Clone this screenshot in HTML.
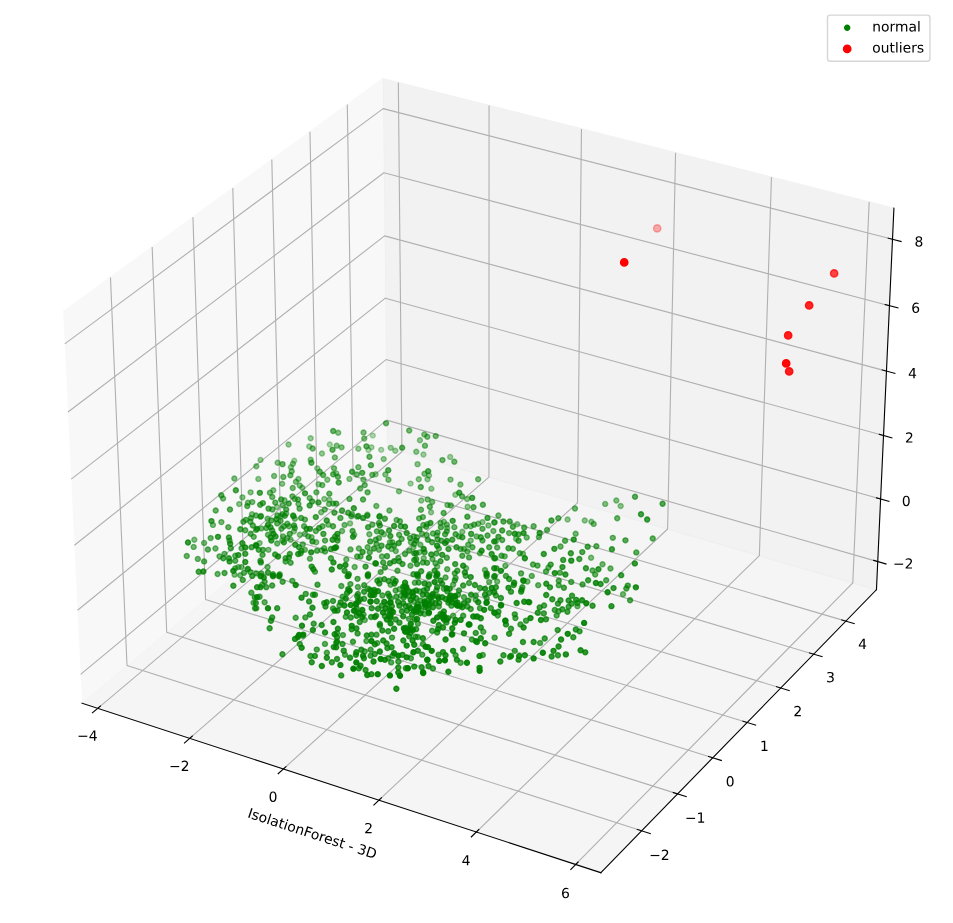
<!DOCTYPE html><html><head><meta charset="utf-8"><style>html,body{margin:0;padding:0;background:#fff;width:953px;height:923px;overflow:hidden}</style></head><body> <svg width="953" height="923" viewBox="0 0 686.448 664.56" preserveAspectRatio="none" style="display:block"> <defs> <style type="text/css">*{stroke-linejoin: round; stroke-linecap: butt}</style> </defs> <g id="figure_1" transform="translate(0.360 0.288)"> <g id="patch_1"> <path d="M 0 664.56 L 686.44 664.56 L 686.44 0 L 0 0 z " style="fill: #ffffff"/> </g> <g id="patch_2"> <path d="M 8.48 670.05 L 673.76 670.05 L 673.76 4.77 L 8.48 4.77 z " style="fill: #ffffff"/> </g> <g id="pane3d_1"> <g id="patch_3"> <path d="M 58.72 506.01 L 278.41 321.86 L 275.36 56.27 L 45.15 224.27 " style="fill: #f2f2f2; opacity: 0.5; stroke: #f2f2f2; stroke-linejoin: miter"/> </g> </g> <g id="pane3d_2"> <g id="patch_4"> <path d="M 278.41 321.86 L 630.95 424.32 L 643.53 149.59 L 275.36 56.27 " style="fill: #e6e6e6; opacity: 0.5; stroke: #e6e6e6; stroke-linejoin: miter"/> </g> </g> <g id="pane3d_3"> <g id="patch_5"> <path d="M 58.72 506.01 L 432.42 628.06 L 630.95 424.32 L 278.41 321.86 " style="fill: #ececec; opacity: 0.5; stroke: #ececec; stroke-linejoin: miter"/> </g> </g> <g id="grid3d_1"> <g id="Line3DCollection_1"> <path d="M 70.06 509.72 L 289.16 324.98 L 286.56 59.11 " style="fill: none; stroke: #b0b0b0; stroke-width: 0.8"/> <path d="M 136.27 531.34 L 351.83 343.20 L 351.91 75.67 " style="fill: none; stroke: #b0b0b0; stroke-width: 0.8"/> <path d="M 203.76 553.38 L 415.61 361.73 L 418.46 92.54 " style="fill: none; stroke: #b0b0b0; stroke-width: 0.8"/> <path d="M 272.56 575.85 L 480.53 380.60 L 486.25 109.73 " style="fill: none; stroke: #b0b0b0; stroke-width: 0.8"/> <path d="M 342.73 598.77 L 546.62 399.81 L 555.32 127.23 " style="fill: none; stroke: #b0b0b0; stroke-width: 0.8"/> <path d="M 414.29 622.14 L 613.91 419.37 L 625.70 145.07 " style="fill: none; stroke: #b0b0b0; stroke-width: 0.8"/> </g> </g> <g id="grid3d_2"> <g id="Line3DCollection_2"> <path d="M 79.21 199.41 L 91.12 478.85 L 461.81 597.90 " style="fill: none; stroke: #b0b0b0; stroke-width: 0.8"/> <path d="M 109.25 177.49 L 119.72 454.88 L 487.72 571.31 " style="fill: none; stroke: #b0b0b0; stroke-width: 0.8"/> <path d="M 138.61 156.06 L 147.71 431.41 L 513.05 545.32 " style="fill: none; stroke: #b0b0b0; stroke-width: 0.8"/> <path d="M 167.33 135.11 L 175.11 408.45 L 537.82 519.90 " style="fill: none; stroke: #b0b0b0; stroke-width: 0.8"/> <path d="M 195.42 114.61 L 201.94 385.96 L 562.04 495.04 " style="fill: none; stroke: #b0b0b0; stroke-width: 0.8"/> <path d="M 222.91 94.55 L 228.21 363.94 L 585.74 470.72 " style="fill: none; stroke: #b0b0b0; stroke-width: 0.8"/> <path d="M 249.81 74.92 L 253.95 342.36 L 608.93 446.92 " style="fill: none; stroke: #b0b0b0; stroke-width: 0.8"/> </g> </g> <g id="grid3d_3"> <g id="Line3DCollection_3"> <path d="M 631.88 404.06 L 278.19 302.22 L 57.72 485.26 " style="fill: none; stroke: #b0b0b0; stroke-width: 0.8"/> <path d="M 633.94 359.01 L 277.69 258.61 L 55.49 439.11 " style="fill: none; stroke: #b0b0b0; stroke-width: 0.8"/> <path d="M 636.03 313.29 L 277.18 214.39 L 53.24 392.26 " style="fill: none; stroke: #b0b0b0; stroke-width: 0.8"/> <path d="M 638.16 266.90 L 276.66 169.54 L 50.95 344.69 " style="fill: none; stroke: #b0b0b0; stroke-width: 0.8"/> <path d="M 640.31 219.81 L 276.14 124.05 L 48.62 296.37 " style="fill: none; stroke: #b0b0b0; stroke-width: 0.8"/> <path d="M 642.50 172.02 L 275.61 77.91 L 46.26 247.30 " style="fill: none; stroke: #b0b0b0; stroke-width: 0.8"/> </g> </g> <g id="axis3d_1"> <g id="line2d_1"> <path d="M 58.72 506.01 L 432.42 628.06 " style="fill: none; stroke: #000000; stroke-width: 0.8; stroke-linecap: square"/> </g> <g id="xtick_1"> <g id="line2d_2"> <path d="M 71.97 508.11 L 66.24 512.94 " style="fill: none; stroke: #000000; stroke-width: 0.8; stroke-linecap: square"/> </g> <g id="text_1"> <!-- −4 --> <g transform="translate(55.181908 532.965498) scale(0.1 -0.1)"> <defs> <path id="DejaVuSans-2212" d="M 678 2272 L 4684 2272 L 4684 1741 L 678 1741 L 678 2272 z " transform="scale(0.015625)"/> <path id="DejaVuSans-34" d="M 2419 4116 L 825 1625 L 2419 1625 L 2419 4116 z M 2253 4666 L 3047 4666 L 3047 1625 L 3713 1625 L 3713 1100 L 3047 1100 L 3047 0 L 2419 0 L 2419 1100 L 313 1100 L 313 1709 L 2253 4666 z " transform="scale(0.015625)"/> </defs> <use href="#DejaVuSans-2212"/> <use href="#DejaVuSans-34" transform="translate(83.789062 0)"/> </g> </g> </g> <g id="xtick_2"> <g id="line2d_3"> <path d="M 138.15 529.70 L 132.51 534.63 " style="fill: none; stroke: #000000; stroke-width: 0.8; stroke-linecap: square"/> </g> <g id="text_2"> <!-- −2 --> <g transform="translate(121.415545 554.771027) scale(0.1 -0.1)"> <defs> <path id="DejaVuSans-32" d="M 1228 531 L 3431 531 L 3431 0 L 469 0 L 469 531 Q 828 903 1448 1529 Q 2069 2156 2228 2338 Q 2531 2678 2651 2914 Q 2772 3150 2772 3378 Q 2772 3750 2511 3984 Q 2250 4219 1831 4219 Q 1534 4219 1204 4116 Q 875 4013 500 3803 L 500 4441 Q 881 4594 1212 4672 Q 1544 4750 1819 4750 Q 2544 4750 2975 4387 Q 3406 4025 3406 3419 Q 3406 3131 3298 2873 Q 3191 2616 2906 2266 Q 2828 2175 2409 1742 Q 1991 1309 1228 531 z " transform="scale(0.015625)"/> </defs> <use href="#DejaVuSans-2212"/> <use href="#DejaVuSans-32" transform="translate(83.789062 0)"/> </g> </g> </g> <g id="xtick_3"> <g id="line2d_4"> <path d="M 205.61 551.71 L 200.06 556.73 " style="fill: none; stroke: #000000; stroke-width: 0.8; stroke-linecap: square"/> </g> <g id="text_3"> <!-- 0 --> <g transform="translate(193.12204 576.998951) scale(0.1 -0.1)"> <defs> <path id="DejaVuSans-30" d="M 2034 4250 Q 1547 4250 1301 3770 Q 1056 3291 1056 2328 Q 1056 1369 1301 889 Q 1547 409 2034 409 Q 2525 409 2770 889 Q 3016 1369 3016 2328 Q 3016 3291 2770 3770 Q 2525 4250 2034 4250 z M 2034 4750 Q 2819 4750 3233 4129 Q 3647 3509 3647 2328 Q 3647 1150 3233 529 Q 2819 -91 2034 -91 Q 1250 -91 836 529 Q 422 1150 422 2328 Q 422 3509 836 4129 Q 1250 4750 2034 4750 z " transform="scale(0.015625)"/> </defs> <use href="#DejaVuSans-30"/> </g> </g> </g> <g id="xtick_4"> <g id="line2d_5"> <path d="M 274.38 574.15 L 268.93 579.27 " style="fill: none; stroke: #000000; stroke-width: 0.8; stroke-linecap: square"/> </g> <g id="text_4"> <!-- 2 --> <g transform="translate(261.95935 599.661665) scale(0.1 -0.1)"> <use href="#DejaVuSans-32"/> </g> </g> </g> <g id="xtick_5"> <g id="line2d_6"> <path d="M 344.51 597.03 L 339.16 602.25 " style="fill: none; stroke: #000000; stroke-width: 0.8; stroke-linecap: square"/> </g> <g id="text_5"> <!-- 4 --> <g transform="translate(332.156452 622.772051) scale(0.1 -0.1)"> <use href="#DejaVuSans-34"/> </g> </g> </g> <g id="xtick_6"> <g id="line2d_7"> <path d="M 416.03 620.37 L 410.79 625.69 " style="fill: none; stroke: #000000; stroke-width: 0.8; stroke-linecap: square"/> </g> <g id="text_6"> <!-- 6 --> <g transform="translate(403.754038 646.343507) scale(0.1 -0.1)"> <defs> <path id="DejaVuSans-36" d="M 2113 2584 Q 1688 2584 1439 2293 Q 1191 2003 1191 1497 Q 1191 994 1439 701 Q 1688 409 2113 409 Q 2538 409 2786 701 Q 3034 994 3034 1497 Q 3034 2003 2786 2293 Q 2538 2584 2113 2584 z M 3366 4563 L 3366 3988 Q 3128 4100 2886 4159 Q 2644 4219 2406 4219 Q 1781 4219 1451 3797 Q 1122 3375 1075 2522 Q 1259 2794 1537 2939 Q 1816 3084 2150 3084 Q 2853 3084 3261 2657 Q 3669 2231 3669 1497 Q 3669 778 3244 343 Q 2819 -91 2113 -91 Q 1303 -91 875 529 Q 447 1150 447 2328 Q 447 3434 972 4092 Q 1497 4750 2381 4750 Q 2619 4750 2861 4703 Q 3103 4656 3366 4563 z " transform="scale(0.015625)"/> </defs> <use href="#DejaVuSans-36"/> </g> </g> </g> <g id="text_7"> <!-- IsolationForest - 3D --> <g transform="translate(177.456627 588.089284) rotate(-341.912962) scale(0.1 -0.1)"> <defs> <path id="DejaVuSans-49" d="M 628 4666 L 1259 4666 L 1259 0 L 628 0 L 628 4666 z " transform="scale(0.015625)"/> <path id="DejaVuSans-73" d="M 2834 3397 L 2834 2853 Q 2591 2978 2328 3040 Q 2066 3103 1784 3103 Q 1356 3103 1142 2972 Q 928 2841 928 2578 Q 928 2378 1081 2264 Q 1234 2150 1697 2047 L 1894 2003 Q 2506 1872 2764 1633 Q 3022 1394 3022 966 Q 3022 478 2636 193 Q 2250 -91 1575 -91 Q 1294 -91 989 -36 Q 684 19 347 128 L 347 722 Q 666 556 975 473 Q 1284 391 1588 391 Q 1994 391 2212 530 Q 2431 669 2431 922 Q 2431 1156 2273 1281 Q 2116 1406 1581 1522 L 1381 1569 Q 847 1681 609 1914 Q 372 2147 372 2553 Q 372 3047 722 3315 Q 1072 3584 1716 3584 Q 2034 3584 2315 3537 Q 2597 3491 2834 3397 z " transform="scale(0.015625)"/> <path id="DejaVuSans-6f" d="M 1959 3097 Q 1497 3097 1228 2736 Q 959 2375 959 1747 Q 959 1119 1226 758 Q 1494 397 1959 397 Q 2419 397 2687 759 Q 2956 1122 2956 1747 Q 2956 2369 2687 2733 Q 2419 3097 1959 3097 z M 1959 3584 Q 2709 3584 3137 3096 Q 3566 2609 3566 1747 Q 3566 888 3137 398 Q 2709 -91 1959 -91 Q 1206 -91 779 398 Q 353 888 353 1747 Q 353 2609 779 3096 Q 1206 3584 1959 3584 z " transform="scale(0.015625)"/> <path id="DejaVuSans-6c" d="M 603 4863 L 1178 4863 L 1178 0 L 603 0 L 603 4863 z " transform="scale(0.015625)"/> <path id="DejaVuSans-61" d="M 2194 1759 Q 1497 1759 1228 1600 Q 959 1441 959 1056 Q 959 750 1161 570 Q 1363 391 1709 391 Q 2188 391 2477 730 Q 2766 1069 2766 1631 L 2766 1759 L 2194 1759 z M 3341 1997 L 3341 0 L 2766 0 L 2766 531 Q 2569 213 2275 61 Q 1981 -91 1556 -91 Q 1019 -91 701 211 Q 384 513 384 1019 Q 384 1609 779 1909 Q 1175 2209 1959 2209 L 2766 2209 L 2766 2266 Q 2766 2663 2505 2880 Q 2244 3097 1772 3097 Q 1472 3097 1187 3025 Q 903 2953 641 2809 L 641 3341 Q 956 3463 1253 3523 Q 1550 3584 1831 3584 Q 2591 3584 2966 3190 Q 3341 2797 3341 1997 z " transform="scale(0.015625)"/> <path id="DejaVuSans-74" d="M 1172 4494 L 1172 3500 L 2356 3500 L 2356 3053 L 1172 3053 L 1172 1153 Q 1172 725 1289 603 Q 1406 481 1766 481 L 2356 481 L 2356 0 L 1766 0 Q 1100 0 847 248 Q 594 497 594 1153 L 594 3053 L 172 3053 L 172 3500 L 594 3500 L 594 4494 L 1172 4494 z " transform="scale(0.015625)"/> <path id="DejaVuSans-69" d="M 603 3500 L 1178 3500 L 1178 0 L 603 0 L 603 3500 z M 603 4863 L 1178 4863 L 1178 4134 L 603 4134 L 603 4863 z " transform="scale(0.015625)"/> <path id="DejaVuSans-6e" d="M 3513 2113 L 3513 0 L 2938 0 L 2938 2094 Q 2938 2591 2744 2837 Q 2550 3084 2163 3084 Q 1697 3084 1428 2787 Q 1159 2491 1159 1978 L 1159 0 L 581 0 L 581 3500 L 1159 3500 L 1159 2956 Q 1366 3272 1645 3428 Q 1925 3584 2291 3584 Q 2894 3584 3203 3211 Q 3513 2838 3513 2113 z " transform="scale(0.015625)"/> <path id="DejaVuSans-46" d="M 628 4666 L 3309 4666 L 3309 4134 L 1259 4134 L 1259 2759 L 3109 2759 L 3109 2228 L 1259 2228 L 1259 0 L 628 0 L 628 4666 z " transform="scale(0.015625)"/> <path id="DejaVuSans-72" d="M 2631 2963 Q 2534 3019 2420 3045 Q 2306 3072 2169 3072 Q 1681 3072 1420 2755 Q 1159 2438 1159 1844 L 1159 0 L 581 0 L 581 3500 L 1159 3500 L 1159 2956 Q 1341 3275 1631 3429 Q 1922 3584 2338 3584 Q 2397 3584 2469 3576 Q 2541 3569 2628 3553 L 2631 2963 z " transform="scale(0.015625)"/> <path id="DejaVuSans-65" d="M 3597 1894 L 3597 1613 L 953 1613 Q 991 1019 1311 708 Q 1631 397 2203 397 Q 2534 397 2845 478 Q 3156 559 3463 722 L 3463 178 Q 3153 47 2828 -22 Q 2503 -91 2169 -91 Q 1331 -91 842 396 Q 353 884 353 1716 Q 353 2575 817 3079 Q 1281 3584 2069 3584 Q 2775 3584 3186 3129 Q 3597 2675 3597 1894 z M 3022 2063 Q 3016 2534 2758 2815 Q 2500 3097 2075 3097 Q 1594 3097 1305 2825 Q 1016 2553 972 2059 L 3022 2063 z " transform="scale(0.015625)"/> <path id="DejaVuSans-20" transform="scale(0.015625)"/> <path id="DejaVuSans-2d" d="M 313 2009 L 1997 2009 L 1997 1497 L 313 1497 L 313 2009 z " transform="scale(0.015625)"/> <path id="DejaVuSans-33" d="M 2597 2516 Q 3050 2419 3304 2112 Q 3559 1806 3559 1356 Q 3559 666 3084 287 Q 2609 -91 1734 -91 Q 1441 -91 1130 -33 Q 819 25 488 141 L 488 750 Q 750 597 1062 519 Q 1375 441 1716 441 Q 2309 441 2620 675 Q 2931 909 2931 1356 Q 2931 1769 2642 2001 Q 2353 2234 1838 2234 L 1294 2234 L 1294 2753 L 1863 2753 Q 2328 2753 2575 2939 Q 2822 3125 2822 3475 Q 2822 3834 2567 4026 Q 2313 4219 1838 4219 Q 1578 4219 1281 4162 Q 984 4106 628 3988 L 628 4550 Q 988 4650 1302 4700 Q 1616 4750 1894 4750 Q 2613 4750 3031 4423 Q 3450 4097 3450 3541 Q 3450 3153 3228 2886 Q 3006 2619 2597 2516 z " transform="scale(0.015625)"/> <path id="DejaVuSans-44" d="M 1259 4147 L 1259 519 L 2022 519 Q 2988 519 3436 956 Q 3884 1394 3884 2338 Q 3884 3275 3436 3711 Q 2988 4147 2022 4147 L 1259 4147 z M 628 4666 L 1925 4666 Q 3281 4666 3915 4102 Q 4550 3538 4550 2338 Q 4550 1131 3912 565 Q 3275 0 1925 0 L 628 0 L 628 4666 z " transform="scale(0.015625)"/> </defs> <use href="#DejaVuSans-49"/> <use href="#DejaVuSans-73" transform="translate(29.492188 0)"/> <use href="#DejaVuSans-6f" transform="translate(81.591797 0)"/> <use href="#DejaVuSans-6c" transform="translate(142.773438 0)"/> <use href="#DejaVuSans-61" transform="translate(170.556641 0)"/> <use href="#DejaVuSans-74" transform="translate(231.835938 0)"/> <use href="#DejaVuSans-69" transform="translate(271.044922 0)"/> <use href="#DejaVuSans-6f" transform="translate(298.828125 0)"/> <use href="#DejaVuSans-6e" transform="translate(360.009766 0)"/> <use href="#DejaVuSans-46" transform="translate(423.388672 0)"/> <use href="#DejaVuSans-6f" transform="translate(477.283203 0)"/> <use href="#DejaVuSans-72" transform="translate(538.464844 0)"/> <use href="#DejaVuSans-65" transform="translate(577.328125 0)"/> <use href="#DejaVuSans-73" transform="translate(638.851562 0)"/> <use href="#DejaVuSans-74" transform="translate(690.951172 0)"/> <use href="#DejaVuSans-20" transform="translate(730.160156 0)"/> <use href="#DejaVuSans-2d" transform="translate(761.947266 0)"/> <use href="#DejaVuSans-20" transform="translate(798.03125 0)"/> <use href="#DejaVuSans-33" transform="translate(829.818359 0)"/> <use href="#DejaVuSans-44" transform="translate(893.441406 0)"/> </g> </g> </g> <g id="axis3d_2"> <g id="line2d_8"> <path d="M 630.95 424.32 L 432.42 628.06 " style="fill: none; stroke: #000000; stroke-width: 0.8; stroke-linecap: square"/> </g> <g id="xtick_7"> <g id="line2d_9"> <path d="M 458.69 596.89 L 468.07 599.91 " style="fill: none; stroke: #000000; stroke-width: 0.8; stroke-linecap: square"/> </g> <g id="text_8"> <!-- −2 --> <g transform="translate(467.240496 618.824644) scale(0.1 -0.1)"> <use href="#DejaVuSans-2212"/> <use href="#DejaVuSans-32" transform="translate(83.789062 0)"/> </g> </g> </g> <g id="xtick_8"> <g id="line2d_10"> <path d="M 484.62 570.33 L 493.93 573.27 " style="fill: none; stroke: #000000; stroke-width: 0.8; stroke-linecap: square"/> </g> <g id="text_9"> <!-- −1 --> <g transform="translate(493.010054 592.078843) scale(0.1 -0.1)"> <defs> <path id="DejaVuSans-31" d="M 794 531 L 1825 531 L 1825 4091 L 703 3866 L 703 4441 L 1819 4666 L 2450 4666 L 2450 531 L 3481 531 L 3481 0 L 794 0 L 794 531 z " transform="scale(0.015625)"/> </defs> <use href="#DejaVuSans-2212"/> <use href="#DejaVuSans-31" transform="translate(83.789062 0)"/> </g> </g> </g> <g id="xtick_9"> <g id="line2d_11"> <path d="M 509.98 544.36 L 519.21 547.24 " style="fill: none; stroke: #000000; stroke-width: 0.8; stroke-linecap: square"/> </g> <g id="text_10"> <!-- 0 --> <g transform="translate(522.391672 565.932714) scale(0.1 -0.1)"> <use href="#DejaVuSans-30"/> </g> </g> </g> <g id="xtick_10"> <g id="line2d_12"> <path d="M 534.77 518.96 L 543.93 521.78 " style="fill: none; stroke: #000000; stroke-width: 0.8; stroke-linecap: square"/> </g> <g id="text_11"> <!-- 1 --> <g transform="translate(547.024879 540.366313) scale(0.1 -0.1)"> <use href="#DejaVuSans-31"/> </g> </g> </g> <g id="xtick_11"> <g id="line2d_13"> <path d="M 559.01 494.12 L 568.10 496.88 " style="fill: none; stroke: #000000; stroke-width: 0.8; stroke-linecap: square"/> </g> <g id="text_12"> <!-- 2 --> <g transform="translate(571.117893 515.360569) scale(0.1 -0.1)"> <use href="#DejaVuSans-32"/> </g> </g> </g> <g id="xtick_12"> <g id="line2d_14"> <path d="M 582.73 469.82 L 591.75 472.52 " style="fill: none; stroke: #000000; stroke-width: 0.8; stroke-linecap: square"/> </g> <g id="text_13"> <!-- 3 --> <g transform="translate(594.68829 490.897241) scale(0.1 -0.1)"> <use href="#DejaVuSans-33"/> </g> </g> </g> <g id="xtick_13"> <g id="line2d_15"> <path d="M 605.95 446.05 L 614.90 448.68 " style="fill: none; stroke: #000000; stroke-width: 0.8; stroke-linecap: square"/> </g> <g id="text_14"> <!-- 4 --> <g transform="translate(617.752892 466.958869) scale(0.1 -0.1)"> <use href="#DejaVuSans-34"/> </g> </g> </g> </g> <g id="axis3d_3"> <g id="line2d_16"> <path d="M 630.95 424.32 L 643.53 149.59 " style="fill: none; stroke: #000000; stroke-width: 0.8; stroke-linecap: square"/> </g> <g id="xtick_14"> <g id="line2d_17"> <path d="M 628.91 403.20 L 637.82 405.77 " style="fill: none; stroke: #000000; stroke-width: 0.8; stroke-linecap: square"/> </g> <g id="text_15"> <!-- −2 --> <g transform="translate(642.851561 409.065719) scale(0.1 -0.1)"> <use href="#DejaVuSans-2212"/> <use href="#DejaVuSans-32" transform="translate(83.789062 0)"/> </g> </g> </g> <g id="xtick_15"> <g id="line2d_18"> <path d="M 630.95 358.16 L 639.93 360.70 " style="fill: none; stroke: #000000; stroke-width: 0.8; stroke-linecap: square"/> </g> <g id="text_16"> <!-- 0 --> <g transform="translate(649.235946 364.052377) scale(0.1 -0.1)"> <use href="#DejaVuSans-30"/> </g> </g> </g> <g id="xtick_16"> <g id="line2d_19"> <path d="M 633.02 312.46 L 642.07 314.96 " style="fill: none; stroke: #000000; stroke-width: 0.8; stroke-linecap: square"/> </g> <g id="text_17"> <!-- 2 --> <g transform="translate(651.462819 318.375858) scale(0.1 -0.1)"> <use href="#DejaVuSans-32"/> </g> </g> </g> <g id="xtick_17"> <g id="line2d_20"> <path d="M 635.12 266.08 L 644.24 268.54 " style="fill: none; stroke: #000000; stroke-width: 0.8; stroke-linecap: square"/> </g> <g id="text_18"> <!-- 4 --> <g transform="translate(653.722745 272.021397) scale(0.1 -0.1)"> <use href="#DejaVuSans-34"/> </g> </g> </g> <g id="xtick_18"> <g id="line2d_21"> <path d="M 637.25 219.01 L 646.44 221.43 " style="fill: none; stroke: #000000; stroke-width: 0.8; stroke-linecap: square"/> </g> <g id="text_19"> <!-- 6 --> <g transform="translate(656.016463 224.973788) scale(0.1 -0.1)"> <use href="#DejaVuSans-36"/> </g> </g> </g> <g id="xtick_19"> <g id="line2d_22"> <path d="M 639.42 171.22 L 648.68 173.60 " style="fill: none; stroke: #000000; stroke-width: 0.8; stroke-linecap: square"/> </g> <g id="text_20"> <!-- 8 --> <g transform="translate(658.344738 177.217366) scale(0.1 -0.1)"> <defs> <path id="DejaVuSans-38" d="M 2034 2216 Q 1584 2216 1326 1975 Q 1069 1734 1069 1313 Q 1069 891 1326 650 Q 1584 409 2034 409 Q 2484 409 2743 651 Q 3003 894 3003 1313 Q 3003 1734 2745 1975 Q 2488 2216 2034 2216 z M 1403 2484 Q 997 2584 770 2862 Q 544 3141 544 3541 Q 544 4100 942 4425 Q 1341 4750 2034 4750 Q 2731 4750 3128 4425 Q 3525 4100 3525 3541 Q 3525 3141 3298 2862 Q 3072 2584 2669 2484 Q 3125 2378 3379 2068 Q 3634 1759 3634 1313 Q 3634 634 3220 271 Q 2806 -91 2034 -91 Q 1263 -91 848 271 Q 434 634 434 1313 Q 434 1759 690 2068 Q 947 2378 1403 2484 z M 1172 3481 Q 1172 3119 1398 2916 Q 1625 2713 2034 2713 Q 2441 2713 2670 2916 Q 2900 3119 2900 3481 Q 2900 3844 2670 4047 Q 2441 4250 2034 4250 Q 1625 4250 1398 4047 Q 1172 3844 1172 3481 z " transform="scale(0.015625)"/> </defs> <use href="#DejaVuSans-38"/> </g> </g> </g> </g> <g id="axes_1"> <g id="Path3DCollection_1"> <defs> <path id="C0_0_fbcb3f7219" d="M 0 2.64 C 0.70 2.64 1.37 2.36 1.87 1.87 C 2.36 1.37 2.64 0.70 2.64 -0 C 2.64 -0.70 2.36 -1.37 1.87 -1.87 C 1.37 -2.36 0.70 -2.64 0 -2.64 C -0.70 -2.64 -1.37 -2.36 -1.87 -1.87 C -2.36 -1.37 -2.64 -0.70 -2.64 0 C -2.64 0.70 -2.36 1.37 -1.87 1.87 C -1.37 2.36 -0.70 2.64 0 2.64 z "/> </defs> <g clip-path="url(#p45accf0388)"> <use href="#C0_0_fbcb3f7219" x="473.04" y="164.16" style="fill: #ff0000; fill-opacity: 0.3; stroke: #ff0000; stroke-opacity: 0.3"/> </g> <g clip-path="url(#p45accf0388)"> <use href="#C0_0_fbcb3f7219" x="565.92" y="261.36" style="fill: #ff0000; fill-opacity: 0.97; stroke: #ff0000; stroke-opacity: 0.97"/> </g> <g clip-path="url(#p45accf0388)"> <use href="#C0_0_fbcb3f7219" x="568.08" y="267.12" style="fill: #ff0000; fill-opacity: 0.88; stroke: #ff0000; stroke-opacity: 0.88"/> </g> <g clip-path="url(#p45accf0388)"> <use href="#C0_0_fbcb3f7219" x="567.36" y="241.2" style="fill: #ff0000; fill-opacity: 0.88; stroke: #ff0000; stroke-opacity: 0.88"/> </g> <g clip-path="url(#p45accf0388)"> <use href="#C0_0_fbcb3f7219" x="582.48" y="219.6" style="fill: #ff0000; fill-opacity: 0.85; stroke: #ff0000; stroke-opacity: 0.85"/> </g> <g clip-path="url(#p45accf0388)"> <use href="#C0_0_fbcb3f7219" x="600.48" y="196.56" style="fill: #ff0000; fill-opacity: 0.72; stroke: #ff0000; stroke-opacity: 0.72"/> </g> <g clip-path="url(#p45accf0388)"> <use href="#C0_0_fbcb3f7219" x="449.28" y="188.64" style="fill: #ff0000; stroke: #ff0000"/> </g> </g> <g id="Path3DCollection_2"> <defs> <path id="C1_0_d106ea09ab" d="M 0 1.80 C 0.47 1.80 0.93 1.61 1.27 1.27 C 1.61 0.93 1.80 0.47 1.80 -0 C 1.80 -0.47 1.61 -0.93 1.27 -1.27 C 0.93 -1.61 0.47 -1.80 0 -1.80 C -0.47 -1.80 -0.93 -1.61 -1.27 -1.27 C -1.61 -0.93 -1.80 -0.47 -1.80 0 C -1.80 0.47 -1.61 0.93 -1.27 1.27 C -0.93 1.61 -0.47 1.80 0 1.80 z "/> </defs> <g clip-path="url(#p45accf0388)"> <use href="#C1_0_d106ea09ab" x="268.15769" y="313.332975" style="fill: #008000; fill-opacity: 0.3; stroke: #008000; stroke-opacity: 0.3"/> </g> <g clip-path="url(#p45accf0388)"> <use href="#C1_0_d106ea09ab" x="237.215581" y="319.73996" style="fill: #008000; fill-opacity: 0.308772; stroke: #008000; stroke-opacity: 0.308772"/> </g> <g clip-path="url(#p45accf0388)"> <use href="#C1_0_d106ea09ab" x="265.014641" y="323.729214" style="fill: #008000; fill-opacity: 0.317581; stroke: #008000; stroke-opacity: 0.317581"/> </g> <g clip-path="url(#p45accf0388)"> <use href="#C1_0_d106ea09ab" x="274.202015" y="323.608328" style="fill: #008000; fill-opacity: 0.320775; stroke: #008000; stroke-opacity: 0.320775"/> </g> <g clip-path="url(#p45accf0388)"> <use href="#C1_0_d106ea09ab" x="211.587643" y="331.46595" style="fill: #008000; fill-opacity: 0.334663; stroke: #008000; stroke-opacity: 0.334663"/> </g> <g clip-path="url(#p45accf0388)"> <use href="#C1_0_d106ea09ab" x="267.190598" y="321.79503" style="fill: #008000; fill-opacity: 0.343448; stroke: #008000; stroke-opacity: 0.343448"/> </g> <g clip-path="url(#p45accf0388)"> <use href="#C1_0_d106ea09ab" x="304.665413" y="326.99315" style="fill: #008000; fill-opacity: 0.354096; stroke: #008000; stroke-opacity: 0.354096"/> </g> <g clip-path="url(#p45accf0388)"> <use href="#C1_0_d106ea09ab" x="222.346541" y="321.190598" style="fill: #008000; fill-opacity: 0.364004; stroke: #008000; stroke-opacity: 0.364004"/> </g> <g clip-path="url(#p45accf0388)"> <use href="#C1_0_d106ea09ab" x="323.886367" y="328.685561" style="fill: #008000; fill-opacity: 0.366809; stroke: #008000; stroke-opacity: 0.366809"/> </g> <g clip-path="url(#p45accf0388)"> <use href="#C1_0_d106ea09ab" x="284.356481" y="324.21276" style="fill: #008000; fill-opacity: 0.36683; stroke: #008000; stroke-opacity: 0.36683"/> </g> <g clip-path="url(#p45accf0388)"> <use href="#C1_0_d106ea09ab" x="295.357152" y="347.906514" style="fill: #008000; fill-opacity: 0.372488; stroke: #008000; stroke-opacity: 0.372488"/> </g> <g clip-path="url(#p45accf0388)"> <use href="#C1_0_d106ea09ab" x="281.092545" y="322.15769" style="fill: #008000; fill-opacity: 0.381722; stroke: #008000; stroke-opacity: 0.381722"/> </g> <g clip-path="url(#p45accf0388)"> <use href="#C1_0_d106ea09ab" x="187.289456" y="330.861518" style="fill: #008000; fill-opacity: 0.383303; stroke: #008000; stroke-opacity: 0.383303"/> </g> <g clip-path="url(#p45accf0388)"> <use href="#C1_0_d106ea09ab" x="327.633848" y="355.885024" style="fill: #008000; fill-opacity: 0.38858; stroke: #008000; stroke-opacity: 0.38858"/> </g> <g clip-path="url(#p45accf0388)"> <use href="#C1_0_d106ea09ab" x="223.43452" y="315.267159" style="fill: #008000; fill-opacity: 0.390185; stroke: #008000; stroke-opacity: 0.390185"/> </g> <g clip-path="url(#p45accf0388)"> <use href="#C1_0_d106ea09ab" x="270.21276" y="341.13687" style="fill: #008000; fill-opacity: 0.39599; stroke: #008000; stroke-opacity: 0.39599"/> </g> <g clip-path="url(#p45accf0388)"> <use href="#C1_0_d106ea09ab" x="228.149093" y="336.905843" style="fill: #008000; fill-opacity: 0.396732; stroke: #008000; stroke-opacity: 0.396732"/> </g> <g clip-path="url(#p45accf0388)"> <use href="#C1_0_d106ea09ab" x="308.654668" y="342.103962" style="fill: #008000; fill-opacity: 0.397002; stroke: #008000; stroke-opacity: 0.397002"/> </g> <g clip-path="url(#p45accf0388)"> <use href="#C1_0_d106ea09ab" x="231.533915" y="326.267831" style="fill: #008000; fill-opacity: 0.402049; stroke: #008000; stroke-opacity: 0.402049"/> </g> <g clip-path="url(#p45accf0388)"> <use href="#C1_0_d106ea09ab" x="310.347079" y="351.533109" style="fill: #008000; fill-opacity: 0.404026; stroke: #008000; stroke-opacity: 0.404026"/> </g> <g clip-path="url(#p45accf0388)"> <use href="#C1_0_d106ea09ab" x="307.566689" y="344.763465" style="fill: #008000; fill-opacity: 0.407267; stroke: #008000; stroke-opacity: 0.407267"/> </g> <g clip-path="url(#p45accf0388)"> <use href="#C1_0_d106ea09ab" x="207.477502" y="319.73996" style="fill: #008000; fill-opacity: 0.407488; stroke: #008000; stroke-opacity: 0.407488"/> </g> <g clip-path="url(#p45accf0388)"> <use href="#C1_0_d106ea09ab" x="199.136333" y="364.709738" style="fill: #008000; fill-opacity: 0.408064; stroke: #008000; stroke-opacity: 0.408064"/> </g> <g clip-path="url(#p45accf0388)"> <use href="#C1_0_d106ea09ab" x="257.761451" y="322.762122" style="fill: #008000; fill-opacity: 0.411346; stroke: #008000; stroke-opacity: 0.411346"/> </g> <g clip-path="url(#p45accf0388)"> <use href="#C1_0_d106ea09ab" x="302.126797" y="316.717797" style="fill: #008000; fill-opacity: 0.411709; stroke: #008000; stroke-opacity: 0.411709"/> </g> <g clip-path="url(#p45accf0388)"> <use href="#C1_0_d106ea09ab" x="209.169913" y="336.059637" style="fill: #008000; fill-opacity: 0.413965; stroke: #008000; stroke-opacity: 0.413965"/> </g> <g clip-path="url(#p45accf0388)"> <use href="#C1_0_d106ea09ab" x="310.135013" y="368.560202" style="fill: #008000; fill-opacity: 0.416566; stroke: #008000; stroke-opacity: 0.416566"/> </g> <g clip-path="url(#p45accf0388)"> <use href="#C1_0_d106ea09ab" x="236.852921" y="359.511619" style="fill: #008000; fill-opacity: 0.417679; stroke: #008000; stroke-opacity: 0.417679"/> </g> <g clip-path="url(#p45accf0388)"> <use href="#C1_0_d106ea09ab" x="233.226326" y="359.028073" style="fill: #008000; fill-opacity: 0.420674; stroke: #008000; stroke-opacity: 0.420674"/> </g> <g clip-path="url(#p45accf0388)"> <use href="#C1_0_d106ea09ab" x="229.116185" y="348.39006" style="fill: #008000; fill-opacity: 0.42093; stroke: #008000; stroke-opacity: 0.42093"/> </g> <g clip-path="url(#p45accf0388)"> <use href="#C1_0_d106ea09ab" x="336.458563" y="364.588852" style="fill: #008000; fill-opacity: 0.421971; stroke: #008000; stroke-opacity: 0.421971"/> </g> <g clip-path="url(#p45accf0388)"> <use href="#C1_0_d106ea09ab" x="276.015312" y="330.257085" style="fill: #008000; fill-opacity: 0.426137; stroke: #008000; stroke-opacity: 0.426137"/> </g> <g clip-path="url(#p45accf0388)"> <use href="#C1_0_d106ea09ab" x="185.717931" y="344.521692" style="fill: #008000; fill-opacity: 0.427923; stroke: #008000; stroke-opacity: 0.427923"/> </g> <g clip-path="url(#p45accf0388)"> <use href="#C1_0_d106ea09ab" x="446.706007" y="364.017529" style="fill: #008000; fill-opacity: 0.42795; stroke: #008000; stroke-opacity: 0.42795"/> </g> <g clip-path="url(#p45accf0388)"> <use href="#C1_0_d106ea09ab" x="408.470163" y="373.743147" style="fill: #008000; fill-opacity: 0.42801; stroke: #008000; stroke-opacity: 0.42801"/> </g> <g clip-path="url(#p45accf0388)"> <use href="#C1_0_d106ea09ab" x="420.845659" y="374.483561" style="fill: #008000; fill-opacity: 0.429645; stroke: #008000; stroke-opacity: 0.429645"/> </g> <g clip-path="url(#p45accf0388)"> <use href="#C1_0_d106ea09ab" x="303.093889" y="360.116051" style="fill: #008000; fill-opacity: 0.430867; stroke: #008000; stroke-opacity: 0.430867"/> </g> <g clip-path="url(#p45accf0388)"> <use href="#C1_0_d106ea09ab" x="425.605465" y="375.329749" style="fill: #008000; fill-opacity: 0.431513; stroke: #008000; stroke-opacity: 0.431513"/> </g> <g clip-path="url(#p45accf0388)"> <use href="#C1_0_d106ea09ab" x="347.16272" y="375.636272" style="fill: #008000; fill-opacity: 0.43219; stroke: #008000; stroke-opacity: 0.43219"/> </g> <g clip-path="url(#p45accf0388)"> <use href="#C1_0_d106ea09ab" x="251.779345" y="376.543073" style="fill: #008000; fill-opacity: 0.434192; stroke: #008000; stroke-opacity: 0.434192"/> </g> <g clip-path="url(#p45accf0388)"> <use href="#C1_0_d106ea09ab" x="372.250882" y="377.174811" style="fill: #008000; fill-opacity: 0.435587; stroke: #008000; stroke-opacity: 0.435587"/> </g> <g clip-path="url(#p45accf0388)"> <use href="#C1_0_d106ea09ab" x="241.804433" y="340.532438" style="fill: #008000; fill-opacity: 0.436512; stroke: #008000; stroke-opacity: 0.436512"/> </g> <g clip-path="url(#p45accf0388)"> <use href="#C1_0_d106ea09ab" x="299.467293" y="324.938079" style="fill: #008000; fill-opacity: 0.436795; stroke: #008000; stroke-opacity: 0.436795"/> </g> <g clip-path="url(#p45accf0388)"> <use href="#C1_0_d106ea09ab" x="321.772292" y="379.86801" style="fill: #008000; fill-opacity: 0.441533; stroke: #008000; stroke-opacity: 0.441533"/> </g> <g clip-path="url(#p45accf0388)"> <use href="#C1_0_d106ea09ab" x="211.408564" y="382.286146" style="fill: #008000; fill-opacity: 0.446872; stroke: #008000; stroke-opacity: 0.446872"/> </g> <g clip-path="url(#p45accf0388)"> <use href="#C1_0_d106ea09ab" x="300.434385" y="333.88368" style="fill: #008000; fill-opacity: 0.447537; stroke: #008000; stroke-opacity: 0.447537"/> </g> <g clip-path="url(#p45accf0388)"> <use href="#C1_0_d106ea09ab" x="332.653904" y="382.588413" style="fill: #008000; fill-opacity: 0.44754; stroke: #008000; stroke-opacity: 0.44754"/> </g> <g clip-path="url(#p45accf0388)"> <use href="#C1_0_d106ea09ab" x="251.354466" y="344.521692" style="fill: #008000; fill-opacity: 0.448338; stroke: #008000; stroke-opacity: 0.448338"/> </g> <g clip-path="url(#p45accf0388)"> <use href="#C1_0_d106ea09ab" x="214.609805" y="344.521692" style="fill: #008000; fill-opacity: 0.449099; stroke: #008000; stroke-opacity: 0.449099"/> </g> <g clip-path="url(#p45accf0388)"> <use href="#C1_0_d106ea09ab" x="319.354156" y="375.334005" style="fill: #008000; fill-opacity: 0.449245; stroke: #008000; stroke-opacity: 0.449245"/> </g> <g clip-path="url(#p45accf0388)"> <use href="#C1_0_d106ea09ab" x="199.619879" y="332.916588" style="fill: #008000; fill-opacity: 0.449809; stroke: #008000; stroke-opacity: 0.449809"/> </g> <g clip-path="url(#p45accf0388)"> <use href="#C1_0_d106ea09ab" x="217.390195" y="350.928677" style="fill: #008000; fill-opacity: 0.450125; stroke: #008000; stroke-opacity: 0.450125"/> </g> <g clip-path="url(#p45accf0388)"> <use href="#C1_0_d106ea09ab" x="171.93687" y="362.654668" style="fill: #008000; fill-opacity: 0.450578; stroke: #008000; stroke-opacity: 0.450578"/> </g> <g clip-path="url(#p45accf0388)"> <use href="#C1_0_d106ea09ab" x="336.095903" y="359.028073" style="fill: #008000; fill-opacity: 0.450956; stroke: #008000; stroke-opacity: 0.450956"/> </g> <g clip-path="url(#p45accf0388)"> <use href="#C1_0_d106ea09ab" x="235.402283" y="345.126125" style="fill: #008000; fill-opacity: 0.45115; stroke: #008000; stroke-opacity: 0.45115"/> </g> <g clip-path="url(#p45accf0388)"> <use href="#C1_0_d106ea09ab" x="301.280591" y="344.763465" style="fill: #008000; fill-opacity: 0.451902; stroke: #008000; stroke-opacity: 0.451902"/> </g> <g clip-path="url(#p45accf0388)"> <use href="#C1_0_d106ea09ab" x="254.802015" y="384.704282" style="fill: #008000; fill-opacity: 0.452212; stroke: #008000; stroke-opacity: 0.452212"/> </g> <g clip-path="url(#p45accf0388)"> <use href="#C1_0_d106ea09ab" x="215.640302" y="384.704282" style="fill: #008000; fill-opacity: 0.452212; stroke: #008000; stroke-opacity: 0.452212"/> </g> <g clip-path="url(#p45accf0388)"> <use href="#C1_0_d106ea09ab" x="256.917884" y="371.706801" style="fill: #008000; fill-opacity: 0.453015; stroke: #008000; stroke-opacity: 0.453015"/> </g> <g clip-path="url(#p45accf0388)"> <use href="#C1_0_d106ea09ab" x="287.015984" y="353.467293" style="fill: #008000; fill-opacity: 0.454416; stroke: #008000; stroke-opacity: 0.454416"/> </g> <g clip-path="url(#p45accf0388)"> <use href="#C1_0_d106ea09ab" x="277.224177" y="341.378643" style="fill: #008000; fill-opacity: 0.454759; stroke: #008000; stroke-opacity: 0.454759"/> </g> <g clip-path="url(#p45accf0388)"> <use href="#C1_0_d106ea09ab" x="223.43452" y="330.740631" style="fill: #008000; fill-opacity: 0.45671; stroke: #008000; stroke-opacity: 0.45671"/> </g> <g clip-path="url(#p45accf0388)"> <use href="#C1_0_d106ea09ab" x="210.620551" y="333.641907" style="fill: #008000; fill-opacity: 0.456861; stroke: #008000; stroke-opacity: 0.456861"/> </g> <g clip-path="url(#p45accf0388)"> <use href="#C1_0_d106ea09ab" x="371.344081" y="387.603023" style="fill: #008000; fill-opacity: 0.458612; stroke: #008000; stroke-opacity: 0.458612"/> </g> <g clip-path="url(#p45accf0388)"> <use href="#C1_0_d106ea09ab" x="202.883815" y="348.027401" style="fill: #008000; fill-opacity: 0.458766; stroke: #008000; stroke-opacity: 0.458766"/> </g> <g clip-path="url(#p45accf0388)"> <use href="#C1_0_d106ea09ab" x="243.255071" y="311.277905" style="fill: #008000; fill-opacity: 0.459612; stroke: #008000; stroke-opacity: 0.459612"/> </g> <g clip-path="url(#p45accf0388)"> <use href="#C1_0_d106ea09ab" x="215.576897" y="349.236266" style="fill: #008000; fill-opacity: 0.460094; stroke: #008000; stroke-opacity: 0.460094"/> </g> <g clip-path="url(#p45accf0388)"> <use href="#C1_0_d106ea09ab" x="230.989421" y="368.560202" style="fill: #008000; fill-opacity: 0.46085; stroke: #008000; stroke-opacity: 0.46085"/> </g> <g clip-path="url(#p45accf0388)"> <use href="#C1_0_d106ea09ab" x="202.945088" y="388.93602" style="fill: #008000; fill-opacity: 0.461555; stroke: #008000; stroke-opacity: 0.461555"/> </g> <g clip-path="url(#p45accf0388)"> <use href="#C1_0_d106ea09ab" x="174.233714" y="357.819208" style="fill: #008000; fill-opacity: 0.461881; stroke: #008000; stroke-opacity: 0.461881"/> </g> <g clip-path="url(#p45accf0388)"> <use href="#C1_0_d106ea09ab" x="180.157152" y="354.192612" style="fill: #008000; fill-opacity: 0.465995; stroke: #008000; stroke-opacity: 0.465995"/> </g> <g clip-path="url(#p45accf0388)"> <use href="#C1_0_d106ea09ab" x="324.12814" y="345.005238" style="fill: #008000; fill-opacity: 0.467108; stroke: #008000; stroke-opacity: 0.467108"/> </g> <g clip-path="url(#p45accf0388)"> <use href="#C1_0_d106ea09ab" x="276.262972" y="384.402015" style="fill: #008000; fill-opacity: 0.467238; stroke: #008000; stroke-opacity: 0.467238"/> </g> <g clip-path="url(#p45accf0388)"> <use href="#C1_0_d106ea09ab" x="443.577937" y="360.073442" style="fill: #008000; fill-opacity: 0.467834; stroke: #008000; stroke-opacity: 0.467834"/> </g> <g clip-path="url(#p45accf0388)"> <use href="#C1_0_d106ea09ab" x="201.73602" y="371.404534" style="fill: #008000; fill-opacity: 0.468228; stroke: #008000; stroke-opacity: 0.468228"/> </g> <g clip-path="url(#p45accf0388)"> <use href="#C1_0_d106ea09ab" x="181.133501" y="369.920403" style="fill: #008000; fill-opacity: 0.469043; stroke: #008000; stroke-opacity: 0.469043"/> </g> <g clip-path="url(#p45accf0388)"> <use href="#C1_0_d106ea09ab" x="186.62267" y="390.749622" style="fill: #008000; fill-opacity: 0.470274; stroke: #008000; stroke-opacity: 0.470274"/> </g> <g clip-path="url(#p45accf0388)"> <use href="#C1_0_d106ea09ab" x="208.990428" y="388.331486" style="fill: #008000; fill-opacity: 0.471099; stroke: #008000; stroke-opacity: 0.471099"/> </g> <g clip-path="url(#p45accf0388)"> <use href="#C1_0_d106ea09ab" x="224.103778" y="386.517884" style="fill: #008000; fill-opacity: 0.471849; stroke: #008000; stroke-opacity: 0.471849"/> </g> <g clip-path="url(#p45accf0388)"> <use href="#C1_0_d106ea09ab" x="297.421662" y="393.772292" style="fill: #008000; fill-opacity: 0.472233; stroke: #008000; stroke-opacity: 0.472233"/> </g> <g clip-path="url(#p45accf0388)"> <use href="#C1_0_d106ea09ab" x="196.47683" y="352.741974" style="fill: #008000; fill-opacity: 0.472373; stroke: #008000; stroke-opacity: 0.472373"/> </g> <g clip-path="url(#p45accf0388)"> <use href="#C1_0_d106ea09ab" x="338.699244" y="388.93602" style="fill: #008000; fill-opacity: 0.473196; stroke: #008000; stroke-opacity: 0.473196"/> </g> <g clip-path="url(#p45accf0388)"> <use href="#C1_0_d106ea09ab" x="435.553759" y="362.521496" style="fill: #008000; fill-opacity: 0.474149; stroke: #008000; stroke-opacity: 0.474149"/> </g> <g clip-path="url(#p45accf0388)"> <use href="#C1_0_d106ea09ab" x="184.267293" y="335.455205" style="fill: #008000; fill-opacity: 0.474197; stroke: #008000; stroke-opacity: 0.474197"/> </g> <g clip-path="url(#p45accf0388)"> <use href="#C1_0_d106ea09ab" x="305.269846" y="312.48677" style="fill: #008000; fill-opacity: 0.474473; stroke: #008000; stroke-opacity: 0.474473"/> </g> <g clip-path="url(#p45accf0388)"> <use href="#C1_0_d106ea09ab" x="281.703778" y="394.98136" style="fill: #008000; fill-opacity: 0.474903; stroke: #008000; stroke-opacity: 0.474903"/> </g> <g clip-path="url(#p45accf0388)"> <use href="#C1_0_d106ea09ab" x="356.835264" y="389.416625" style="fill: #008000; fill-opacity: 0.475825; stroke: #008000; stroke-opacity: 0.475825"/> </g> <g clip-path="url(#p45accf0388)"> <use href="#C1_0_d106ea09ab" x="355.626196" y="375.938539" style="fill: #008000; fill-opacity: 0.476851; stroke: #008000; stroke-opacity: 0.476851"/> </g> <g clip-path="url(#p45accf0388)"> <use href="#C1_0_d106ea09ab" x="231.358186" y="395.888161" style="fill: #008000; fill-opacity: 0.476905; stroke: #008000; stroke-opacity: 0.476905"/> </g> <g clip-path="url(#p45accf0388)"> <use href="#C1_0_d106ea09ab" x="204.576226" y="359.874278" style="fill: #008000; fill-opacity: 0.478125; stroke: #008000; stroke-opacity: 0.478125"/> </g> <g clip-path="url(#p45accf0388)"> <use href="#C1_0_d106ea09ab" x="351.394458" y="378.054408" style="fill: #008000; fill-opacity: 0.478765; stroke: #008000; stroke-opacity: 0.478765"/> </g> <g clip-path="url(#p45accf0388)"> <use href="#C1_0_d106ea09ab" x="139.602015" y="388.328463" style="fill: #008000; fill-opacity: 0.479255; stroke: #008000; stroke-opacity: 0.479255"/> </g> <g clip-path="url(#p45accf0388)"> <use href="#C1_0_d106ea09ab" x="212.796508" y="346.576763" style="fill: #008000; fill-opacity: 0.479585; stroke: #008000; stroke-opacity: 0.479585"/> </g> <g clip-path="url(#p45accf0388)"> <use href="#C1_0_d106ea09ab" x="242.167092" y="320.586165" style="fill: #008000; fill-opacity: 0.480193; stroke: #008000; stroke-opacity: 0.480193"/> </g> <g clip-path="url(#p45accf0388)"> <use href="#C1_0_d106ea09ab" x="301.82267" y="397.399496" style="fill: #008000; fill-opacity: 0.480242; stroke: #008000; stroke-opacity: 0.480242"/> </g> <g clip-path="url(#p45accf0388)"> <use href="#C1_0_d106ea09ab" x="197.081263" y="342.466622" style="fill: #008000; fill-opacity: 0.48166; stroke: #008000; stroke-opacity: 0.48166"/> </g> <g clip-path="url(#p45accf0388)"> <use href="#C1_0_d106ea09ab" x="245.672801" y="321.79503" style="fill: #008000; fill-opacity: 0.481708; stroke: #008000; stroke-opacity: 0.481708"/> </g> <g clip-path="url(#p45accf0388)"> <use href="#C1_0_d106ea09ab" x="205.798489" y="369.467003" style="fill: #008000; fill-opacity: 0.482053; stroke: #008000; stroke-opacity: 0.482053"/> </g> <g clip-path="url(#p45accf0388)"> <use href="#C1_0_d106ea09ab" x="227.428715" y="390.145088" style="fill: #008000; fill-opacity: 0.482815; stroke: #008000; stroke-opacity: 0.482815"/> </g> <g clip-path="url(#p45accf0388)"> <use href="#C1_0_d106ea09ab" x="300.009068" y="386.517884" style="fill: #008000; fill-opacity: 0.485843; stroke: #008000; stroke-opacity: 0.485843"/> </g> <g clip-path="url(#p45accf0388)"> <use href="#C1_0_d106ea09ab" x="425.393918" y="401.244249" style="fill: #008000; fill-opacity: 0.489443; stroke: #008000; stroke-opacity: 0.489443"/> </g> <g clip-path="url(#p45accf0388)"> <use href="#C1_0_d106ea09ab" x="304.84534" y="401.631234" style="fill: #008000; fill-opacity: 0.489586; stroke: #008000; stroke-opacity: 0.489586"/> </g> <g clip-path="url(#p45accf0388)"> <use href="#C1_0_d106ea09ab" x="314.215617" y="385.308816" style="fill: #008000; fill-opacity: 0.48995; stroke: #008000; stroke-opacity: 0.48995"/> </g> <g clip-path="url(#p45accf0388)"> <use href="#C1_0_d106ea09ab" x="305.390732" y="340.774211" style="fill: #008000; fill-opacity: 0.490887; stroke: #008000; stroke-opacity: 0.490887"/> </g> <g clip-path="url(#p45accf0388)"> <use href="#C1_0_d106ea09ab" x="331.260443" y="348.510947" style="fill: #008000; fill-opacity: 0.491542; stroke: #008000; stroke-opacity: 0.491542"/> </g> <g clip-path="url(#p45accf0388)"> <use href="#C1_0_d106ea09ab" x="261.508932" y="311.157018" style="fill: #008000; fill-opacity: 0.492861; stroke: #008000; stroke-opacity: 0.492861"/> </g> <g clip-path="url(#p45accf0388)"> <use href="#C1_0_d106ea09ab" x="261.388046" y="345.005238" style="fill: #008000; fill-opacity: 0.493132; stroke: #008000; stroke-opacity: 0.493132"/> </g> <g clip-path="url(#p45accf0388)"> <use href="#C1_0_d106ea09ab" x="279.400134" y="345.126125" style="fill: #008000; fill-opacity: 0.493811; stroke: #008000; stroke-opacity: 0.493811"/> </g> <g clip-path="url(#p45accf0388)"> <use href="#C1_0_d106ea09ab" x="295.60806" y="390.145088" style="fill: #008000; fill-opacity: 0.495075; stroke: #008000; stroke-opacity: 0.495075"/> </g> <g clip-path="url(#p45accf0388)"> <use href="#C1_0_d106ea09ab" x="219.267506" y="384.099748" style="fill: #008000; fill-opacity: 0.497318; stroke: #008000; stroke-opacity: 0.497318"/> </g> <g clip-path="url(#p45accf0388)"> <use href="#C1_0_d106ea09ab" x="338.699244" y="378.658942" style="fill: #008000; fill-opacity: 0.497422; stroke: #008000; stroke-opacity: 0.497422"/> </g> <g clip-path="url(#p45accf0388)"> <use href="#C1_0_d106ea09ab" x="269.915365" y="405.258438" style="fill: #008000; fill-opacity: 0.497594; stroke: #008000; stroke-opacity: 0.497594"/> </g> <g clip-path="url(#p45accf0388)"> <use href="#C1_0_d106ea09ab" x="261.992478" y="315.508932" style="fill: #008000; fill-opacity: 0.497776; stroke: #008000; stroke-opacity: 0.497776"/> </g> <g clip-path="url(#p45accf0388)"> <use href="#C1_0_d106ea09ab" x="168.431162" y="344.279919" style="fill: #008000; fill-opacity: 0.49864; stroke: #008000; stroke-opacity: 0.49864"/> </g> <g clip-path="url(#p45accf0388)"> <use href="#C1_0_d106ea09ab" x="321.952183" y="363.2591" style="fill: #008000; fill-opacity: 0.498693; stroke: #008000; stroke-opacity: 0.498693"/> </g> <g clip-path="url(#p45accf0388)"> <use href="#C1_0_d106ea09ab" x="209.774345" y="338.960913" style="fill: #008000; fill-opacity: 0.501252; stroke: #008000; stroke-opacity: 0.501252"/> </g> <g clip-path="url(#p45accf0388)"> <use href="#C1_0_d106ea09ab" x="192.970277" y="395.585894" style="fill: #008000; fill-opacity: 0.501628; stroke: #008000; stroke-opacity: 0.501628"/> </g> <g clip-path="url(#p45accf0388)"> <use href="#C1_0_d106ea09ab" x="257.761451" y="336.059637" style="fill: #008000; fill-opacity: 0.5024; stroke: #008000; stroke-opacity: 0.5024"/> </g> <g clip-path="url(#p45accf0388)"> <use href="#C1_0_d106ea09ab" x="314.517884" y="407.676574" style="fill: #008000; fill-opacity: 0.502934; stroke: #008000; stroke-opacity: 0.502934"/> </g> <g clip-path="url(#p45accf0388)"> <use href="#C1_0_d106ea09ab" x="212.013098" y="373.218136" style="fill: #008000; fill-opacity: 0.503305; stroke: #008000; stroke-opacity: 0.503305"/> </g> <g clip-path="url(#p45accf0388)"> <use href="#C1_0_d106ea09ab" x="240.842176" y="329.04822" style="fill: #008000; fill-opacity: 0.503389; stroke: #008000; stroke-opacity: 0.503389"/> </g> <g clip-path="url(#p45accf0388)"> <use href="#C1_0_d106ea09ab" x="171.34005" y="408.006045" style="fill: #008000; fill-opacity: 0.503661; stroke: #008000; stroke-opacity: 0.503661"/> </g> <g clip-path="url(#p45accf0388)"> <use href="#C1_0_d106ea09ab" x="173.607053" y="408.006045" style="fill: #008000; fill-opacity: 0.503661; stroke: #008000; stroke-opacity: 0.503661"/> </g> <g clip-path="url(#p45accf0388)"> <use href="#C1_0_d106ea09ab" x="211.106297" y="371.404534" style="fill: #008000; fill-opacity: 0.503702; stroke: #008000; stroke-opacity: 0.503702"/> </g> <g clip-path="url(#p45accf0388)"> <use href="#C1_0_d106ea09ab" x="265.683627" y="384.402015" style="fill: #008000; fill-opacity: 0.504485; stroke: #008000; stroke-opacity: 0.504485"/> </g> <g clip-path="url(#p45accf0388)"> <use href="#C1_0_d106ea09ab" x="335.374307" y="408.885642" style="fill: #008000; fill-opacity: 0.505603; stroke: #008000; stroke-opacity: 0.505603"/> </g> <g clip-path="url(#p45accf0388)"> <use href="#C1_0_d106ea09ab" x="376.331486" y="398.484635" style="fill: #008000; fill-opacity: 0.505648; stroke: #008000; stroke-opacity: 0.505648"/> </g> <g clip-path="url(#p45accf0388)"> <use href="#C1_0_d106ea09ab" x="236.611148" y="362.533781" style="fill: #008000; fill-opacity: 0.506116; stroke: #008000; stroke-opacity: 0.506116"/> </g> <g clip-path="url(#p45accf0388)"> <use href="#C1_0_d106ea09ab" x="264.269018" y="370.373804" style="fill: #008000; fill-opacity: 0.506383; stroke: #008000; stroke-opacity: 0.506383"/> </g> <g clip-path="url(#p45accf0388)"> <use href="#C1_0_d106ea09ab" x="236.194458" y="377.449874" style="fill: #008000; fill-opacity: 0.507417; stroke: #008000; stroke-opacity: 0.507417"/> </g> <g clip-path="url(#p45accf0388)"> <use href="#C1_0_d106ea09ab" x="348.976322" y="410.09471" style="fill: #008000; fill-opacity: 0.508273; stroke: #008000; stroke-opacity: 0.508273"/> </g> <g clip-path="url(#p45accf0388)"> <use href="#C1_0_d106ea09ab" x="344.074412" y="344.763465" style="fill: #008000; fill-opacity: 0.510534; stroke: #008000; stroke-opacity: 0.510534"/> </g> <g clip-path="url(#p45accf0388)"> <use href="#C1_0_d106ea09ab" x="211.950302" y="358.907186" style="fill: #008000; fill-opacity: 0.511418; stroke: #008000; stroke-opacity: 0.511418"/> </g> <g clip-path="url(#p45accf0388)"> <use href="#C1_0_d106ea09ab" x="242.711335" y="386.820151" style="fill: #008000; fill-opacity: 0.512266; stroke: #008000; stroke-opacity: 0.512266"/> </g> <g clip-path="url(#p45accf0388)"> <use href="#C1_0_d106ea09ab" x="307.687576" y="359.269846" style="fill: #008000; fill-opacity: 0.512884; stroke: #008000; stroke-opacity: 0.512884"/> </g> <g clip-path="url(#p45accf0388)"> <use href="#C1_0_d106ea09ab" x="267.79503" y="341.620416" style="fill: #008000; fill-opacity: 0.513332; stroke: #008000; stroke-opacity: 0.513332"/> </g> <g clip-path="url(#p45accf0388)"> <use href="#C1_0_d106ea09ab" x="246.036272" y="381.983879" style="fill: #008000; fill-opacity: 0.513581; stroke: #008000; stroke-opacity: 0.513581"/> </g> <g clip-path="url(#p45accf0388)"> <use href="#C1_0_d106ea09ab" x="307.445803" y="314.179181" style="fill: #008000; fill-opacity: 0.513594; stroke: #008000; stroke-opacity: 0.513594"/> </g> <g clip-path="url(#p45accf0388)"> <use href="#C1_0_d106ea09ab" x="307.263476" y="377.147607" style="fill: #008000; fill-opacity: 0.513713; stroke: #008000; stroke-opacity: 0.513713"/> </g> <g clip-path="url(#p45accf0388)"> <use href="#C1_0_d106ea09ab" x="427.29784" y="376.916351" style="fill: #008000; fill-opacity: 0.514336; stroke: #008000; stroke-opacity: 0.514336"/> </g> <g clip-path="url(#p45accf0388)"> <use href="#C1_0_d106ea09ab" x="270.696306" y="363.984419" style="fill: #008000; fill-opacity: 0.514824; stroke: #008000; stroke-opacity: 0.514824"/> </g> <g clip-path="url(#p45accf0388)"> <use href="#C1_0_d106ea09ab" x="153.02267" y="377.628212" style="fill: #008000; fill-opacity: 0.515576; stroke: #008000; stroke-opacity: 0.515576"/> </g> <g clip-path="url(#p45accf0388)"> <use href="#C1_0_d106ea09ab" x="168.619647" y="413.446851" style="fill: #008000; fill-opacity: 0.515674; stroke: #008000; stroke-opacity: 0.515674"/> </g> <g clip-path="url(#p45accf0388)"> <use href="#C1_0_d106ea09ab" x="280.49471" y="390.145088" style="fill: #008000; fill-opacity: 0.515865; stroke: #008000; stroke-opacity: 0.515865"/> </g> <g clip-path="url(#p45accf0388)"> <use href="#C1_0_d106ea09ab" x="172.700252" y="413.900252" style="fill: #008000; fill-opacity: 0.516675; stroke: #008000; stroke-opacity: 0.516675"/> </g> <g clip-path="url(#p45accf0388)"> <use href="#C1_0_d106ea09ab" x="178.222968" y="361.687576" style="fill: #008000; fill-opacity: 0.517969; stroke: #008000; stroke-opacity: 0.517969"/> </g> <g clip-path="url(#p45accf0388)"> <use href="#C1_0_d106ea09ab" x="302.427204" y="391.95869" style="fill: #008000; fill-opacity: 0.520512; stroke: #008000; stroke-opacity: 0.520512"/> </g> <g clip-path="url(#p45accf0388)"> <use href="#C1_0_d106ea09ab" x="282.308312" y="390.145088" style="fill: #008000; fill-opacity: 0.520956; stroke: #008000; stroke-opacity: 0.520956"/> </g> <g clip-path="url(#p45accf0388)"> <use href="#C1_0_d106ea09ab" x="192.365743" y="373.218136" style="fill: #008000; fill-opacity: 0.521642; stroke: #008000; stroke-opacity: 0.521642"/> </g> <g clip-path="url(#p45accf0388)"> <use href="#C1_0_d106ea09ab" x="344.14005" y="376.84534" style="fill: #008000; fill-opacity: 0.522161; stroke: #008000; stroke-opacity: 0.522161"/> </g> <g clip-path="url(#p45accf0388)"> <use href="#C1_0_d106ea09ab" x="273.155668" y="371.280605" style="fill: #008000; fill-opacity: 0.522946; stroke: #008000; stroke-opacity: 0.522946"/> </g> <g clip-path="url(#p45accf0388)"> <use href="#C1_0_d106ea09ab" x="210.499664" y="351.049563" style="fill: #008000; fill-opacity: 0.523887; stroke: #008000; stroke-opacity: 0.523887"/> </g> <g clip-path="url(#p45accf0388)"> <use href="#C1_0_d106ea09ab" x="273.28262" y="417.173804" style="fill: #008000; fill-opacity: 0.523903; stroke: #008000; stroke-opacity: 0.523903"/> </g> <g clip-path="url(#p45accf0388)"> <use href="#C1_0_d106ea09ab" x="214.609805" y="362.654668" style="fill: #008000; fill-opacity: 0.524725; stroke: #008000; stroke-opacity: 0.524725"/> </g> <g clip-path="url(#p45accf0388)"> <use href="#C1_0_d106ea09ab" x="160.331766" y="358.665413" style="fill: #008000; fill-opacity: 0.525165; stroke: #008000; stroke-opacity: 0.525165"/> </g> <g clip-path="url(#p45accf0388)"> <use href="#C1_0_d106ea09ab" x="203.367361" y="363.500873" style="fill: #008000; fill-opacity: 0.525918; stroke: #008000; stroke-opacity: 0.525918"/> </g> <g clip-path="url(#p45accf0388)"> <use href="#C1_0_d106ea09ab" x="247.849874" y="377.752141" style="fill: #008000; fill-opacity: 0.526204; stroke: #008000; stroke-opacity: 0.526204"/> </g> <g clip-path="url(#p45accf0388)"> <use href="#C1_0_d106ea09ab" x="219.267506" y="395.585894" style="fill: #008000; fill-opacity: 0.526578; stroke: #008000; stroke-opacity: 0.526578"/> </g> <g clip-path="url(#p45accf0388)"> <use href="#C1_0_d106ea09ab" x="379.50529" y="418.434257" style="fill: #008000; fill-opacity: 0.526686; stroke: #008000; stroke-opacity: 0.526686"/> </g> <g clip-path="url(#p45accf0388)"> <use href="#C1_0_d106ea09ab" x="357.742065" y="418.434257" style="fill: #008000; fill-opacity: 0.526686; stroke: #008000; stroke-opacity: 0.526686"/> </g> <g clip-path="url(#p45accf0388)"> <use href="#C1_0_d106ea09ab" x="310.951511" y="361.083143" style="fill: #008000; fill-opacity: 0.527166; stroke: #008000; stroke-opacity: 0.527166"/> </g> <g clip-path="url(#p45accf0388)"> <use href="#C1_0_d106ea09ab" x="351.998992" y="418.836272" style="fill: #008000; fill-opacity: 0.527574; stroke: #008000; stroke-opacity: 0.527574"/> </g> <g clip-path="url(#p45accf0388)"> <use href="#C1_0_d106ea09ab" x="284.726448" y="396.492695" style="fill: #008000; fill-opacity: 0.528279; stroke: #008000; stroke-opacity: 0.528279"/> </g> <g clip-path="url(#p45accf0388)"> <use href="#C1_0_d106ea09ab" x="280.125453" y="367.248355" style="fill: #008000; fill-opacity: 0.528317; stroke: #008000; stroke-opacity: 0.528317"/> </g> <g clip-path="url(#p45accf0388)"> <use href="#C1_0_d106ea09ab" x="345.349118" y="398.00403" style="fill: #008000; fill-opacity: 0.528873; stroke: #008000; stroke-opacity: 0.528873"/> </g> <g clip-path="url(#p45accf0388)"> <use href="#C1_0_d106ea09ab" x="181.366017" y="361.20403" style="fill: #008000; fill-opacity: 0.529402; stroke: #008000; stroke-opacity: 0.529402"/> </g> <g clip-path="url(#p45accf0388)"> <use href="#C1_0_d106ea09ab" x="305.753392" y="320.586165" style="fill: #008000; fill-opacity: 0.529605; stroke: #008000; stroke-opacity: 0.529605"/> </g> <g clip-path="url(#p45accf0388)"> <use href="#C1_0_d106ea09ab" x="255.104282" y="407.978841" style="fill: #008000; fill-opacity: 0.529761; stroke: #008000; stroke-opacity: 0.529761"/> </g> <g clip-path="url(#p45accf0388)"> <use href="#C1_0_d106ea09ab" x="355.021662" y="381.983879" style="fill: #008000; fill-opacity: 0.530373; stroke: #008000; stroke-opacity: 0.530373"/> </g> <g clip-path="url(#p45accf0388)"> <use href="#C1_0_d106ea09ab" x="294.39006" y="309.70638" style="fill: #008000; fill-opacity: 0.530613; stroke: #008000; stroke-opacity: 0.530613"/> </g> <g clip-path="url(#p45accf0388)"> <use href="#C1_0_d106ea09ab" x="285.330982" y="374.124937" style="fill: #008000; fill-opacity: 0.531873; stroke: #008000; stroke-opacity: 0.531873"/> </g> <g clip-path="url(#p45accf0388)"> <use href="#C1_0_d106ea09ab" x="321.470025" y="377.449874" style="fill: #008000; fill-opacity: 0.531947; stroke: #008000; stroke-opacity: 0.531947"/> </g> <g clip-path="url(#p45accf0388)"> <use href="#C1_0_d106ea09ab" x="184.035264" y="381.255416" style="fill: #008000; fill-opacity: 0.532683; stroke: #008000; stroke-opacity: 0.532683"/> </g> <g clip-path="url(#p45accf0388)"> <use href="#C1_0_d106ea09ab" x="414.287704" y="384.003173" style="fill: #008000; fill-opacity: 0.532717; stroke: #008000; stroke-opacity: 0.532717"/> </g> <g clip-path="url(#p45accf0388)"> <use href="#C1_0_d106ea09ab" x="313.490128" y="313.695635" style="fill: #008000; fill-opacity: 0.533781; stroke: #008000; stroke-opacity: 0.533781"/> </g> <g clip-path="url(#p45accf0388)"> <use href="#C1_0_d106ea09ab" x="222.709201" y="358.302754" style="fill: #008000; fill-opacity: 0.534754; stroke: #008000; stroke-opacity: 0.534754"/> </g> <g clip-path="url(#p45accf0388)"> <use href="#C1_0_d106ea09ab" x="249.058942" y="402.538035" style="fill: #008000; fill-opacity: 0.534835; stroke: #008000; stroke-opacity: 0.534835"/> </g> <g clip-path="url(#p45accf0388)"> <use href="#C1_0_d106ea09ab" x="201.131486" y="413.11738" style="fill: #008000; fill-opacity: 0.535062; stroke: #008000; stroke-opacity: 0.535062"/> </g> <g clip-path="url(#p45accf0388)"> <use href="#C1_0_d106ea09ab" x="282.80403" y="416.493703" style="fill: #008000; fill-opacity: 0.535099; stroke: #008000; stroke-opacity: 0.535099"/> </g> <g clip-path="url(#p45accf0388)"> <use href="#C1_0_d106ea09ab" x="363.636272" y="407.099244" style="fill: #008000; fill-opacity: 0.535268; stroke: #008000; stroke-opacity: 0.535268"/> </g> <g clip-path="url(#p45accf0388)"> <use href="#C1_0_d106ea09ab" x="379.051889" y="386.696222" style="fill: #008000; fill-opacity: 0.535614; stroke: #008000; stroke-opacity: 0.535614"/> </g> <g clip-path="url(#p45accf0388)"> <use href="#C1_0_d106ea09ab" x="413.793275" y="365.785569" style="fill: #008000; fill-opacity: 0.535743; stroke: #008000; stroke-opacity: 0.535743"/> </g> <g clip-path="url(#p45accf0388)"> <use href="#C1_0_d106ea09ab" x="146.675063" y="390.595466" style="fill: #008000; fill-opacity: 0.535948; stroke: #008000; stroke-opacity: 0.535948"/> </g> <g clip-path="url(#p45accf0388)"> <use href="#C1_0_d106ea09ab" x="258.126952" y="394.679093" style="fill: #008000; fill-opacity: 0.536316; stroke: #008000; stroke-opacity: 0.536316"/> </g> <g clip-path="url(#p45accf0388)"> <use href="#C1_0_d106ea09ab" x="194.0591" y="354.434385" style="fill: #008000; fill-opacity: 0.537303; stroke: #008000; stroke-opacity: 0.537303"/> </g> <g clip-path="url(#p45accf0388)"> <use href="#C1_0_d106ea09ab" x="264.66801" y="423.521411" style="fill: #008000; fill-opacity: 0.537919; stroke: #008000; stroke-opacity: 0.537919"/> </g> <g clip-path="url(#p45accf0388)"> <use href="#C1_0_d106ea09ab" x="240.237743" y="336.905843" style="fill: #008000; fill-opacity: 0.537996; stroke: #008000; stroke-opacity: 0.537996"/> </g> <g clip-path="url(#p45accf0388)"> <use href="#C1_0_d106ea09ab" x="326.908529" y="332.191269" style="fill: #008000; fill-opacity: 0.538128; stroke: #008000; stroke-opacity: 0.538128"/> </g> <g clip-path="url(#p45accf0388)"> <use href="#C1_0_d106ea09ab" x="224.885158" y="322.641236" style="fill: #008000; fill-opacity: 0.538142; stroke: #008000; stroke-opacity: 0.538142"/> </g> <g clip-path="url(#p45accf0388)"> <use href="#C1_0_d106ea09ab" x="300.613602" y="414.906801" style="fill: #008000; fill-opacity: 0.538257; stroke: #008000; stroke-opacity: 0.538257"/> </g> <g clip-path="url(#p45accf0388)"> <use href="#C1_0_d106ea09ab" x="342.930982" y="385.91335" style="fill: #008000; fill-opacity: 0.538909; stroke: #008000; stroke-opacity: 0.538909"/> </g> <g clip-path="url(#p45accf0388)"> <use href="#C1_0_d106ea09ab" x="287.338035" y="423.974811" style="fill: #008000; fill-opacity: 0.53892; stroke: #008000; stroke-opacity: 0.53892"/> </g> <g clip-path="url(#p45accf0388)"> <use href="#C1_0_d106ea09ab" x="355.928463" y="375.81461" style="fill: #008000; fill-opacity: 0.539277; stroke: #008000; stroke-opacity: 0.539277"/> </g> <g clip-path="url(#p45accf0388)"> <use href="#C1_0_d106ea09ab" x="333.862972" y="394.98136" style="fill: #008000; fill-opacity: 0.539552; stroke: #008000; stroke-opacity: 0.539552"/> </g> <g clip-path="url(#p45accf0388)"> <use href="#C1_0_d106ea09ab" x="233.588986" y="366.523036" style="fill: #008000; fill-opacity: 0.540267; stroke: #008000; stroke-opacity: 0.540267"/> </g> <g clip-path="url(#p45accf0388)"> <use href="#C1_0_d106ea09ab" x="206.572292" y="387.122418" style="fill: #008000; fill-opacity: 0.541361; stroke: #008000; stroke-opacity: 0.541361"/> </g> <g clip-path="url(#p45accf0388)"> <use href="#C1_0_d106ea09ab" x="231.775688" y="348.994493" style="fill: #008000; fill-opacity: 0.541439; stroke: #008000; stroke-opacity: 0.541439"/> </g> <g clip-path="url(#p45accf0388)"> <use href="#C1_0_d106ea09ab" x="159.098237" y="375.633249" style="fill: #008000; fill-opacity: 0.541648; stroke: #008000; stroke-opacity: 0.541648"/> </g> <g clip-path="url(#p45accf0388)"> <use href="#C1_0_d106ea09ab" x="262.355138" y="348.994493" style="fill: #008000; fill-opacity: 0.542186; stroke: #008000; stroke-opacity: 0.542186"/> </g> <g clip-path="url(#p45accf0388)"> <use href="#C1_0_d106ea09ab" x="187.831738" y="380.170277" style="fill: #008000; fill-opacity: 0.542776; stroke: #008000; stroke-opacity: 0.542776"/> </g> <g clip-path="url(#p45accf0388)"> <use href="#C1_0_d106ea09ab" x="227.544661" y="354.192612" style="fill: #008000; fill-opacity: 0.543001; stroke: #008000; stroke-opacity: 0.543001"/> </g> <g clip-path="url(#p45accf0388)"> <use href="#C1_0_d106ea09ab" x="274.751637" y="400.422166" style="fill: #008000; fill-opacity: 0.543047; stroke: #008000; stroke-opacity: 0.543047"/> </g> <g clip-path="url(#p45accf0388)"> <use href="#C1_0_d106ea09ab" x="199.317884" y="391.051889" style="fill: #008000; fill-opacity: 0.54356; stroke: #008000; stroke-opacity: 0.54356"/> </g> <g clip-path="url(#p45accf0388)"> <use href="#C1_0_d106ea09ab" x="272.635768" y="395.585894" style="fill: #008000; fill-opacity: 0.544012; stroke: #008000; stroke-opacity: 0.544012"/> </g> <g clip-path="url(#p45accf0388)"> <use href="#C1_0_d106ea09ab" x="259.091202" y="351.412223" style="fill: #008000; fill-opacity: 0.544024; stroke: #008000; stroke-opacity: 0.544024"/> </g> <g clip-path="url(#p45accf0388)"> <use href="#C1_0_d106ea09ab" x="304.543073" y="377.752141" style="fill: #008000; fill-opacity: 0.544433; stroke: #008000; stroke-opacity: 0.544433"/> </g> <g clip-path="url(#p45accf0388)"> <use href="#C1_0_d106ea09ab" x="280.990428" y="420.801008" style="fill: #008000; fill-opacity: 0.544824; stroke: #008000; stroke-opacity: 0.544824"/> </g> <g clip-path="url(#p45accf0388)"> <use href="#C1_0_d106ea09ab" x="433.644249" y="406.004055" style="fill: #008000; fill-opacity: 0.545702; stroke: #008000; stroke-opacity: 0.545702"/> </g> <g clip-path="url(#p45accf0388)"> <use href="#C1_0_d106ea09ab" x="448.40403" y="427.520403" style="fill: #008000; fill-opacity: 0.546748; stroke: #008000; stroke-opacity: 0.546748"/> </g> <g clip-path="url(#p45accf0388)"> <use href="#C1_0_d106ea09ab" x="139.148615" y="393.497229" style="fill: #008000; fill-opacity: 0.546919; stroke: #008000; stroke-opacity: 0.546919"/> </g> <g clip-path="url(#p45accf0388)"> <use href="#C1_0_d106ea09ab" x="192.66801" y="384.704282" style="fill: #008000; fill-opacity: 0.547209; stroke: #008000; stroke-opacity: 0.547209"/> </g> <g clip-path="url(#p45accf0388)"> <use href="#C1_0_d106ea09ab" x="256.673472" y="341.378643" style="fill: #008000; fill-opacity: 0.548305; stroke: #008000; stroke-opacity: 0.548305"/> </g> <g clip-path="url(#p45accf0388)"> <use href="#C1_0_d106ea09ab" x="358.648866" y="370.827204" style="fill: #008000; fill-opacity: 0.548765; stroke: #008000; stroke-opacity: 0.548765"/> </g> <g clip-path="url(#p45accf0388)"> <use href="#C1_0_d106ea09ab" x="288.432" y="428.688" style="fill: #008000; fill-opacity: 0.549326; stroke: #008000; stroke-opacity: 0.549326"/> </g> <g clip-path="url(#p45accf0388)"> <use href="#C1_0_d106ea09ab" x="316.93602" y="376.240806" style="fill: #008000; fill-opacity: 0.549718; stroke: #008000; stroke-opacity: 0.549718"/> </g> <g clip-path="url(#p45accf0388)"> <use href="#C1_0_d106ea09ab" x="253.206045" y="369.920403" style="fill: #008000; fill-opacity: 0.550424; stroke: #008000; stroke-opacity: 0.550424"/> </g> <g clip-path="url(#p45accf0388)"> <use href="#C1_0_d106ea09ab" x="301.520403" y="372.915869" style="fill: #008000; fill-opacity: 0.550636; stroke: #008000; stroke-opacity: 0.550636"/> </g> <g clip-path="url(#p45accf0388)"> <use href="#C1_0_d106ea09ab" x="188.436272" y="420.649874" style="fill: #008000; fill-opacity: 0.551531; stroke: #008000; stroke-opacity: 0.551531"/> </g> <g clip-path="url(#p45accf0388)"> <use href="#C1_0_d106ea09ab" x="207.78136" y="378.658942" style="fill: #008000; fill-opacity: 0.552573; stroke: #008000; stroke-opacity: 0.552573"/> </g> <g clip-path="url(#p45accf0388)"> <use href="#C1_0_d106ea09ab" x="363.182872" y="400.298237" style="fill: #008000; fill-opacity: 0.552958; stroke: #008000; stroke-opacity: 0.552958"/> </g> <g clip-path="url(#p45accf0388)"> <use href="#C1_0_d106ea09ab" x="335.374307" y="378.658942" style="fill: #008000; fill-opacity: 0.553674; stroke: #008000; stroke-opacity: 0.553674"/> </g> <g clip-path="url(#p45accf0388)"> <use href="#C1_0_d106ea09ab" x="311.495214" y="383.797481" style="fill: #008000; fill-opacity: 0.554146; stroke: #008000; stroke-opacity: 0.554146"/> </g> <g clip-path="url(#p45accf0388)"> <use href="#C1_0_d106ea09ab" x="187.662469" y="371.280605" style="fill: #008000; fill-opacity: 0.554273; stroke: #008000; stroke-opacity: 0.554273"/> </g> <g clip-path="url(#p45accf0388)"> <use href="#C1_0_d106ea09ab" x="203.73002" y="343.071054" style="fill: #008000; fill-opacity: 0.554713; stroke: #008000; stroke-opacity: 0.554713"/> </g> <g clip-path="url(#p45accf0388)"> <use href="#C1_0_d106ea09ab" x="208.807253" y="341.862189" style="fill: #008000; fill-opacity: 0.556715; stroke: #008000; stroke-opacity: 0.556715"/> </g> <g clip-path="url(#p45accf0388)"> <use href="#C1_0_d106ea09ab" x="195.751511" y="357.577435" style="fill: #008000; fill-opacity: 0.557133; stroke: #008000; stroke-opacity: 0.557133"/> </g> <g clip-path="url(#p45accf0388)"> <use href="#C1_0_d106ea09ab" x="303.636272" y="384.099748" style="fill: #008000; fill-opacity: 0.557189; stroke: #008000; stroke-opacity: 0.557189"/> </g> <g clip-path="url(#p45accf0388)"> <use href="#C1_0_d106ea09ab" x="164.992443" y="388.963224" style="fill: #008000; fill-opacity: 0.557231; stroke: #008000; stroke-opacity: 0.557231"/> </g> <g clip-path="url(#p45accf0388)"> <use href="#C1_0_d106ea09ab" x="326.00403" y="420.649874" style="fill: #008000; fill-opacity: 0.557576; stroke: #008000; stroke-opacity: 0.557576"/> </g> <g clip-path="url(#p45accf0388)"> <use href="#C1_0_d106ea09ab" x="206.572292" y="376.84534" style="fill: #008000; fill-opacity: 0.557689; stroke: #008000; stroke-opacity: 0.557689"/> </g> <g clip-path="url(#p45accf0388)"> <use href="#C1_0_d106ea09ab" x="192.365743" y="407.978841" style="fill: #008000; fill-opacity: 0.557813; stroke: #008000; stroke-opacity: 0.557813"/> </g> <g clip-path="url(#p45accf0388)"> <use href="#C1_0_d106ea09ab" x="286.54005" y="401.328967" style="fill: #008000; fill-opacity: 0.558393; stroke: #008000; stroke-opacity: 0.558393"/> </g> <g clip-path="url(#p45accf0388)"> <use href="#C1_0_d106ea09ab" x="318.325588" y="330.982404" style="fill: #008000; fill-opacity: 0.558415; stroke: #008000; stroke-opacity: 0.558415"/> </g> <g clip-path="url(#p45accf0388)"> <use href="#C1_0_d106ea09ab" x="161.365239" y="398.484635" style="fill: #008000; fill-opacity: 0.558468; stroke: #008000; stroke-opacity: 0.558468"/> </g> <g clip-path="url(#p45accf0388)"> <use href="#C1_0_d106ea09ab" x="187.227204" y="414.604534" style="fill: #008000; fill-opacity: 0.558742; stroke: #008000; stroke-opacity: 0.558742"/> </g> <g clip-path="url(#p45accf0388)"> <use href="#C1_0_d106ea09ab" x="212.013098" y="379.86801" style="fill: #008000; fill-opacity: 0.558751; stroke: #008000; stroke-opacity: 0.558751"/> </g> <g clip-path="url(#p45accf0388)"> <use href="#C1_0_d106ea09ab" x="297.766247" y="433.042821" style="fill: #008000; fill-opacity: 0.558942; stroke: #008000; stroke-opacity: 0.558942"/> </g> <g clip-path="url(#p45accf0388)"> <use href="#C1_0_d106ea09ab" x="182.221662" y="433.68665" style="fill: #008000; fill-opacity: 0.560363; stroke: #008000; stroke-opacity: 0.560363"/> </g> <g clip-path="url(#p45accf0388)"> <use href="#C1_0_d106ea09ab" x="217.756171" y="391.656423" style="fill: #008000; fill-opacity: 0.56065; stroke: #008000; stroke-opacity: 0.56065"/> </g> <g clip-path="url(#p45accf0388)"> <use href="#C1_0_d106ea09ab" x="305.496" y="433.872" style="fill: #008000; fill-opacity: 0.560772; stroke: #008000; stroke-opacity: 0.560772"/> </g> <g clip-path="url(#p45accf0388)"> <use href="#C1_0_d106ea09ab" x="304.240806" y="372.009068" style="fill: #008000; fill-opacity: 0.560871; stroke: #008000; stroke-opacity: 0.560871"/> </g> <g clip-path="url(#p45accf0388)"> <use href="#C1_0_d106ea09ab" x="154.836272" y="394.58539" style="fill: #008000; fill-opacity: 0.561416; stroke: #008000; stroke-opacity: 0.561416"/> </g> <g clip-path="url(#p45accf0388)"> <use href="#C1_0_d106ea09ab" x="366.356675" y="383.522418" style="fill: #008000; fill-opacity: 0.561668; stroke: #008000; stroke-opacity: 0.561668"/> </g> <g clip-path="url(#p45accf0388)"> <use href="#C1_0_d106ea09ab" x="326.910831" y="379.263476" style="fill: #008000; fill-opacity: 0.562091; stroke: #008000; stroke-opacity: 0.562091"/> </g> <g clip-path="url(#p45accf0388)"> <use href="#C1_0_d106ea09ab" x="295.305793" y="407.07204" style="fill: #008000; fill-opacity: 0.562607; stroke: #008000; stroke-opacity: 0.562607"/> </g> <g clip-path="url(#p45accf0388)"> <use href="#C1_0_d106ea09ab" x="336.885642" y="391.95869" style="fill: #008000; fill-opacity: 0.562849; stroke: #008000; stroke-opacity: 0.562849"/> </g> <g clip-path="url(#p45accf0388)"> <use href="#C1_0_d106ea09ab" x="142.141058" y="402.111839" style="fill: #008000; fill-opacity: 0.562896; stroke: #008000; stroke-opacity: 0.562896"/> </g> <g clip-path="url(#p45accf0388)"> <use href="#C1_0_d106ea09ab" x="218.662972" y="378.658942" style="fill: #008000; fill-opacity: 0.562981; stroke: #008000; stroke-opacity: 0.562981"/> </g> <g clip-path="url(#p45accf0388)"> <use href="#C1_0_d106ea09ab" x="324.369913" y="363.62176" style="fill: #008000; fill-opacity: 0.563267; stroke: #008000; stroke-opacity: 0.563267"/> </g> <g clip-path="url(#p45accf0388)"> <use href="#C1_0_d106ea09ab" x="441.048391" y="386.96483" style="fill: #008000; fill-opacity: 0.563517; stroke: #008000; stroke-opacity: 0.563517"/> </g> <g clip-path="url(#p45accf0388)"> <use href="#C1_0_d106ea09ab" x="331.444836" y="394.98136" style="fill: #008000; fill-opacity: 0.563673; stroke: #008000; stroke-opacity: 0.563673"/> </g> <g clip-path="url(#p45accf0388)"> <use href="#C1_0_d106ea09ab" x="173.607053" y="394.40403" style="fill: #008000; fill-opacity: 0.563985; stroke: #008000; stroke-opacity: 0.563985"/> </g> <g clip-path="url(#p45accf0388)"> <use href="#C1_0_d106ea09ab" x="313.308816" y="405.258438" style="fill: #008000; fill-opacity: 0.56404; stroke: #008000; stroke-opacity: 0.56404"/> </g> <g clip-path="url(#p45accf0388)"> <use href="#C1_0_d106ea09ab" x="311.192947" y="402.235768" style="fill: #008000; fill-opacity: 0.564087; stroke: #008000; stroke-opacity: 0.564087"/> </g> <g clip-path="url(#p45accf0388)"> <use href="#C1_0_d106ea09ab" x="287.749118" y="375.031738" style="fill: #008000; fill-opacity: 0.564599; stroke: #008000; stroke-opacity: 0.564599"/> </g> <g clip-path="url(#p45accf0388)"> <use href="#C1_0_d106ea09ab" x="314.517884" y="412.512846" style="fill: #008000; fill-opacity: 0.564958; stroke: #008000; stroke-opacity: 0.564958"/> </g> <g clip-path="url(#p45accf0388)"> <use href="#C1_0_d106ea09ab" x="157.738035" y="400.298237" style="fill: #008000; fill-opacity: 0.565105; stroke: #008000; stroke-opacity: 0.565105"/> </g> <g clip-path="url(#p45accf0388)"> <use href="#C1_0_d106ea09ab" x="239.633311" y="362.292008" style="fill: #008000; fill-opacity: 0.565109; stroke: #008000; stroke-opacity: 0.565109"/> </g> <g clip-path="url(#p45accf0388)"> <use href="#C1_0_d106ea09ab" x="252.686146" y="371.404534" style="fill: #008000; fill-opacity: 0.565173; stroke: #008000; stroke-opacity: 0.565173"/> </g> <g clip-path="url(#p45accf0388)"> <use href="#C1_0_d106ea09ab" x="336.281108" y="396.794962" style="fill: #008000; fill-opacity: 0.565523; stroke: #008000; stroke-opacity: 0.565523"/> </g> <g clip-path="url(#p45accf0388)"> <use href="#C1_0_d106ea09ab" x="415.577834" y="436.135013" style="fill: #008000; fill-opacity: 0.565769; stroke: #008000; stroke-opacity: 0.565769"/> </g> <g clip-path="url(#p45accf0388)"> <use href="#C1_0_d106ea09ab" x="210.257891" y="357.093889" style="fill: #008000; fill-opacity: 0.565946; stroke: #008000; stroke-opacity: 0.565946"/> </g> <g clip-path="url(#p45accf0388)"> <use href="#C1_0_d106ea09ab" x="203.549622" y="385.91335" style="fill: #008000; fill-opacity: 0.566044; stroke: #008000; stroke-opacity: 0.566044"/> </g> <g clip-path="url(#p45accf0388)"> <use href="#C1_0_d106ea09ab" x="241.804534" y="393.772292" style="fill: #008000; fill-opacity: 0.566937; stroke: #008000; stroke-opacity: 0.566937"/> </g> <g clip-path="url(#p45accf0388)"> <use href="#C1_0_d106ea09ab" x="231.96272" y="378.658942" style="fill: #008000; fill-opacity: 0.567791; stroke: #008000; stroke-opacity: 0.567791"/> </g> <g clip-path="url(#p45accf0388)"> <use href="#C1_0_d106ea09ab" x="264.474559" y="393.772292" style="fill: #008000; fill-opacity: 0.568643; stroke: #008000; stroke-opacity: 0.568643"/> </g> <g clip-path="url(#p45accf0388)"> <use href="#C1_0_d106ea09ab" x="202.340554" y="380.472544" style="fill: #008000; fill-opacity: 0.569268; stroke: #008000; stroke-opacity: 0.569268"/> </g> <g clip-path="url(#p45accf0388)"> <use href="#C1_0_d106ea09ab" x="444.221595" y="372.896959" style="fill: #008000; fill-opacity: 0.569302; stroke: #008000; stroke-opacity: 0.569302"/> </g> <g clip-path="url(#p45accf0388)"> <use href="#C1_0_d106ea09ab" x="233.171788" y="394.376826" style="fill: #008000; fill-opacity: 0.569797; stroke: #008000; stroke-opacity: 0.569797"/> </g> <g clip-path="url(#p45accf0388)"> <use href="#C1_0_d106ea09ab" x="315.726952" y="394.679093" style="fill: #008000; fill-opacity: 0.57007; stroke: #008000; stroke-opacity: 0.57007"/> </g> <g clip-path="url(#p45accf0388)"> <use href="#C1_0_d106ea09ab" x="222.89471" y="401.933501" style="fill: #008000; fill-opacity: 0.570755; stroke: #008000; stroke-opacity: 0.570755"/> </g> <g clip-path="url(#p45accf0388)"> <use href="#C1_0_d106ea09ab" x="134.161209" y="400.026196" style="fill: #008000; fill-opacity: 0.570889; stroke: #008000; stroke-opacity: 0.570889"/> </g> <g clip-path="url(#p45accf0388)"> <use href="#C1_0_d106ea09ab" x="387.844337" y="386.435963" style="fill: #008000; fill-opacity: 0.571689; stroke: #008000; stroke-opacity: 0.571689"/> </g> <g clip-path="url(#p45accf0388)"> <use href="#C1_0_d106ea09ab" x="332.469308" y="357.093889" style="fill: #008000; fill-opacity: 0.571973; stroke: #008000; stroke-opacity: 0.571973"/> </g> <g clip-path="url(#p45accf0388)"> <use href="#C1_0_d106ea09ab" x="169.073048" y="399.844836" style="fill: #008000; fill-opacity: 0.572247; stroke: #008000; stroke-opacity: 0.572247"/> </g> <g clip-path="url(#p45accf0388)"> <use href="#C1_0_d106ea09ab" x="277.707723" y="304.508261" style="fill: #008000; fill-opacity: 0.57229; stroke: #008000; stroke-opacity: 0.57229"/> </g> <g clip-path="url(#p45accf0388)"> <use href="#C1_0_d106ea09ab" x="281.217128" y="430.775819" style="fill: #008000; fill-opacity: 0.572613; stroke: #008000; stroke-opacity: 0.572613"/> </g> <g clip-path="url(#p45accf0388)"> <use href="#C1_0_d106ea09ab" x="303.031738" y="439.390428" style="fill: #008000; fill-opacity: 0.572957; stroke: #008000; stroke-opacity: 0.572957"/> </g> <g clip-path="url(#p45accf0388)"> <use href="#C1_0_d106ea09ab" x="280.083627" y="439.390428" style="fill: #008000; fill-opacity: 0.572957; stroke: #008000; stroke-opacity: 0.572957"/> </g> <g clip-path="url(#p45accf0388)"> <use href="#C1_0_d106ea09ab" x="302.852116" y="366.764809" style="fill: #008000; fill-opacity: 0.572967; stroke: #008000; stroke-opacity: 0.572967"/> </g> <g clip-path="url(#p45accf0388)"> <use href="#C1_0_d106ea09ab" x="393.661877" y="381.358836" style="fill: #008000; fill-opacity: 0.573343; stroke: #008000; stroke-opacity: 0.573343"/> </g> <g clip-path="url(#p45accf0388)"> <use href="#C1_0_d106ea09ab" x="265.73996" y="328.564674" style="fill: #008000; fill-opacity: 0.574796; stroke: #008000; stroke-opacity: 0.574796"/> </g> <g clip-path="url(#p45accf0388)"> <use href="#C1_0_d106ea09ab" x="197.927468" y="361.566689" style="fill: #008000; fill-opacity: 0.574864; stroke: #008000; stroke-opacity: 0.574864"/> </g> <g clip-path="url(#p45accf0388)"> <use href="#C1_0_d106ea09ab" x="179.95466" y="375.361209" style="fill: #008000; fill-opacity: 0.575256; stroke: #008000; stroke-opacity: 0.575256"/> </g> <g clip-path="url(#p45accf0388)"> <use href="#C1_0_d106ea09ab" x="439.356016" y="409.071485" style="fill: #008000; fill-opacity: 0.575476; stroke: #008000; stroke-opacity: 0.575476"/> </g> <g clip-path="url(#p45accf0388)"> <use href="#C1_0_d106ea09ab" x="156.377834" y="412.993451" style="fill: #008000; fill-opacity: 0.575759; stroke: #008000; stroke-opacity: 0.575759"/> </g> <g clip-path="url(#p45accf0388)"> <use href="#C1_0_d106ea09ab" x="287.144584" y="384.704282" style="fill: #008000; fill-opacity: 0.576049; stroke: #008000; stroke-opacity: 0.576049"/> </g> <g clip-path="url(#p45accf0388)"> <use href="#C1_0_d106ea09ab" x="308.774811" y="414.353652" style="fill: #008000; fill-opacity: 0.576588; stroke: #008000; stroke-opacity: 0.576588"/> </g> <g clip-path="url(#p45accf0388)"> <use href="#C1_0_d106ea09ab" x="308.472544" y="435.763224" style="fill: #008000; fill-opacity: 0.577217; stroke: #008000; stroke-opacity: 0.577217"/> </g> <g clip-path="url(#p45accf0388)"> <use href="#C1_0_d106ea09ab" x="184.035264" y="370.827204" style="fill: #008000; fill-opacity: 0.577416; stroke: #008000; stroke-opacity: 0.577416"/> </g> <g clip-path="url(#p45accf0388)"> <use href="#C1_0_d106ea09ab" x="257.50766" y="431.909339" style="fill: #008000; fill-opacity: 0.577825; stroke: #008000; stroke-opacity: 0.577825"/> </g> <g clip-path="url(#p45accf0388)"> <use href="#C1_0_d106ea09ab" x="182.403023" y="386.242821" style="fill: #008000; fill-opacity: 0.578227; stroke: #008000; stroke-opacity: 0.578227"/> </g> <g clip-path="url(#p45accf0388)"> <use href="#C1_0_d106ea09ab" x="394.719612" y="408.331071" style="fill: #008000; fill-opacity: 0.578292; stroke: #008000; stroke-opacity: 0.578292"/> </g> <g clip-path="url(#p45accf0388)"> <use href="#C1_0_d106ea09ab" x="187.831738" y="412.512846" style="fill: #008000; fill-opacity: 0.578687; stroke: #008000; stroke-opacity: 0.578687"/> </g> <g clip-path="url(#p45accf0388)"> <use href="#C1_0_d106ea09ab" x="176.780856" y="374.001008" style="fill: #008000; fill-opacity: 0.578807; stroke: #008000; stroke-opacity: 0.578807"/> </g> <g clip-path="url(#p45accf0388)"> <use href="#C1_0_d106ea09ab" x="273.844836" y="411.606045" style="fill: #008000; fill-opacity: 0.578902; stroke: #008000; stroke-opacity: 0.578902"/> </g> <g clip-path="url(#p45accf0388)"> <use href="#C1_0_d106ea09ab" x="239.633311" y="310.06904" style="fill: #008000; fill-opacity: 0.579007; stroke: #008000; stroke-opacity: 0.579007"/> </g> <g clip-path="url(#p45accf0388)"> <use href="#C1_0_d106ea09ab" x="327.817632" y="415.813602" style="fill: #008000; fill-opacity: 0.580062; stroke: #008000; stroke-opacity: 0.580062"/> </g> <g clip-path="url(#p45accf0388)"> <use href="#C1_0_d106ea09ab" x="187.227204" y="371.706801" style="fill: #008000; fill-opacity: 0.580219; stroke: #008000; stroke-opacity: 0.580219"/> </g> <g clip-path="url(#p45accf0388)"> <use href="#C1_0_d106ea09ab" x="267.799496" y="377.449874" style="fill: #008000; fill-opacity: 0.581564; stroke: #008000; stroke-opacity: 0.581564"/> </g> <g clip-path="url(#p45accf0388)"> <use href="#C1_0_d106ea09ab" x="151.390428" y="387.149622" style="fill: #008000; fill-opacity: 0.58193; stroke: #008000; stroke-opacity: 0.58193"/> </g> <g clip-path="url(#p45accf0388)"> <use href="#C1_0_d106ea09ab" x="357.742065" y="393.95063" style="fill: #008000; fill-opacity: 0.582101; stroke: #008000; stroke-opacity: 0.582101"/> </g> <g clip-path="url(#p45accf0388)"> <use href="#C1_0_d106ea09ab" x="403.393037" y="393.205465" style="fill: #008000; fill-opacity: 0.582106; stroke: #008000; stroke-opacity: 0.582106"/> </g> <g clip-path="url(#p45accf0388)"> <use href="#C1_0_d106ea09ab" x="243.013298" y="342.950168" style="fill: #008000; fill-opacity: 0.582458; stroke: #008000; stroke-opacity: 0.582458"/> </g> <g clip-path="url(#p45accf0388)"> <use href="#C1_0_d106ea09ab" x="227.126448" y="381.983879" style="fill: #008000; fill-opacity: 0.582495; stroke: #008000; stroke-opacity: 0.582495"/> </g> <g clip-path="url(#p45accf0388)"> <use href="#C1_0_d106ea09ab" x="155.01276" y="367.248355" style="fill: #008000; fill-opacity: 0.582813; stroke: #008000; stroke-opacity: 0.582813"/> </g> <g clip-path="url(#p45accf0388)"> <use href="#C1_0_d106ea09ab" x="306.658942" y="378.961209" style="fill: #008000; fill-opacity: 0.583218; stroke: #008000; stroke-opacity: 0.583218"/> </g> <g clip-path="url(#p45accf0388)"> <use href="#C1_0_d106ea09ab" x="374.064484" y="398.031234" style="fill: #008000; fill-opacity: 0.583655; stroke: #008000; stroke-opacity: 0.583655"/> </g> <g clip-path="url(#p45accf0388)"> <use href="#C1_0_d106ea09ab" x="239.633311" y="341.13687" style="fill: #008000; fill-opacity: 0.584244; stroke: #008000; stroke-opacity: 0.584244"/> </g> <g clip-path="url(#p45accf0388)"> <use href="#C1_0_d106ea09ab" x="252.081612" y="395.283627" style="fill: #008000; fill-opacity: 0.584372; stroke: #008000; stroke-opacity: 0.584372"/> </g> <g clip-path="url(#p45accf0388)"> <use href="#C1_0_d106ea09ab" x="288.958186" y="387.726952" style="fill: #008000; fill-opacity: 0.584392; stroke: #008000; stroke-opacity: 0.584392"/> </g> <g clip-path="url(#p45accf0388)"> <use href="#C1_0_d106ea09ab" x="321.772292" y="409.490176" style="fill: #008000; fill-opacity: 0.584939; stroke: #008000; stroke-opacity: 0.584939"/> </g> <g clip-path="url(#p45accf0388)"> <use href="#C1_0_d106ea09ab" x="232.380121" y="341.741303" style="fill: #008000; fill-opacity: 0.585712; stroke: #008000; stroke-opacity: 0.585712"/> </g> <g clip-path="url(#p45accf0388)"> <use href="#C1_0_d106ea09ab" x="294.139043" y="445.284635" style="fill: #008000; fill-opacity: 0.585971; stroke: #008000; stroke-opacity: 0.585971"/> </g> <g clip-path="url(#p45accf0388)"> <use href="#C1_0_d106ea09ab" x="272.635768" y="387.122418" style="fill: #008000; fill-opacity: 0.586418; stroke: #008000; stroke-opacity: 0.586418"/> </g> <g clip-path="url(#p45accf0388)"> <use href="#C1_0_d106ea09ab" x="330.235768" y="385.91335" style="fill: #008000; fill-opacity: 0.586881; stroke: #008000; stroke-opacity: 0.586881"/> </g> <g clip-path="url(#p45accf0388)"> <use href="#C1_0_d106ea09ab" x="271.124433" y="382.286146" style="fill: #008000; fill-opacity: 0.586921; stroke: #008000; stroke-opacity: 0.586921"/> </g> <g clip-path="url(#p45accf0388)"> <use href="#C1_0_d106ea09ab" x="262.401008" y="446.191436" style="fill: #008000; fill-opacity: 0.587973; stroke: #008000; stroke-opacity: 0.587973"/> </g> <g clip-path="url(#p45accf0388)"> <use href="#C1_0_d106ea09ab" x="221.685642" y="385.91335" style="fill: #008000; fill-opacity: 0.588301; stroke: #008000; stroke-opacity: 0.588301"/> </g> <g clip-path="url(#p45accf0388)"> <use href="#C1_0_d106ea09ab" x="195.872398" y="366.523036" style="fill: #008000; fill-opacity: 0.588962; stroke: #008000; stroke-opacity: 0.588962"/> </g> <g clip-path="url(#p45accf0388)"> <use href="#C1_0_d106ea09ab" x="203.125588" y="333.88368" style="fill: #008000; fill-opacity: 0.588971; stroke: #008000; stroke-opacity: 0.588971"/> </g> <g clip-path="url(#p45accf0388)"> <use href="#C1_0_d106ea09ab" x="384.039295" y="378.535013" style="fill: #008000; fill-opacity: 0.589624; stroke: #008000; stroke-opacity: 0.589624"/> </g> <g clip-path="url(#p45accf0388)"> <use href="#C1_0_d106ea09ab" x="297.723929" y="385.91335" style="fill: #008000; fill-opacity: 0.590172; stroke: #008000; stroke-opacity: 0.590172"/> </g> <g clip-path="url(#p45accf0388)"> <use href="#C1_0_d106ea09ab" x="180.40806" y="372.640806" style="fill: #008000; fill-opacity: 0.590319; stroke: #008000; stroke-opacity: 0.590319"/> </g> <g clip-path="url(#p45accf0388)"> <use href="#C1_0_d106ea09ab" x="214.247146" y="359.269846" style="fill: #008000; fill-opacity: 0.590385; stroke: #008000; stroke-opacity: 0.590385"/> </g> <g clip-path="url(#p45accf0388)"> <use href="#C1_0_d106ea09ab" x="236.852921" y="355.159704" style="fill: #008000; fill-opacity: 0.590504; stroke: #008000; stroke-opacity: 0.590504"/> </g> <g clip-path="url(#p45accf0388)"> <use href="#C1_0_d106ea09ab" x="428.355575" y="413.302424" style="fill: #008000; fill-opacity: 0.592034; stroke: #008000; stroke-opacity: 0.592034"/> </g> <g clip-path="url(#p45accf0388)"> <use href="#C1_0_d106ea09ab" x="326.00403" y="443.017632" style="fill: #008000; fill-opacity: 0.592232; stroke: #008000; stroke-opacity: 0.592232"/> </g> <g clip-path="url(#p45accf0388)"> <use href="#C1_0_d106ea09ab" x="264.410208" y="354.192612" style="fill: #008000; fill-opacity: 0.592307; stroke: #008000; stroke-opacity: 0.592307"/> </g> <g clip-path="url(#p45accf0388)"> <use href="#C1_0_d106ea09ab" x="180.2267" y="383.975819" style="fill: #008000; fill-opacity: 0.592345; stroke: #008000; stroke-opacity: 0.592345"/> </g> <g clip-path="url(#p45accf0388)"> <use href="#C1_0_d106ea09ab" x="265.818258" y="424.35425" style="fill: #008000; fill-opacity: 0.593191; stroke: #008000; stroke-opacity: 0.593191"/> </g> <g clip-path="url(#p45accf0388)"> <use href="#C1_0_d106ea09ab" x="321.470025" y="382.286146" style="fill: #008000; fill-opacity: 0.593287; stroke: #008000; stroke-opacity: 0.593287"/> </g> <g clip-path="url(#p45accf0388)"> <use href="#C1_0_d106ea09ab" x="219.267506" y="373.82267" style="fill: #008000; fill-opacity: 0.593372; stroke: #008000; stroke-opacity: 0.593372"/> </g> <g clip-path="url(#p45accf0388)"> <use href="#C1_0_d106ea09ab" x="387.315469" y="421.023887" style="fill: #008000; fill-opacity: 0.593436; stroke: #008000; stroke-opacity: 0.593436"/> </g> <g clip-path="url(#p45accf0388)"> <use href="#C1_0_d106ea09ab" x="265.985894" y="397.399496" style="fill: #008000; fill-opacity: 0.593559; stroke: #008000; stroke-opacity: 0.593559"/> </g> <g clip-path="url(#p45accf0388)"> <use href="#C1_0_d106ea09ab" x="382.679093" y="414.353652" style="fill: #008000; fill-opacity: 0.593703; stroke: #008000; stroke-opacity: 0.593703"/> </g> <g clip-path="url(#p45accf0388)"> <use href="#C1_0_d106ea09ab" x="257.413602" y="422.387909" style="fill: #008000; fill-opacity: 0.59375; stroke: #008000; stroke-opacity: 0.59375"/> </g> <g clip-path="url(#p45accf0388)"> <use href="#C1_0_d106ea09ab" x="256.917884" y="400.422166" style="fill: #008000; fill-opacity: 0.593944; stroke: #008000; stroke-opacity: 0.593944"/> </g> <g clip-path="url(#p45accf0388)"> <use href="#C1_0_d106ea09ab" x="201.73602" y="374.729471" style="fill: #008000; fill-opacity: 0.594425; stroke: #008000; stroke-opacity: 0.594425"/> </g> <g clip-path="url(#p45accf0388)"> <use href="#C1_0_d106ea09ab" x="308.472544" y="441.20403" style="fill: #008000; fill-opacity: 0.594434; stroke: #008000; stroke-opacity: 0.594434"/> </g> <g clip-path="url(#p45accf0388)"> <use href="#C1_0_d106ea09ab" x="426.451653" y="410.44654" style="fill: #008000; fill-opacity: 0.594596; stroke: #008000; stroke-opacity: 0.594596"/> </g> <g clip-path="url(#p45accf0388)"> <use href="#C1_0_d106ea09ab" x="183.309824" y="437.676574" style="fill: #008000; fill-opacity: 0.594749; stroke: #008000; stroke-opacity: 0.594749"/> </g> <g clip-path="url(#p45accf0388)"> <use href="#C1_0_d106ea09ab" x="309.2591" y="364.588852" style="fill: #008000; fill-opacity: 0.594956; stroke: #008000; stroke-opacity: 0.594956"/> </g> <g clip-path="url(#p45accf0388)"> <use href="#C1_0_d106ea09ab" x="320.563224" y="415.511335" style="fill: #008000; fill-opacity: 0.596314; stroke: #008000; stroke-opacity: 0.596314"/> </g> <g clip-path="url(#p45accf0388)"> <use href="#C1_0_d106ea09ab" x="164.085642" y="379.260453" style="fill: #008000; fill-opacity: 0.597979; stroke: #008000; stroke-opacity: 0.597979"/> </g> <g clip-path="url(#p45accf0388)"> <use href="#C1_0_d106ea09ab" x="319.203023" y="369.013602" style="fill: #008000; fill-opacity: 0.598046; stroke: #008000; stroke-opacity: 0.598046"/> </g> <g clip-path="url(#p45accf0388)"> <use href="#C1_0_d106ea09ab" x="302.731229" y="350.324244" style="fill: #008000; fill-opacity: 0.598509; stroke: #008000; stroke-opacity: 0.598509"/> </g> <g clip-path="url(#p45accf0388)"> <use href="#C1_0_d106ea09ab" x="233.776322" y="388.93602" style="fill: #008000; fill-opacity: 0.598607; stroke: #008000; stroke-opacity: 0.598607"/> </g> <g clip-path="url(#p45accf0388)"> <use href="#C1_0_d106ea09ab" x="347.16272" y="380.472544" style="fill: #008000; fill-opacity: 0.598631; stroke: #008000; stroke-opacity: 0.598631"/> </g> <g clip-path="url(#p45accf0388)"> <use href="#C1_0_d106ea09ab" x="298.446348" y="419.214106" style="fill: #008000; fill-opacity: 0.598752; stroke: #008000; stroke-opacity: 0.598752"/> </g> <g clip-path="url(#p45accf0388)"> <use href="#C1_0_d106ea09ab" x="305.449874" y="441.808564" style="fill: #008000; fill-opacity: 0.598952; stroke: #008000; stroke-opacity: 0.598952"/> </g> <g clip-path="url(#p45accf0388)"> <use href="#C1_0_d106ea09ab" x="317.540554" y="388.93602" style="fill: #008000; fill-opacity: 0.599053; stroke: #008000; stroke-opacity: 0.599053"/> </g> <g clip-path="url(#p45accf0388)"> <use href="#C1_0_d106ea09ab" x="174.967254" y="375.361209" style="fill: #008000; fill-opacity: 0.599639; stroke: #008000; stroke-opacity: 0.599639"/> </g> <g clip-path="url(#p45accf0388)"> <use href="#C1_0_d106ea09ab" x="272.635768" y="376.240806" style="fill: #008000; fill-opacity: 0.599706; stroke: #008000; stroke-opacity: 0.599706"/> </g> <g clip-path="url(#p45accf0388)"> <use href="#C1_0_d106ea09ab" x="314.820151" y="383.192947" style="fill: #008000; fill-opacity: 0.599883; stroke: #008000; stroke-opacity: 0.599883"/> </g> <g clip-path="url(#p45accf0388)"> <use href="#C1_0_d106ea09ab" x="176.327456" y="381.527456" style="fill: #008000; fill-opacity: 0.599988; stroke: #008000; stroke-opacity: 0.599988"/> </g> <g clip-path="url(#p45accf0388)"> <use href="#C1_0_d106ea09ab" x="355.626196" y="401.631234" style="fill: #008000; fill-opacity: 0.600256; stroke: #008000; stroke-opacity: 0.600256"/> </g> <g clip-path="url(#p45accf0388)"> <use href="#C1_0_d106ea09ab" x="261.146273" y="359.390732" style="fill: #008000; fill-opacity: 0.600379; stroke: #008000; stroke-opacity: 0.600379"/> </g> <g clip-path="url(#p45accf0388)"> <use href="#C1_0_d106ea09ab" x="270.822166" y="391.354156" style="fill: #008000; fill-opacity: 0.600475; stroke: #008000; stroke-opacity: 0.600475"/> </g> <g clip-path="url(#p45accf0388)"> <use href="#C1_0_d106ea09ab" x="169.073048" y="408.912846" style="fill: #008000; fill-opacity: 0.600529; stroke: #008000; stroke-opacity: 0.600529"/> </g> <g clip-path="url(#p45accf0388)"> <use href="#C1_0_d106ea09ab" x="199.317884" y="376.543073" style="fill: #008000; fill-opacity: 0.601038; stroke: #008000; stroke-opacity: 0.601038"/> </g> <g clip-path="url(#p45accf0388)"> <use href="#C1_0_d106ea09ab" x="233.776322" y="396.794962" style="fill: #008000; fill-opacity: 0.601067; stroke: #008000; stroke-opacity: 0.601067"/> </g> <g clip-path="url(#p45accf0388)"> <use href="#C1_0_d106ea09ab" x="319.354156" y="423.672544" style="fill: #008000; fill-opacity: 0.601362; stroke: #008000; stroke-opacity: 0.601362"/> </g> <g clip-path="url(#p45accf0388)"> <use href="#C1_0_d106ea09ab" x="264.172292" y="371.102267" style="fill: #008000; fill-opacity: 0.601435; stroke: #008000; stroke-opacity: 0.601435"/> </g> <g clip-path="url(#p45accf0388)"> <use href="#C1_0_d106ea09ab" x="342.326448" y="431.531486" style="fill: #008000; fill-opacity: 0.601578; stroke: #008000; stroke-opacity: 0.601578"/> </g> <g clip-path="url(#p45accf0388)"> <use href="#C1_0_d106ea09ab" x="191.458942" y="379.86801" style="fill: #008000; fill-opacity: 0.602374; stroke: #008000; stroke-opacity: 0.602374"/> </g> <g clip-path="url(#p45accf0388)"> <use href="#C1_0_d106ea09ab" x="187.227204" y="403.444836" style="fill: #008000; fill-opacity: 0.60246; stroke: #008000; stroke-opacity: 0.60246"/> </g> <g clip-path="url(#p45accf0388)"> <use href="#C1_0_d106ea09ab" x="229.962391" y="339.323573" style="fill: #008000; fill-opacity: 0.602653; stroke: #008000; stroke-opacity: 0.602653"/> </g> <g clip-path="url(#p45accf0388)"> <use href="#C1_0_d106ea09ab" x="401.806435" y="372.896959" style="fill: #008000; fill-opacity: 0.603077; stroke: #008000; stroke-opacity: 0.603077"/> </g> <g clip-path="url(#p45accf0388)"> <use href="#C1_0_d106ea09ab" x="215.456011" y="365.918603" style="fill: #008000; fill-opacity: 0.603432; stroke: #008000; stroke-opacity: 0.603432"/> </g> <g clip-path="url(#p45accf0388)"> <use href="#C1_0_d106ea09ab" x="251.354466" y="358.907186" style="fill: #008000; fill-opacity: 0.604446; stroke: #008000; stroke-opacity: 0.604446"/> </g> <g clip-path="url(#p45accf0388)"> <use href="#C1_0_d106ea09ab" x="159.002015" y="356.247683" style="fill: #008000; fill-opacity: 0.604529; stroke: #008000; stroke-opacity: 0.604529"/> </g> <g clip-path="url(#p45accf0388)"> <use href="#C1_0_d106ea09ab" x="306.961209" y="385.006549" style="fill: #008000; fill-opacity: 0.60475; stroke: #008000; stroke-opacity: 0.60475"/> </g> <g clip-path="url(#p45accf0388)"> <use href="#C1_0_d106ea09ab" x="196.295214" y="414.604534" style="fill: #008000; fill-opacity: 0.605694; stroke: #008000; stroke-opacity: 0.605694"/> </g> <g clip-path="url(#p45accf0388)"> <use href="#C1_0_d106ea09ab" x="347.459234" y="363.138214" style="fill: #008000; fill-opacity: 0.605982; stroke: #008000; stroke-opacity: 0.605982"/> </g> <g clip-path="url(#p45accf0388)"> <use href="#C1_0_d106ea09ab" x="244.827204" y="372.613602" style="fill: #008000; fill-opacity: 0.606175; stroke: #008000; stroke-opacity: 0.606175"/> </g> <g clip-path="url(#p45accf0388)"> <use href="#C1_0_d106ea09ab" x="270.217632" y="388.331486" style="fill: #008000; fill-opacity: 0.60638; stroke: #008000; stroke-opacity: 0.60638"/> </g> <g clip-path="url(#p45accf0388)"> <use href="#C1_0_d106ea09ab" x="298.026196" y="391.354156" style="fill: #008000; fill-opacity: 0.607127; stroke: #008000; stroke-opacity: 0.607127"/> </g> <g clip-path="url(#p45accf0388)"> <use href="#C1_0_d106ea09ab" x="383.585894" y="406.192443" style="fill: #008000; fill-opacity: 0.60727; stroke: #008000; stroke-opacity: 0.60727"/> </g> <g clip-path="url(#p45accf0388)"> <use href="#C1_0_d106ea09ab" x="259.33602" y="400.422166" style="fill: #008000; fill-opacity: 0.607474; stroke: #008000; stroke-opacity: 0.607474"/> </g> <g clip-path="url(#p45accf0388)"> <use href="#C1_0_d106ea09ab" x="369.077078" y="394.857431" style="fill: #008000; fill-opacity: 0.608014; stroke: #008000; stroke-opacity: 0.608014"/> </g> <g clip-path="url(#p45accf0388)"> <use href="#C1_0_d106ea09ab" x="199.450882" y="370.827204" style="fill: #008000; fill-opacity: 0.608158; stroke: #008000; stroke-opacity: 0.608158"/> </g> <g clip-path="url(#p45accf0388)"> <use href="#C1_0_d106ea09ab" x="177.739422" y="364.105306" style="fill: #008000; fill-opacity: 0.608298; stroke: #008000; stroke-opacity: 0.608298"/> </g> <g clip-path="url(#p45accf0388)"> <use href="#C1_0_d106ea09ab" x="210.199496" y="417.929471" style="fill: #008000; fill-opacity: 0.608419; stroke: #008000; stroke-opacity: 0.608419"/> </g> <g clip-path="url(#p45accf0388)"> <use href="#C1_0_d106ea09ab" x="333.862972" y="429.717884" style="fill: #008000; fill-opacity: 0.608812; stroke: #008000; stroke-opacity: 0.608812"/> </g> <g clip-path="url(#p45accf0388)"> <use href="#C1_0_d106ea09ab" x="469.818775" y="387.387924" style="fill: #008000; fill-opacity: 0.609371; stroke: #008000; stroke-opacity: 0.609371"/> </g> <g clip-path="url(#p45accf0388)"> <use href="#C1_0_d106ea09ab" x="339.908312" y="393.772292" style="fill: #008000; fill-opacity: 0.609628; stroke: #008000; stroke-opacity: 0.609628"/> </g> <g clip-path="url(#p45accf0388)"> <use href="#C1_0_d106ea09ab" x="261.494207" y="442.110831" style="fill: #008000; fill-opacity: 0.610118; stroke: #008000; stroke-opacity: 0.610118"/> </g> <g clip-path="url(#p45accf0388)"> <use href="#C1_0_d106ea09ab" x="327.213098" y="412.512846" style="fill: #008000; fill-opacity: 0.610618; stroke: #008000; stroke-opacity: 0.610618"/> </g> <g clip-path="url(#p45accf0388)"> <use href="#C1_0_d106ea09ab" x="295.003526" y="387.122418" style="fill: #008000; fill-opacity: 0.610885; stroke: #008000; stroke-opacity: 0.610885"/> </g> <g clip-path="url(#p45accf0388)"> <use href="#C1_0_d106ea09ab" x="429.201763" y="392.993918" style="fill: #008000; fill-opacity: 0.61118; stroke: #008000; stroke-opacity: 0.61118"/> </g> <g clip-path="url(#p45accf0388)"> <use href="#C1_0_d106ea09ab" x="263.564003" y="321.069711" style="fill: #008000; fill-opacity: 0.611255; stroke: #008000; stroke-opacity: 0.611255"/> </g> <g clip-path="url(#p45accf0388)"> <use href="#C1_0_d106ea09ab" x="320.260957" y="384.402015" style="fill: #008000; fill-opacity: 0.611274; stroke: #008000; stroke-opacity: 0.611274"/> </g> <g clip-path="url(#p45accf0388)"> <use href="#C1_0_d106ea09ab" x="347.16272" y="388.93602" style="fill: #008000; fill-opacity: 0.611696; stroke: #008000; stroke-opacity: 0.611696"/> </g> <g clip-path="url(#p45accf0388)"> <use href="#C1_0_d106ea09ab" x="314.820151" y="388.029219" style="fill: #008000; fill-opacity: 0.611952; stroke: #008000; stroke-opacity: 0.611952"/> </g> <g clip-path="url(#p45accf0388)"> <use href="#C1_0_d106ea09ab" x="304.240806" y="404.653904" style="fill: #008000; fill-opacity: 0.613377; stroke: #008000; stroke-opacity: 0.613377"/> </g> <g clip-path="url(#p45accf0388)"> <use href="#C1_0_d106ea09ab" x="258.320403" y="441.20403" style="fill: #008000; fill-opacity: 0.613519; stroke: #008000; stroke-opacity: 0.613519"/> </g> <g clip-path="url(#p45accf0388)"> <use href="#C1_0_d106ea09ab" x="289.312827" y="322.036803" style="fill: #008000; fill-opacity: 0.613531; stroke: #008000; stroke-opacity: 0.613531"/> </g> <g clip-path="url(#p45accf0388)"> <use href="#C1_0_d106ea09ab" x="361.36927" y="388.509824" style="fill: #008000; fill-opacity: 0.61359; stroke: #008000; stroke-opacity: 0.61359"/> </g> <g clip-path="url(#p45accf0388)"> <use href="#C1_0_d106ea09ab" x="184.035264" y="392.137028" style="fill: #008000; fill-opacity: 0.613946; stroke: #008000; stroke-opacity: 0.613946"/> </g> <g clip-path="url(#p45accf0388)"> <use href="#C1_0_d106ea09ab" x="318.816" y="444.888" style="fill: #008000; fill-opacity: 0.614632; stroke: #008000; stroke-opacity: 0.614632"/> </g> <g clip-path="url(#p45accf0388)"> <use href="#C1_0_d106ea09ab" x="284.617632" y="424.881612" style="fill: #008000; fill-opacity: 0.615023; stroke: #008000; stroke-opacity: 0.615023"/> </g> <g clip-path="url(#p45accf0388)"> <use href="#C1_0_d106ea09ab" x="402.969943" y="412.033142" style="fill: #008000; fill-opacity: 0.615308; stroke: #008000; stroke-opacity: 0.615308"/> </g> <g clip-path="url(#p45accf0388)"> <use href="#C1_0_d106ea09ab" x="190.249874" y="433.345088" style="fill: #008000; fill-opacity: 0.615459; stroke: #008000; stroke-opacity: 0.615459"/> </g> <g clip-path="url(#p45accf0388)"> <use href="#C1_0_d106ea09ab" x="317.238287" y="379.263476" style="fill: #008000; fill-opacity: 0.615625; stroke: #008000; stroke-opacity: 0.615625"/> </g> <g clip-path="url(#p45accf0388)"> <use href="#C1_0_d106ea09ab" x="297.312846" y="425.788413" style="fill: #008000; fill-opacity: 0.615696; stroke: #008000; stroke-opacity: 0.615696"/> </g> <g clip-path="url(#p45accf0388)"> <use href="#C1_0_d106ea09ab" x="244.138035" y="435.681612" style="fill: #008000; fill-opacity: 0.615921; stroke: #008000; stroke-opacity: 0.615921"/> </g> <g clip-path="url(#p45accf0388)"> <use href="#C1_0_d106ea09ab" x="285.935516" y="410.699244" style="fill: #008000; fill-opacity: 0.616019; stroke: #008000; stroke-opacity: 0.616019"/> </g> <g clip-path="url(#p45accf0388)"> <use href="#C1_0_d106ea09ab" x="266.827938" y="334.608999" style="fill: #008000; fill-opacity: 0.616227; stroke: #008000; stroke-opacity: 0.616227"/> </g> <g clip-path="url(#p45accf0388)"> <use href="#C1_0_d106ea09ab" x="406.672014" y="389.0803" style="fill: #008000; fill-opacity: 0.616542; stroke: #008000; stroke-opacity: 0.616542"/> </g> <g clip-path="url(#p45accf0388)"> <use href="#C1_0_d106ea09ab" x="239.149765" y="323.608328" style="fill: #008000; fill-opacity: 0.617228; stroke: #008000; stroke-opacity: 0.617228"/> </g> <g clip-path="url(#p45accf0388)"> <use href="#C1_0_d106ea09ab" x="223.918066" y="332.916588" style="fill: #008000; fill-opacity: 0.617391; stroke: #008000; stroke-opacity: 0.617391"/> </g> <g clip-path="url(#p45accf0388)"> <use href="#C1_0_d106ea09ab" x="184.204534" y="412.512846" style="fill: #008000; fill-opacity: 0.617828; stroke: #008000; stroke-opacity: 0.617828"/> </g> <g clip-path="url(#p45accf0388)"> <use href="#C1_0_d106ea09ab" x="337.490176" y="401.0267" style="fill: #008000; fill-opacity: 0.61887; stroke: #008000; stroke-opacity: 0.61887"/> </g> <g clip-path="url(#p45accf0388)"> <use href="#C1_0_d106ea09ab" x="196.295214" y="413.11738" style="fill: #008000; fill-opacity: 0.619029; stroke: #008000; stroke-opacity: 0.619029"/> </g> <g clip-path="url(#p45accf0388)"> <use href="#C1_0_d106ea09ab" x="377.238287" y="379.441814" style="fill: #008000; fill-opacity: 0.619362; stroke: #008000; stroke-opacity: 0.619362"/> </g> <g clip-path="url(#p45accf0388)"> <use href="#C1_0_d106ea09ab" x="249.952571" y="414.532634" style="fill: #008000; fill-opacity: 0.619449; stroke: #008000; stroke-opacity: 0.619449"/> </g> <g clip-path="url(#p45accf0388)"> <use href="#C1_0_d106ea09ab" x="226.521914" y="411.303778" style="fill: #008000; fill-opacity: 0.619647; stroke: #008000; stroke-opacity: 0.619647"/> </g> <g clip-path="url(#p45accf0388)"> <use href="#C1_0_d106ea09ab" x="402.123755" y="417.850683" style="fill: #008000; fill-opacity: 0.619996; stroke: #008000; stroke-opacity: 0.619996"/> </g> <g clip-path="url(#p45accf0388)"> <use href="#C1_0_d106ea09ab" x="241.804433" y="362.292008" style="fill: #008000; fill-opacity: 0.620047; stroke: #008000; stroke-opacity: 0.620047"/> </g> <g clip-path="url(#p45accf0388)"> <use href="#C1_0_d106ea09ab" x="360.915869" y="399.844836" style="fill: #008000; fill-opacity: 0.620131; stroke: #008000; stroke-opacity: 0.620131"/> </g> <g clip-path="url(#p45accf0388)"> <use href="#C1_0_d106ea09ab" x="457.042236" y="357.353381" style="fill: #008000; fill-opacity: 0.620337; stroke: #008000; stroke-opacity: 0.620337"/> </g> <g clip-path="url(#p45accf0388)"> <use href="#C1_0_d106ea09ab" x="280.944" y="442.224" style="fill: #008000; fill-opacity: 0.620751; stroke: #008000; stroke-opacity: 0.620751"/> </g> <g clip-path="url(#p45accf0388)"> <use href="#C1_0_d106ea09ab" x="310.89068" y="433.345088" style="fill: #008000; fill-opacity: 0.621054; stroke: #008000; stroke-opacity: 0.621054"/> </g> <g clip-path="url(#p45accf0388)"> <use href="#C1_0_d106ea09ab" x="263.567758" y="461.211083" style="fill: #008000; fill-opacity: 0.621136; stroke: #008000; stroke-opacity: 0.621136"/> </g> <g clip-path="url(#p45accf0388)"> <use href="#C1_0_d106ea09ab" x="216.84937" y="396.190428" style="fill: #008000; fill-opacity: 0.621688; stroke: #008000; stroke-opacity: 0.621688"/> </g> <g clip-path="url(#p45accf0388)"> <use href="#C1_0_d106ea09ab" x="239.519395" y="378.658942" style="fill: #008000; fill-opacity: 0.621703; stroke: #008000; stroke-opacity: 0.621703"/> </g> <g clip-path="url(#p45accf0388)"> <use href="#C1_0_d106ea09ab" x="342.326448" y="428.508816" style="fill: #008000; fill-opacity: 0.621786; stroke: #008000; stroke-opacity: 0.621786"/> </g> <g clip-path="url(#p45accf0388)"> <use href="#C1_0_d106ea09ab" x="386.786602" y="406.956016" style="fill: #008000; fill-opacity: 0.622064; stroke: #008000; stroke-opacity: 0.622064"/> </g> <g clip-path="url(#p45accf0388)"> <use href="#C1_0_d106ea09ab" x="351.998992" y="393.772292" style="fill: #008000; fill-opacity: 0.622314; stroke: #008000; stroke-opacity: 0.622314"/> </g> <g clip-path="url(#p45accf0388)"> <use href="#C1_0_d106ea09ab" x="179.95466" y="411.633249" style="fill: #008000; fill-opacity: 0.622562; stroke: #008000; stroke-opacity: 0.622562"/> </g> <g clip-path="url(#p45accf0388)"> <use href="#C1_0_d106ea09ab" x="169.073048" y="403.47204" style="fill: #008000; fill-opacity: 0.622667; stroke: #008000; stroke-opacity: 0.622667"/> </g> <g clip-path="url(#p45accf0388)"> <use href="#C1_0_d106ea09ab" x="217.840806" y="457.444836" style="fill: #008000; fill-opacity: 0.622858; stroke: #008000; stroke-opacity: 0.622858"/> </g> <g clip-path="url(#p45accf0388)"> <use href="#C1_0_d106ea09ab" x="204.154156" y="378.658942" style="fill: #008000; fill-opacity: 0.622949; stroke: #008000; stroke-opacity: 0.622949"/> </g> <g clip-path="url(#p45accf0388)"> <use href="#C1_0_d106ea09ab" x="210.785894" y="370.827204" style="fill: #008000; fill-opacity: 0.623715; stroke: #008000; stroke-opacity: 0.623715"/> </g> <g clip-path="url(#p45accf0388)"> <use href="#C1_0_d106ea09ab" x="350.18539" y="430.322418" style="fill: #008000; fill-opacity: 0.623891; stroke: #008000; stroke-opacity: 0.623891"/> </g> <g clip-path="url(#p45accf0388)"> <use href="#C1_0_d106ea09ab" x="310.89068" y="390.145088" style="fill: #008000; fill-opacity: 0.623975; stroke: #008000; stroke-opacity: 0.623975"/> </g> <g clip-path="url(#p45accf0388)"> <use href="#C1_0_d106ea09ab" x="245.498237" y="421.60806" style="fill: #008000; fill-opacity: 0.624194; stroke: #008000; stroke-opacity: 0.624194"/> </g> <g clip-path="url(#p45accf0388)"> <use href="#C1_0_d106ea09ab" x="401.975819" y="439.762217" style="fill: #008000; fill-opacity: 0.624386; stroke: #008000; stroke-opacity: 0.624386"/> </g> <g clip-path="url(#p45accf0388)"> <use href="#C1_0_d106ea09ab" x="271.4267" y="462.722418" style="fill: #008000; fill-opacity: 0.624473; stroke: #008000; stroke-opacity: 0.624473"/> </g> <g clip-path="url(#p45accf0388)"> <use href="#C1_0_d106ea09ab" x="202.158496" y="359.269846" style="fill: #008000; fill-opacity: 0.624798; stroke: #008000; stroke-opacity: 0.624798"/> </g> <g clip-path="url(#p45accf0388)"> <use href="#C1_0_d106ea09ab" x="341.11738" y="377.449874" style="fill: #008000; fill-opacity: 0.625089; stroke: #008000; stroke-opacity: 0.625089"/> </g> <g clip-path="url(#p45accf0388)"> <use href="#C1_0_d106ea09ab" x="216.547103" y="372.613602" style="fill: #008000; fill-opacity: 0.625194; stroke: #008000; stroke-opacity: 0.625194"/> </g> <g clip-path="url(#p45accf0388)"> <use href="#C1_0_d106ea09ab" x="304.240806" y="463.339043" style="fill: #008000; fill-opacity: 0.625835; stroke: #008000; stroke-opacity: 0.625835"/> </g> <g clip-path="url(#p45accf0388)"> <use href="#C1_0_d106ea09ab" x="233.709824" y="463.339043" style="fill: #008000; fill-opacity: 0.625835; stroke: #008000; stroke-opacity: 0.625835"/> </g> <g clip-path="url(#p45accf0388)"> <use href="#C1_0_d106ea09ab" x="457.972146" y="397.436404" style="fill: #008000; fill-opacity: 0.626143; stroke: #008000; stroke-opacity: 0.626143"/> </g> <g clip-path="url(#p45accf0388)"> <use href="#C1_0_d106ea09ab" x="321.470025" y="401.328967" style="fill: #008000; fill-opacity: 0.626165; stroke: #008000; stroke-opacity: 0.626165"/> </g> <g clip-path="url(#p45accf0388)"> <use href="#C1_0_d106ea09ab" x="175.420655" y="412.08665" style="fill: #008000; fill-opacity: 0.626365; stroke: #008000; stroke-opacity: 0.626365"/> </g> <g clip-path="url(#p45accf0388)"> <use href="#C1_0_d106ea09ab" x="374.971285" y="412.54005" style="fill: #008000; fill-opacity: 0.62637; stroke: #008000; stroke-opacity: 0.62637"/> </g> <g clip-path="url(#p45accf0388)"> <use href="#C1_0_d106ea09ab" x="392.921463" y="411.186955" style="fill: #008000; fill-opacity: 0.626768; stroke: #008000; stroke-opacity: 0.626768"/> </g> <g clip-path="url(#p45accf0388)"> <use href="#C1_0_d106ea09ab" x="301.82267" y="425.486146" style="fill: #008000; fill-opacity: 0.627052; stroke: #008000; stroke-opacity: 0.627052"/> </g> <g clip-path="url(#p45accf0388)"> <use href="#C1_0_d106ea09ab" x="149.395466" y="395.310831" style="fill: #008000; fill-opacity: 0.627076; stroke: #008000; stroke-opacity: 0.627076"/> </g> <g clip-path="url(#p45accf0388)"> <use href="#C1_0_d106ea09ab" x="264.541058" y="413.900252" style="fill: #008000; fill-opacity: 0.627092; stroke: #008000; stroke-opacity: 0.627092"/> </g> <g clip-path="url(#p45accf0388)"> <use href="#C1_0_d106ea09ab" x="366.810076" y="375.179849" style="fill: #008000; fill-opacity: 0.62718; stroke: #008000; stroke-opacity: 0.62718"/> </g> <g clip-path="url(#p45accf0388)"> <use href="#C1_0_d106ea09ab" x="355.626196" y="415.209068" style="fill: #008000; fill-opacity: 0.62747; stroke: #008000; stroke-opacity: 0.62747"/> </g> <g clip-path="url(#p45accf0388)"> <use href="#C1_0_d106ea09ab" x="327.213098" y="417.627204" style="fill: #008000; fill-opacity: 0.628822; stroke: #008000; stroke-opacity: 0.628822"/> </g> <g clip-path="url(#p45accf0388)"> <use href="#C1_0_d106ea09ab" x="195.086146" y="374.427204" style="fill: #008000; fill-opacity: 0.629243; stroke: #008000; stroke-opacity: 0.629243"/> </g> <g clip-path="url(#p45accf0388)"> <use href="#C1_0_d106ea09ab" x="187.047683" y="363.138214" style="fill: #008000; fill-opacity: 0.629458; stroke: #008000; stroke-opacity: 0.629458"/> </g> <g clip-path="url(#p45accf0388)"> <use href="#C1_0_d106ea09ab" x="216.244836" y="398.00403" style="fill: #008000; fill-opacity: 0.629465; stroke: #008000; stroke-opacity: 0.629465"/> </g> <g clip-path="url(#p45accf0388)"> <use href="#C1_0_d106ea09ab" x="340.68959" y="364.951511" style="fill: #008000; fill-opacity: 0.629561; stroke: #008000; stroke-opacity: 0.629561"/> </g> <g clip-path="url(#p45accf0388)"> <use href="#C1_0_d106ea09ab" x="327.817632" y="384.402015" style="fill: #008000; fill-opacity: 0.629621; stroke: #008000; stroke-opacity: 0.629621"/> </g> <g clip-path="url(#p45accf0388)"> <use href="#C1_0_d106ea09ab" x="356.381864" y="401.658438" style="fill: #008000; fill-opacity: 0.629682; stroke: #008000; stroke-opacity: 0.629682"/> </g> <g clip-path="url(#p45accf0388)"> <use href="#C1_0_d106ea09ab" x="436.288585" y="417.533363" style="fill: #008000; fill-opacity: 0.629872; stroke: #008000; stroke-opacity: 0.629872"/> </g> <g clip-path="url(#p45accf0388)"> <use href="#C1_0_d106ea09ab" x="402.123755" y="421.023887" style="fill: #008000; fill-opacity: 0.629995; stroke: #008000; stroke-opacity: 0.629995"/> </g> <g clip-path="url(#p45accf0388)"> <use href="#C1_0_d106ea09ab" x="165.288113" y="366.523036" style="fill: #008000; fill-opacity: 0.630123; stroke: #008000; stroke-opacity: 0.630123"/> </g> <g clip-path="url(#p45accf0388)"> <use href="#C1_0_d106ea09ab" x="347.767254" y="454.503778" style="fill: #008000; fill-opacity: 0.630598; stroke: #008000; stroke-opacity: 0.630598"/> </g> <g clip-path="url(#p45accf0388)"> <use href="#C1_0_d106ea09ab" x="208.990428" y="404.956171" style="fill: #008000; fill-opacity: 0.631011; stroke: #008000; stroke-opacity: 0.631011"/> </g> <g clip-path="url(#p45accf0388)"> <use href="#C1_0_d106ea09ab" x="315.726952" y="436.367758" style="fill: #008000; fill-opacity: 0.631248; stroke: #008000; stroke-opacity: 0.631248"/> </g> <g clip-path="url(#p45accf0388)"> <use href="#C1_0_d106ea09ab" x="253.592947" y="381.983879" style="fill: #008000; fill-opacity: 0.631539; stroke: #008000; stroke-opacity: 0.631539"/> </g> <g clip-path="url(#p45accf0388)"> <use href="#C1_0_d106ea09ab" x="252.027204" y="420.247859" style="fill: #008000; fill-opacity: 0.631543; stroke: #008000; stroke-opacity: 0.631543"/> </g> <g clip-path="url(#p45accf0388)"> <use href="#C1_0_d106ea09ab" x="257.186902" y="416.493703" style="fill: #008000; fill-opacity: 0.631553; stroke: #008000; stroke-opacity: 0.631553"/> </g> <g clip-path="url(#p45accf0388)"> <use href="#C1_0_d106ea09ab" x="291.376322" y="398.608564" style="fill: #008000; fill-opacity: 0.631602; stroke: #008000; stroke-opacity: 0.631602"/> </g> <g clip-path="url(#p45accf0388)"> <use href="#C1_0_d106ea09ab" x="181.768262" y="378.081612" style="fill: #008000; fill-opacity: 0.631749; stroke: #008000; stroke-opacity: 0.631749"/> </g> <g clip-path="url(#p45accf0388)"> <use href="#C1_0_d106ea09ab" x="332.653904" y="399.817632" style="fill: #008000; fill-opacity: 0.631914; stroke: #008000; stroke-opacity: 0.631914"/> </g> <g clip-path="url(#p45accf0388)"> <use href="#C1_0_d106ea09ab" x="205.363224" y="404.04937" style="fill: #008000; fill-opacity: 0.632143; stroke: #008000; stroke-opacity: 0.632143"/> </g> <g clip-path="url(#p45accf0388)"> <use href="#C1_0_d106ea09ab" x="350.789924" y="385.308816" style="fill: #008000; fill-opacity: 0.632531; stroke: #008000; stroke-opacity: 0.632531"/> </g> <g clip-path="url(#p45accf0388)"> <use href="#C1_0_d106ea09ab" x="246.405038" y="429.334005" style="fill: #008000; fill-opacity: 0.632983; stroke: #008000; stroke-opacity: 0.632983"/> </g> <g clip-path="url(#p45accf0388)"> <use href="#C1_0_d106ea09ab" x="146.675063" y="403.925441" style="fill: #008000; fill-opacity: 0.633006; stroke: #008000; stroke-opacity: 0.633006"/> </g> <g clip-path="url(#p45accf0388)"> <use href="#C1_0_d106ea09ab" x="309.077078" y="413.11738" style="fill: #008000; fill-opacity: 0.633466; stroke: #008000; stroke-opacity: 0.633466"/> </g> <g clip-path="url(#p45accf0388)"> <use href="#C1_0_d106ea09ab" x="208.385894" y="384.099748" style="fill: #008000; fill-opacity: 0.633506; stroke: #008000; stroke-opacity: 0.633506"/> </g> <g clip-path="url(#p45accf0388)"> <use href="#C1_0_d106ea09ab" x="204.75869" y="371.102267" style="fill: #008000; fill-opacity: 0.634317; stroke: #008000; stroke-opacity: 0.634317"/> </g> <g clip-path="url(#p45accf0388)"> <use href="#C1_0_d106ea09ab" x="188.981867" y="361.929349" style="fill: #008000; fill-opacity: 0.635248; stroke: #008000; stroke-opacity: 0.635248"/> </g> <g clip-path="url(#p45accf0388)"> <use href="#C1_0_d106ea09ab" x="301.608" y="436.68" style="fill: #008000; fill-opacity: 0.635389; stroke: #008000; stroke-opacity: 0.635389"/> </g> <g clip-path="url(#p45accf0388)"> <use href="#C1_0_d106ea09ab" x="307.86801" y="388.331486" style="fill: #008000; fill-opacity: 0.635926; stroke: #008000; stroke-opacity: 0.635926"/> </g> <g clip-path="url(#p45accf0388)"> <use href="#C1_0_d106ea09ab" x="325.399496" y="433.345088" style="fill: #008000; fill-opacity: 0.636102; stroke: #008000; stroke-opacity: 0.636102"/> </g> <g clip-path="url(#p45accf0388)"> <use href="#C1_0_d106ea09ab" x="205.785091" y="366.523036" style="fill: #008000; fill-opacity: 0.636265; stroke: #008000; stroke-opacity: 0.636265"/> </g> <g clip-path="url(#p45accf0388)"> <use href="#C1_0_d106ea09ab" x="189.040806" y="395.585894" style="fill: #008000; fill-opacity: 0.636332; stroke: #008000; stroke-opacity: 0.636332"/> </g> <g clip-path="url(#p45accf0388)"> <use href="#C1_0_d106ea09ab" x="241.417632" y="393.95063" style="fill: #008000; fill-opacity: 0.637099; stroke: #008000; stroke-opacity: 0.637099"/> </g> <g clip-path="url(#p45accf0388)"> <use href="#C1_0_d106ea09ab" x="262.35869" y="468.767758" style="fill: #008000; fill-opacity: 0.637821; stroke: #008000; stroke-opacity: 0.637821"/> </g> <g clip-path="url(#p45accf0388)"> <use href="#C1_0_d106ea09ab" x="276.867506" y="408.281108" style="fill: #008000; fill-opacity: 0.638649; stroke: #008000; stroke-opacity: 0.638649"/> </g> <g clip-path="url(#p45accf0388)"> <use href="#C1_0_d106ea09ab" x="266.935013" y="424.881612" style="fill: #008000; fill-opacity: 0.639133; stroke: #008000; stroke-opacity: 0.639133"/> </g> <g clip-path="url(#p45accf0388)"> <use href="#C1_0_d106ea09ab" x="302.427204" y="432.13602" style="fill: #008000; fill-opacity: 0.63923; stroke: #008000; stroke-opacity: 0.63923"/> </g> <g clip-path="url(#p45accf0388)"> <use href="#C1_0_d106ea09ab" x="193.092008" y="365.918603" style="fill: #008000; fill-opacity: 0.639362; stroke: #008000; stroke-opacity: 0.639362"/> </g> <g clip-path="url(#p45accf0388)"> <use href="#C1_0_d106ea09ab" x="257.50766" y="427.376285" style="fill: #008000; fill-opacity: 0.639525; stroke: #008000; stroke-opacity: 0.639525"/> </g> <g clip-path="url(#p45accf0388)"> <use href="#C1_0_d106ea09ab" x="235.070025" y="469.68665" style="fill: #008000; fill-opacity: 0.63985; stroke: #008000; stroke-opacity: 0.63985"/> </g> <g clip-path="url(#p45accf0388)"> <use href="#C1_0_d106ea09ab" x="212.617632" y="444.528967" style="fill: #008000; fill-opacity: 0.639891; stroke: #008000; stroke-opacity: 0.639891"/> </g> <g clip-path="url(#p45accf0388)"> <use href="#C1_0_d106ea09ab" x="203.078086" y="369.920403" style="fill: #008000; fill-opacity: 0.640096; stroke: #008000; stroke-opacity: 0.640096"/> </g> <g clip-path="url(#p45accf0388)"> <use href="#C1_0_d106ea09ab" x="275.096222" y="428.508816" style="fill: #008000; fill-opacity: 0.640676; stroke: #008000; stroke-opacity: 0.640676"/> </g> <g clip-path="url(#p45accf0388)"> <use href="#C1_0_d106ea09ab" x="228.033249" y="396.190428" style="fill: #008000; fill-opacity: 0.640869; stroke: #008000; stroke-opacity: 0.640869"/> </g> <g clip-path="url(#p45accf0388)"> <use href="#C1_0_d106ea09ab" x="313.91335" y="398.306297" style="fill: #008000; fill-opacity: 0.641474; stroke: #008000; stroke-opacity: 0.641474"/> </g> <g clip-path="url(#p45accf0388)"> <use href="#C1_0_d106ea09ab" x="294.398992" y="396.190428" style="fill: #008000; fill-opacity: 0.641641; stroke: #008000; stroke-opacity: 0.641641"/> </g> <g clip-path="url(#p45accf0388)"> <use href="#C1_0_d106ea09ab" x="319.68" y="444.168" style="fill: #008000; fill-opacity: 0.641841; stroke: #008000; stroke-opacity: 0.641841"/> </g> <g clip-path="url(#p45accf0388)"> <use href="#C1_0_d106ea09ab" x="188.738539" y="399.213098" style="fill: #008000; fill-opacity: 0.642257; stroke: #008000; stroke-opacity: 0.642257"/> </g> <g clip-path="url(#p45accf0388)"> <use href="#C1_0_d106ea09ab" x="369.077078" y="378.988413" style="fill: #008000; fill-opacity: 0.642396; stroke: #008000; stroke-opacity: 0.642396"/> </g> <g clip-path="url(#p45accf0388)"> <use href="#C1_0_d106ea09ab" x="400.615617" y="442.93602" style="fill: #008000; fill-opacity: 0.642717; stroke: #008000; stroke-opacity: 0.642717"/> </g> <g clip-path="url(#p45accf0388)"> <use href="#C1_0_d106ea09ab" x="246.640806" y="456.979345" style="fill: #008000; fill-opacity: 0.642728; stroke: #008000; stroke-opacity: 0.642728"/> </g> <g clip-path="url(#p45accf0388)"> <use href="#C1_0_d106ea09ab" x="279.576" y="442.512" style="fill: #008000; fill-opacity: 0.64311; stroke: #008000; stroke-opacity: 0.64311"/> </g> <g clip-path="url(#p45accf0388)"> <use href="#C1_0_d106ea09ab" x="450.14491" y="388.762979" style="fill: #008000; fill-opacity: 0.64312; stroke: #008000; stroke-opacity: 0.64312"/> </g> <g clip-path="url(#p45accf0388)"> <use href="#C1_0_d106ea09ab" x="248.152141" y="471.185894" style="fill: #008000; fill-opacity: 0.64316; stroke: #008000; stroke-opacity: 0.64316"/> </g> <g clip-path="url(#p45accf0388)"> <use href="#C1_0_d106ea09ab" x="300.613602" y="458.351637" style="fill: #008000; fill-opacity: 0.643257; stroke: #008000; stroke-opacity: 0.643257"/> </g> <g clip-path="url(#p45accf0388)"> <use href="#C1_0_d106ea09ab" x="300.613602" y="448.760705" style="fill: #008000; fill-opacity: 0.643403; stroke: #008000; stroke-opacity: 0.643403"/> </g> <g clip-path="url(#p45accf0388)"> <use href="#C1_0_d106ea09ab" x="347.395466" y="471.309824" style="fill: #008000; fill-opacity: 0.643434; stroke: #008000; stroke-opacity: 0.643434"/> </g> <g clip-path="url(#p45accf0388)"> <use href="#C1_0_d106ea09ab" x="238.00806" y="401.631234" style="fill: #008000; fill-opacity: 0.643463; stroke: #008000; stroke-opacity: 0.643463"/> </g> <g clip-path="url(#p45accf0388)"> <use href="#C1_0_d106ea09ab" x="260.54184" y="340.169778" style="fill: #008000; fill-opacity: 0.64352; stroke: #008000; stroke-opacity: 0.64352"/> </g> <g clip-path="url(#p45accf0388)"> <use href="#C1_0_d106ea09ab" x="242.409068" y="455.46801" style="fill: #008000; fill-opacity: 0.643831; stroke: #008000; stroke-opacity: 0.643831"/> </g> <g clip-path="url(#p45accf0388)"> <use href="#C1_0_d106ea09ab" x="329.631234" y="427.904282" style="fill: #008000; fill-opacity: 0.644393; stroke: #008000; stroke-opacity: 0.644393"/> </g> <g clip-path="url(#p45accf0388)"> <use href="#C1_0_d106ea09ab" x="350.042392" y="413.422036" style="fill: #008000; fill-opacity: 0.64488; stroke: #008000; stroke-opacity: 0.64488"/> </g> <g clip-path="url(#p45accf0388)"> <use href="#C1_0_d106ea09ab" x="257.74005" y="371.280605" style="fill: #008000; fill-opacity: 0.645165; stroke: #008000; stroke-opacity: 0.645165"/> </g> <g clip-path="url(#p45accf0388)"> <use href="#C1_0_d106ea09ab" x="269.595803" y="425.865268" style="fill: #008000; fill-opacity: 0.645888; stroke: #008000; stroke-opacity: 0.645888"/> </g> <g clip-path="url(#p45accf0388)"> <use href="#C1_0_d106ea09ab" x="307.263476" y="404.956171" style="fill: #008000; fill-opacity: 0.64622; stroke: #008000; stroke-opacity: 0.64622"/> </g> <g clip-path="url(#p45accf0388)"> <use href="#C1_0_d106ea09ab" x="362.276071" y="375.179849" style="fill: #008000; fill-opacity: 0.646939; stroke: #008000; stroke-opacity: 0.646939"/> </g> <g clip-path="url(#p45accf0388)"> <use href="#C1_0_d106ea09ab" x="253.28865" y="339.323573" style="fill: #008000; fill-opacity: 0.647043; stroke: #008000; stroke-opacity: 0.647043"/> </g> <g clip-path="url(#p45accf0388)"> <use href="#C1_0_d106ea09ab" x="411.1145" y="418.696871" style="fill: #008000; fill-opacity: 0.647492; stroke: #008000; stroke-opacity: 0.647492"/> </g> <g clip-path="url(#p45accf0388)"> <use href="#C1_0_d106ea09ab" x="276.867506" y="373.218136" style="fill: #008000; fill-opacity: 0.647763; stroke: #008000; stroke-opacity: 0.647763"/> </g> <g clip-path="url(#p45accf0388)"> <use href="#C1_0_d106ea09ab" x="298.881612" y="458.161209" style="fill: #008000; fill-opacity: 0.648119; stroke: #008000; stroke-opacity: 0.648119"/> </g> <g clip-path="url(#p45accf0388)"> <use href="#C1_0_d106ea09ab" x="190.249874" y="418.534005" style="fill: #008000; fill-opacity: 0.648924; stroke: #008000; stroke-opacity: 0.648924"/> </g> <g clip-path="url(#p45accf0388)"> <use href="#C1_0_d106ea09ab" x="335.07204" y="414.302267" style="fill: #008000; fill-opacity: 0.649363; stroke: #008000; stroke-opacity: 0.649363"/> </g> <g clip-path="url(#p45accf0388)"> <use href="#C1_0_d106ea09ab" x="211.408564" y="378.054408" style="fill: #008000; fill-opacity: 0.64949; stroke: #008000; stroke-opacity: 0.64949"/> </g> <g clip-path="url(#p45accf0388)"> <use href="#C1_0_d106ea09ab" x="453.482116" y="431.873048" style="fill: #008000; fill-opacity: 0.649607; stroke: #008000; stroke-opacity: 0.649607"/> </g> <g clip-path="url(#p45accf0388)"> <use href="#C1_0_d106ea09ab" x="328.132634" y="434.576285" style="fill: #008000; fill-opacity: 0.64991; stroke: #008000; stroke-opacity: 0.64991"/> </g> <g clip-path="url(#p45accf0388)"> <use href="#C1_0_d106ea09ab" x="250.485642" y="368.832242" style="fill: #008000; fill-opacity: 0.650214; stroke: #008000; stroke-opacity: 0.650214"/> </g> <g clip-path="url(#p45accf0388)"> <use href="#C1_0_d106ea09ab" x="281.808" y="439.848" style="fill: #008000; fill-opacity: 0.651073; stroke: #008000; stroke-opacity: 0.651073"/> </g> <g clip-path="url(#p45accf0388)"> <use href="#C1_0_d106ea09ab" x="186.62267" y="429.415617" style="fill: #008000; fill-opacity: 0.65115; stroke: #008000; stroke-opacity: 0.65115"/> </g> <g clip-path="url(#p45accf0388)"> <use href="#C1_0_d106ea09ab" x="264.66801" y="414.680101" style="fill: #008000; fill-opacity: 0.651317; stroke: #008000; stroke-opacity: 0.651317"/> </g> <g clip-path="url(#p45accf0388)"> <use href="#C1_0_d106ea09ab" x="266.590428" y="467.55869" style="fill: #008000; fill-opacity: 0.651323; stroke: #008000; stroke-opacity: 0.651323"/> </g> <g clip-path="url(#p45accf0388)"> <use href="#C1_0_d106ea09ab" x="224.522498" y="360.84137" style="fill: #008000; fill-opacity: 0.651516; stroke: #008000; stroke-opacity: 0.651516"/> </g> <g clip-path="url(#p45accf0388)"> <use href="#C1_0_d106ea09ab" x="279.279248" y="338.235594" style="fill: #008000; fill-opacity: 0.651642; stroke: #008000; stroke-opacity: 0.651642"/> </g> <g clip-path="url(#p45accf0388)"> <use href="#C1_0_d106ea09ab" x="250.485642" y="414.353652" style="fill: #008000; fill-opacity: 0.65172; stroke: #008000; stroke-opacity: 0.65172"/> </g> <g clip-path="url(#p45accf0388)"> <use href="#C1_0_d106ea09ab" x="248.67204" y="443.842821" style="fill: #008000; fill-opacity: 0.651848; stroke: #008000; stroke-opacity: 0.651848"/> </g> <g clip-path="url(#p45accf0388)"> <use href="#C1_0_d106ea09ab" x="165.899244" y="394.40403" style="fill: #008000; fill-opacity: 0.651895; stroke: #008000; stroke-opacity: 0.651895"/> </g> <g clip-path="url(#p45accf0388)"> <use href="#C1_0_d106ea09ab" x="363.641553" y="446.664428" style="fill: #008000; fill-opacity: 0.652619; stroke: #008000; stroke-opacity: 0.652619"/> </g> <g clip-path="url(#p45accf0388)"> <use href="#C1_0_d106ea09ab" x="200.811083" y="413.900252" style="fill: #008000; fill-opacity: 0.652712; stroke: #008000; stroke-opacity: 0.652712"/> </g> <g clip-path="url(#p45accf0388)"> <use href="#C1_0_d106ea09ab" x="373.157683" y="384.429219" style="fill: #008000; fill-opacity: 0.653041; stroke: #008000; stroke-opacity: 0.653041"/> </g> <g clip-path="url(#p45accf0388)"> <use href="#C1_0_d106ea09ab" x="308.050235" y="338.960913" style="fill: #008000; fill-opacity: 0.653349; stroke: #008000; stroke-opacity: 0.653349"/> </g> <g clip-path="url(#p45accf0388)"> <use href="#C1_0_d106ea09ab" x="205.363224" y="401.631234" style="fill: #008000; fill-opacity: 0.653353; stroke: #008000; stroke-opacity: 0.653353"/> </g> <g clip-path="url(#p45accf0388)"> <use href="#C1_0_d106ea09ab" x="357.288665" y="408.912846" style="fill: #008000; fill-opacity: 0.653582; stroke: #008000; stroke-opacity: 0.653582"/> </g> <g clip-path="url(#p45accf0388)"> <use href="#C1_0_d106ea09ab" x="161.365239" y="412.26801" style="fill: #008000; fill-opacity: 0.654644; stroke: #008000; stroke-opacity: 0.654644"/> </g> <g clip-path="url(#p45accf0388)"> <use href="#C1_0_d106ea09ab" x="345.953652" y="386.517884" style="fill: #008000; fill-opacity: 0.654757; stroke: #008000; stroke-opacity: 0.654757"/> </g> <g clip-path="url(#p45accf0388)"> <use href="#C1_0_d106ea09ab" x="241.03073" y="385.91335" style="fill: #008000; fill-opacity: 0.654945; stroke: #008000; stroke-opacity: 0.654945"/> </g> <g clip-path="url(#p45accf0388)"> <use href="#C1_0_d106ea09ab" x="281.401511" y="476.6267" style="fill: #008000; fill-opacity: 0.655173; stroke: #008000; stroke-opacity: 0.655173"/> </g> <g clip-path="url(#p45accf0388)"> <use href="#C1_0_d106ea09ab" x="275.658438" y="404.653904" style="fill: #008000; fill-opacity: 0.655405; stroke: #008000; stroke-opacity: 0.655405"/> </g> <g clip-path="url(#p45accf0388)"> <use href="#C1_0_d106ea09ab" x="319.536" y="445.968" style="fill: #008000; fill-opacity: 0.656054; stroke: #008000; stroke-opacity: 0.656054"/> </g> <g clip-path="url(#p45accf0388)"> <use href="#C1_0_d106ea09ab" x="318.749622" y="444.2267" style="fill: #008000; fill-opacity: 0.656173; stroke: #008000; stroke-opacity: 0.656173"/> </g> <g clip-path="url(#p45accf0388)"> <use href="#C1_0_d106ea09ab" x="337.490176" y="419.440806" style="fill: #008000; fill-opacity: 0.656816; stroke: #008000; stroke-opacity: 0.656816"/> </g> <g clip-path="url(#p45accf0388)"> <use href="#C1_0_d106ea09ab" x="203.247355" y="418.534005" style="fill: #008000; fill-opacity: 0.656833; stroke: #008000; stroke-opacity: 0.656833"/> </g> <g clip-path="url(#p45accf0388)"> <use href="#C1_0_d106ea09ab" x="180.680101" y="426.432242" style="fill: #008000; fill-opacity: 0.658127; stroke: #008000; stroke-opacity: 0.658127"/> </g> <g clip-path="url(#p45accf0388)"> <use href="#C1_0_d106ea09ab" x="243.61773" y="347.181195" style="fill: #008000; fill-opacity: 0.658506; stroke: #008000; stroke-opacity: 0.658506"/> </g> <g clip-path="url(#p45accf0388)"> <use href="#C1_0_d106ea09ab" x="240.510831" y="368.832242" style="fill: #008000; fill-opacity: 0.658668; stroke: #008000; stroke-opacity: 0.658668"/> </g> <g clip-path="url(#p45accf0388)"> <use href="#C1_0_d106ea09ab" x="187.662469" y="414.353652" style="fill: #008000; fill-opacity: 0.659092; stroke: #008000; stroke-opacity: 0.659092"/> </g> <g clip-path="url(#p45accf0388)"> <use href="#C1_0_d106ea09ab" x="330.235768" y="424.881612" style="fill: #008000; fill-opacity: 0.659168; stroke: #008000; stroke-opacity: 0.659168"/> </g> <g clip-path="url(#p45accf0388)"> <use href="#C1_0_d106ea09ab" x="261.947607" y="421.027708" style="fill: #008000; fill-opacity: 0.659361; stroke: #008000; stroke-opacity: 0.659361"/> </g> <g clip-path="url(#p45accf0388)"> <use href="#C1_0_d106ea09ab" x="174.513854" y="417.255416" style="fill: #008000; fill-opacity: 0.659781; stroke: #008000; stroke-opacity: 0.659781"/> </g> <g clip-path="url(#p45accf0388)"> <use href="#C1_0_d106ea09ab" x="273.240302" y="378.054408" style="fill: #008000; fill-opacity: 0.660147; stroke: #008000; stroke-opacity: 0.660147"/> </g> <g clip-path="url(#p45accf0388)"> <use href="#C1_0_d106ea09ab" x="183.128463" y="429.787406" style="fill: #008000; fill-opacity: 0.660198; stroke: #008000; stroke-opacity: 0.660198"/> </g> <g clip-path="url(#p45accf0388)"> <use href="#C1_0_d106ea09ab" x="195.69068" y="381.681612" style="fill: #008000; fill-opacity: 0.660575; stroke: #008000; stroke-opacity: 0.660575"/> </g> <g clip-path="url(#p45accf0388)"> <use href="#C1_0_d106ea09ab" x="313.91335" y="424.881612" style="fill: #008000; fill-opacity: 0.661025; stroke: #008000; stroke-opacity: 0.661025"/> </g> <g clip-path="url(#p45accf0388)"> <use href="#C1_0_d106ea09ab" x="388.645844" y="462.613602" style="fill: #008000; fill-opacity: 0.661767; stroke: #008000; stroke-opacity: 0.661767"/> </g> <g clip-path="url(#p45accf0388)"> <use href="#C1_0_d106ea09ab" x="375.878086" y="422.514861" style="fill: #008000; fill-opacity: 0.661832; stroke: #008000; stroke-opacity: 0.661832"/> </g> <g clip-path="url(#p45accf0388)"> <use href="#C1_0_d106ea09ab" x="331.444836" y="476.941058" style="fill: #008000; fill-opacity: 0.662713; stroke: #008000; stroke-opacity: 0.662713"/> </g> <g clip-path="url(#p45accf0388)"> <use href="#C1_0_d106ea09ab" x="299.404534" y="402.235768" style="fill: #008000; fill-opacity: 0.663533; stroke: #008000; stroke-opacity: 0.663533"/> </g> <g clip-path="url(#p45accf0388)"> <use href="#C1_0_d106ea09ab" x="164.539043" y="386.696222" style="fill: #008000; fill-opacity: 0.663617; stroke: #008000; stroke-opacity: 0.663617"/> </g> <g clip-path="url(#p45accf0388)"> <use href="#C1_0_d106ea09ab" x="292.32" y="422.136" style="fill: #008000; fill-opacity: 0.664162; stroke: #008000; stroke-opacity: 0.664162"/> </g> <g clip-path="url(#p45accf0388)"> <use href="#C1_0_d106ea09ab" x="342.487303" y="443.642392" style="fill: #008000; fill-opacity: 0.664373; stroke: #008000; stroke-opacity: 0.664373"/> </g> <g clip-path="url(#p45accf0388)"> <use href="#C1_0_d106ea09ab" x="194.481612" y="386.517884" style="fill: #008000; fill-opacity: 0.664587; stroke: #008000; stroke-opacity: 0.664587"/> </g> <g clip-path="url(#p45accf0388)"> <use href="#C1_0_d106ea09ab" x="476.898678" y="362.385493" style="fill: #008000; fill-opacity: 0.6646; stroke: #008000; stroke-opacity: 0.6646"/> </g> <g clip-path="url(#p45accf0388)"> <use href="#C1_0_d106ea09ab" x="272.938035" y="371.706801" style="fill: #008000; fill-opacity: 0.665149; stroke: #008000; stroke-opacity: 0.665149"/> </g> <g clip-path="url(#p45accf0388)"> <use href="#C1_0_d106ea09ab" x="295.60806" y="473.60403" style="fill: #008000; fill-opacity: 0.66527; stroke: #008000; stroke-opacity: 0.66527"/> </g> <g clip-path="url(#p45accf0388)"> <use href="#C1_0_d106ea09ab" x="329.0267" y="410.699244" style="fill: #008000; fill-opacity: 0.665439; stroke: #008000; stroke-opacity: 0.665439"/> </g> <g clip-path="url(#p45accf0388)"> <use href="#C1_0_d106ea09ab" x="274.44937" y="392.563224" style="fill: #008000; fill-opacity: 0.665922; stroke: #008000; stroke-opacity: 0.665922"/> </g> <g clip-path="url(#p45accf0388)"> <use href="#C1_0_d106ea09ab" x="278.378841" y="400.119899" style="fill: #008000; fill-opacity: 0.666049; stroke: #008000; stroke-opacity: 0.666049"/> </g> <g clip-path="url(#p45accf0388)"> <use href="#C1_0_d106ea09ab" x="336.281108" y="371.706801" style="fill: #008000; fill-opacity: 0.666136; stroke: #008000; stroke-opacity: 0.666136"/> </g> <g clip-path="url(#p45accf0388)"> <use href="#C1_0_d106ea09ab" x="274.44937" y="382.89068" style="fill: #008000; fill-opacity: 0.666203; stroke: #008000; stroke-opacity: 0.666203"/> </g> <g clip-path="url(#p45accf0388)"> <use href="#C1_0_d106ea09ab" x="207.598388" y="362.292008" style="fill: #008000; fill-opacity: 0.666331; stroke: #008000; stroke-opacity: 0.666331"/> </g> <g clip-path="url(#p45accf0388)"> <use href="#C1_0_d106ea09ab" x="160.458438" y="401.658438" style="fill: #008000; fill-opacity: 0.666418; stroke: #008000; stroke-opacity: 0.666418"/> </g> <g clip-path="url(#p45accf0388)"> <use href="#C1_0_d106ea09ab" x="239.519395" y="437.879093" style="fill: #008000; fill-opacity: 0.667394; stroke: #008000; stroke-opacity: 0.667394"/> </g> <g clip-path="url(#p45accf0388)"> <use href="#C1_0_d106ea09ab" x="208.385894" y="398.608564" style="fill: #008000; fill-opacity: 0.66777; stroke: #008000; stroke-opacity: 0.66777"/> </g> <g clip-path="url(#p45accf0388)"> <use href="#C1_0_d106ea09ab" x="197.806549" y="398.910831" style="fill: #008000; fill-opacity: 0.66839; stroke: #008000; stroke-opacity: 0.66839"/> </g> <g clip-path="url(#p45accf0388)"> <use href="#C1_0_d106ea09ab" x="270.562217" y="443.017632" style="fill: #008000; fill-opacity: 0.668873; stroke: #008000; stroke-opacity: 0.668873"/> </g> <g clip-path="url(#p45accf0388)"> <use href="#C1_0_d106ea09ab" x="297.06801" y="452.720403" style="fill: #008000; fill-opacity: 0.668875; stroke: #008000; stroke-opacity: 0.668875"/> </g> <g clip-path="url(#p45accf0388)"> <use href="#C1_0_d106ea09ab" x="322.56" y="433.728" style="fill: #008000; fill-opacity: 0.669515; stroke: #008000; stroke-opacity: 0.669515"/> </g> <g clip-path="url(#p45accf0388)"> <use href="#C1_0_d106ea09ab" x="196.277078" y="414.172292" style="fill: #008000; fill-opacity: 0.669611; stroke: #008000; stroke-opacity: 0.669611"/> </g> <g clip-path="url(#p45accf0388)"> <use href="#C1_0_d106ea09ab" x="282.308312" y="471.790428" style="fill: #008000; fill-opacity: 0.669851; stroke: #008000; stroke-opacity: 0.669851"/> </g> <g clip-path="url(#p45accf0388)"> <use href="#C1_0_d106ea09ab" x="225.010579" y="427.904282" style="fill: #008000; fill-opacity: 0.66997; stroke: #008000; stroke-opacity: 0.66997"/> </g> <g clip-path="url(#p45accf0388)"> <use href="#C1_0_d106ea09ab" x="184.204534" y="437.576826" style="fill: #008000; fill-opacity: 0.670086; stroke: #008000; stroke-opacity: 0.670086"/> </g> <g clip-path="url(#p45accf0388)"> <use href="#C1_0_d106ea09ab" x="345.349118" y="437.576826" style="fill: #008000; fill-opacity: 0.670411; stroke: #008000; stroke-opacity: 0.670411"/> </g> <g clip-path="url(#p45accf0388)"> <use href="#C1_0_d106ea09ab" x="300.009068" y="413.11738" style="fill: #008000; fill-opacity: 0.670954; stroke: #008000; stroke-opacity: 0.670954"/> </g> <g clip-path="url(#p45accf0388)"> <use href="#C1_0_d106ea09ab" x="323.568" y="429.696" style="fill: #008000; fill-opacity: 0.671138; stroke: #008000; stroke-opacity: 0.671138"/> </g> <g clip-path="url(#p45accf0388)"> <use href="#C1_0_d106ea09ab" x="264.776826" y="379.263476" style="fill: #008000; fill-opacity: 0.671179; stroke: #008000; stroke-opacity: 0.671179"/> </g> <g clip-path="url(#p45accf0388)"> <use href="#C1_0_d106ea09ab" x="295.254408" y="455.440806" style="fill: #008000; fill-opacity: 0.671412; stroke: #008000; stroke-opacity: 0.671412"/> </g> <g clip-path="url(#p45accf0388)"> <use href="#C1_0_d106ea09ab" x="288.353652" y="378.658942" style="fill: #008000; fill-opacity: 0.671486; stroke: #008000; stroke-opacity: 0.671486"/> </g> <g clip-path="url(#p45accf0388)"> <use href="#C1_0_d106ea09ab" x="450.77955" y="423.456677" style="fill: #008000; fill-opacity: 0.671575; stroke: #008000; stroke-opacity: 0.671575"/> </g> <g clip-path="url(#p45accf0388)"> <use href="#C1_0_d106ea09ab" x="269.008564" y="394.679093" style="fill: #008000; fill-opacity: 0.671589; stroke: #008000; stroke-opacity: 0.671589"/> </g> <g clip-path="url(#p45accf0388)"> <use href="#C1_0_d106ea09ab" x="310.89068" y="453.899244" style="fill: #008000; fill-opacity: 0.671643; stroke: #008000; stroke-opacity: 0.671643"/> </g> <g clip-path="url(#p45accf0388)"> <use href="#C1_0_d106ea09ab" x="299.404534" y="430.322418" style="fill: #008000; fill-opacity: 0.67191; stroke: #008000; stroke-opacity: 0.67191"/> </g> <g clip-path="url(#p45accf0388)"> <use href="#C1_0_d106ea09ab" x="358.195466" y="442.93602" style="fill: #008000; fill-opacity: 0.672338; stroke: #008000; stroke-opacity: 0.672338"/> </g> <g clip-path="url(#p45accf0388)"> <use href="#C1_0_d106ea09ab" x="238.00806" y="394.98136" style="fill: #008000; fill-opacity: 0.672343; stroke: #008000; stroke-opacity: 0.672343"/> </g> <g clip-path="url(#p45accf0388)"> <use href="#C1_0_d106ea09ab" x="339.606045" y="460.165239" style="fill: #008000; fill-opacity: 0.672362; stroke: #008000; stroke-opacity: 0.672362"/> </g> <g clip-path="url(#p45accf0388)"> <use href="#C1_0_d106ea09ab" x="300.613602" y="434.554156" style="fill: #008000; fill-opacity: 0.672744; stroke: #008000; stroke-opacity: 0.672744"/> </g> <g clip-path="url(#p45accf0388)"> <use href="#C1_0_d106ea09ab" x="246.03546" y="367.248355" style="fill: #008000; fill-opacity: 0.673081; stroke: #008000; stroke-opacity: 0.673081"/> </g> <g clip-path="url(#p45accf0388)"> <use href="#C1_0_d106ea09ab" x="419.259057" y="420.49502" style="fill: #008000; fill-opacity: 0.673201; stroke: #008000; stroke-opacity: 0.673201"/> </g> <g clip-path="url(#p45accf0388)"> <use href="#C1_0_d106ea09ab" x="419.04751" y="397.224857" style="fill: #008000; fill-opacity: 0.673367; stroke: #008000; stroke-opacity: 0.673367"/> </g> <g clip-path="url(#p45accf0388)"> <use href="#C1_0_d106ea09ab" x="191.458942" y="422.463476" style="fill: #008000; fill-opacity: 0.673421; stroke: #008000; stroke-opacity: 0.673421"/> </g> <g clip-path="url(#p45accf0388)"> <use href="#C1_0_d106ea09ab" x="361.36927" y="381.708816" style="fill: #008000; fill-opacity: 0.673783; stroke: #008000; stroke-opacity: 0.673783"/> </g> <g clip-path="url(#p45accf0388)"> <use href="#C1_0_d106ea09ab" x="316.008" y="433.8" style="fill: #008000; fill-opacity: 0.673822; stroke: #008000; stroke-opacity: 0.673822"/> </g> <g clip-path="url(#p45accf0388)"> <use href="#C1_0_d106ea09ab" x="451.837285" y="421.341208" style="fill: #008000; fill-opacity: 0.674166; stroke: #008000; stroke-opacity: 0.674166"/> </g> <g clip-path="url(#p45accf0388)"> <use href="#C1_0_d106ea09ab" x="219.569773" y="444.2267" style="fill: #008000; fill-opacity: 0.674311; stroke: #008000; stroke-opacity: 0.674311"/> </g> <g clip-path="url(#p45accf0388)"> <use href="#C1_0_d106ea09ab" x="287.144584" y="403.747103" style="fill: #008000; fill-opacity: 0.6745; stroke: #008000; stroke-opacity: 0.6745"/> </g> <g clip-path="url(#p45accf0388)"> <use href="#C1_0_d106ea09ab" x="298.026196" y="398.00403" style="fill: #008000; fill-opacity: 0.674868; stroke: #008000; stroke-opacity: 0.674868"/> </g> <g clip-path="url(#p45accf0388)"> <use href="#C1_0_d106ea09ab" x="227.126448" y="372.009068" style="fill: #008000; fill-opacity: 0.675197; stroke: #008000; stroke-opacity: 0.675197"/> </g> <g clip-path="url(#p45accf0388)"> <use href="#C1_0_d106ea09ab" x="376.485205" y="417.577335" style="fill: #008000; fill-opacity: 0.675726; stroke: #008000; stroke-opacity: 0.675726"/> </g> <g clip-path="url(#p45accf0388)"> <use href="#C1_0_d106ea09ab" x="327.456" y="431.784" style="fill: #008000; fill-opacity: 0.676056; stroke: #008000; stroke-opacity: 0.676056"/> </g> <g clip-path="url(#p45accf0388)"> <use href="#C1_0_d106ea09ab" x="324.794962" y="435.763224" style="fill: #008000; fill-opacity: 0.676134; stroke: #008000; stroke-opacity: 0.676134"/> </g> <g clip-path="url(#p45accf0388)"> <use href="#C1_0_d106ea09ab" x="364.089673" y="414.353652" style="fill: #008000; fill-opacity: 0.676301; stroke: #008000; stroke-opacity: 0.676301"/> </g> <g clip-path="url(#p45accf0388)"> <use href="#C1_0_d106ea09ab" x="195.69068" y="421.254408" style="fill: #008000; fill-opacity: 0.676401; stroke: #008000; stroke-opacity: 0.676401"/> </g> <g clip-path="url(#p45accf0388)"> <use href="#C1_0_d106ea09ab" x="301.218136" y="419.138539" style="fill: #008000; fill-opacity: 0.676803; stroke: #008000; stroke-opacity: 0.676803"/> </g> <g clip-path="url(#p45accf0388)"> <use href="#C1_0_d106ea09ab" x="328.422166" y="393.772292" style="fill: #008000; fill-opacity: 0.676953; stroke: #008000; stroke-opacity: 0.676953"/> </g> <g clip-path="url(#p45accf0388)"> <use href="#C1_0_d106ea09ab" x="399.255416" y="438.855416" style="fill: #008000; fill-opacity: 0.677194; stroke: #008000; stroke-opacity: 0.677194"/> </g> <g clip-path="url(#p45accf0388)"> <use href="#C1_0_d106ea09ab" x="373.157683" y="388.963224" style="fill: #008000; fill-opacity: 0.677551; stroke: #008000; stroke-opacity: 0.677551"/> </g> <g clip-path="url(#p45accf0388)"> <use href="#C1_0_d106ea09ab" x="327.817632" y="471.500252" style="fill: #008000; fill-opacity: 0.677948; stroke: #008000; stroke-opacity: 0.677948"/> </g> <g clip-path="url(#p45accf0388)"> <use href="#C1_0_d106ea09ab" x="219.87204" y="427.299748" style="fill: #008000; fill-opacity: 0.67797; stroke: #008000; stroke-opacity: 0.67797"/> </g> <g clip-path="url(#p45accf0388)"> <use href="#C1_0_d106ea09ab" x="299.404534" y="398.00403" style="fill: #008000; fill-opacity: 0.678018; stroke: #008000; stroke-opacity: 0.678018"/> </g> <g clip-path="url(#p45accf0388)"> <use href="#C1_0_d106ea09ab" x="276.909824" y="443.471033" style="fill: #008000; fill-opacity: 0.678059; stroke: #008000; stroke-opacity: 0.678059"/> </g> <g clip-path="url(#p45accf0388)"> <use href="#C1_0_d106ea09ab" x="172.700252" y="380.802015" style="fill: #008000; fill-opacity: 0.678096; stroke: #008000; stroke-opacity: 0.678096"/> </g> <g clip-path="url(#p45accf0388)"> <use href="#C1_0_d106ea09ab" x="293.976" y="428.904" style="fill: #008000; fill-opacity: 0.678261; stroke: #008000; stroke-opacity: 0.678261"/> </g> <g clip-path="url(#p45accf0388)"> <use href="#C1_0_d106ea09ab" x="278.723426" y="434.856423" style="fill: #008000; fill-opacity: 0.678744; stroke: #008000; stroke-opacity: 0.678744"/> </g> <g clip-path="url(#p45accf0388)"> <use href="#C1_0_d106ea09ab" x="194.481612" y="379.263476" style="fill: #008000; fill-opacity: 0.678777; stroke: #008000; stroke-opacity: 0.678777"/> </g> <g clip-path="url(#p45accf0388)"> <use href="#C1_0_d106ea09ab" x="297.421662" y="413.11738" style="fill: #008000; fill-opacity: 0.678858; stroke: #008000; stroke-opacity: 0.678858"/> </g> <g clip-path="url(#p45accf0388)"> <use href="#C1_0_d106ea09ab" x="279.285642" y="473.60403" style="fill: #008000; fill-opacity: 0.679068; stroke: #008000; stroke-opacity: 0.679068"/> </g> <g clip-path="url(#p45accf0388)"> <use href="#C1_0_d106ea09ab" x="232.567254" y="384.099748" style="fill: #008000; fill-opacity: 0.679318; stroke: #008000; stroke-opacity: 0.679318"/> </g> <g clip-path="url(#p45accf0388)"> <use href="#C1_0_d106ea09ab" x="370.89068" y="444.749622" style="fill: #008000; fill-opacity: 0.679338; stroke: #008000; stroke-opacity: 0.679338"/> </g> <g clip-path="url(#p45accf0388)"> <use href="#C1_0_d106ea09ab" x="290.52" y="451.944" style="fill: #008000; fill-opacity: 0.679356; stroke: #008000; stroke-opacity: 0.679356"/> </g> <g clip-path="url(#p45accf0388)"> <use href="#C1_0_d106ea09ab" x="264.776826" y="413.11738" style="fill: #008000; fill-opacity: 0.679417; stroke: #008000; stroke-opacity: 0.679417"/> </g> <g clip-path="url(#p45accf0388)"> <use href="#C1_0_d106ea09ab" x="289.56272" y="405.862972" style="fill: #008000; fill-opacity: 0.679489; stroke: #008000; stroke-opacity: 0.679489"/> </g> <g clip-path="url(#p45accf0388)"> <use href="#C1_0_d106ea09ab" x="366.891688" y="472.670025" style="fill: #008000; fill-opacity: 0.679513; stroke: #008000; stroke-opacity: 0.679513"/> </g> <g clip-path="url(#p45accf0388)"> <use href="#C1_0_d106ea09ab" x="298.026196" y="402.840302" style="fill: #008000; fill-opacity: 0.679849; stroke: #008000; stroke-opacity: 0.679849"/> </g> <g clip-path="url(#p45accf0388)"> <use href="#C1_0_d106ea09ab" x="266.288161" y="389.540554" style="fill: #008000; fill-opacity: 0.679887; stroke: #008000; stroke-opacity: 0.679887"/> </g> <g clip-path="url(#p45accf0388)"> <use href="#C1_0_d106ea09ab" x="282.006045" y="458.792947" style="fill: #008000; fill-opacity: 0.680337; stroke: #008000; stroke-opacity: 0.680337"/> </g> <g clip-path="url(#p45accf0388)"> <use href="#C1_0_d106ea09ab" x="365.903275" y="394.40403" style="fill: #008000; fill-opacity: 0.681026; stroke: #008000; stroke-opacity: 0.681026"/> </g> <g clip-path="url(#p45accf0388)"> <use href="#C1_0_d106ea09ab" x="285.071033" y="429.415617" style="fill: #008000; fill-opacity: 0.681251; stroke: #008000; stroke-opacity: 0.681251"/> </g> <g clip-path="url(#p45accf0388)"> <use href="#C1_0_d106ea09ab" x="396.835082" y="374.483561" style="fill: #008000; fill-opacity: 0.681773; stroke: #008000; stroke-opacity: 0.681773"/> </g> <g clip-path="url(#p45accf0388)"> <use href="#C1_0_d106ea09ab" x="355.928463" y="458.805038" style="fill: #008000; fill-opacity: 0.682144; stroke: #008000; stroke-opacity: 0.682144"/> </g> <g clip-path="url(#p45accf0388)"> <use href="#C1_0_d106ea09ab" x="405.825826" y="422.92781" style="fill: #008000; fill-opacity: 0.682343; stroke: #008000; stroke-opacity: 0.682343"/> </g> <g clip-path="url(#p45accf0388)"> <use href="#C1_0_d106ea09ab" x="308.016" y="437.976" style="fill: #008000; fill-opacity: 0.682462; stroke: #008000; stroke-opacity: 0.682462"/> </g> <g clip-path="url(#p45accf0388)"> <use href="#C1_0_d106ea09ab" x="169.51914" y="352.741974" style="fill: #008000; fill-opacity: 0.682662; stroke: #008000; stroke-opacity: 0.682662"/> </g> <g clip-path="url(#p45accf0388)"> <use href="#C1_0_d106ea09ab" x="356.835264" y="428.427204" style="fill: #008000; fill-opacity: 0.682694; stroke: #008000; stroke-opacity: 0.682694"/> </g> <g clip-path="url(#p45accf0388)"> <use href="#C1_0_d106ea09ab" x="180.861461" y="393.678589" style="fill: #008000; fill-opacity: 0.682784; stroke: #008000; stroke-opacity: 0.682784"/> </g> <g clip-path="url(#p45accf0388)"> <use href="#C1_0_d106ea09ab" x="261.947607" y="430.775819" style="fill: #008000; fill-opacity: 0.68303; stroke: #008000; stroke-opacity: 0.68303"/> </g> <g clip-path="url(#p45accf0388)"> <use href="#C1_0_d106ea09ab" x="280.8" y="438.624" style="fill: #008000; fill-opacity: 0.683076; stroke: #008000; stroke-opacity: 0.683076"/> </g> <g clip-path="url(#p45accf0388)"> <use href="#C1_0_d106ea09ab" x="311.184" y="428.04" style="fill: #008000; fill-opacity: 0.683195; stroke: #008000; stroke-opacity: 0.683195"/> </g> <g clip-path="url(#p45accf0388)"> <use href="#C1_0_d106ea09ab" x="416.932041" y="402.19621" style="fill: #008000; fill-opacity: 0.683356; stroke: #008000; stroke-opacity: 0.683356"/> </g> <g clip-path="url(#p45accf0388)"> <use href="#C1_0_d106ea09ab" x="273.28262" y="448.911839" style="fill: #008000; fill-opacity: 0.683896; stroke: #008000; stroke-opacity: 0.683896"/> </g> <g clip-path="url(#p45accf0388)"> <use href="#C1_0_d106ea09ab" x="358.648866" y="386.242821" style="fill: #008000; fill-opacity: 0.684225; stroke: #008000; stroke-opacity: 0.684225"/> </g> <g clip-path="url(#p45accf0388)"> <use href="#C1_0_d106ea09ab" x="290.16" y="426.096" style="fill: #008000; fill-opacity: 0.684778; stroke: #008000; stroke-opacity: 0.684778"/> </g> <g clip-path="url(#p45accf0388)"> <use href="#C1_0_d106ea09ab" x="325.399496" y="388.331486" style="fill: #008000; fill-opacity: 0.684798; stroke: #008000; stroke-opacity: 0.684798"/> </g> <g clip-path="url(#p45accf0388)"> <use href="#C1_0_d106ea09ab" x="415.577834" y="433.86801" style="fill: #008000; fill-opacity: 0.684943; stroke: #008000; stroke-opacity: 0.684943"/> </g> <g clip-path="url(#p45accf0388)"> <use href="#C1_0_d106ea09ab" x="294.139043" y="435.763224" style="fill: #008000; fill-opacity: 0.685076; stroke: #008000; stroke-opacity: 0.685076"/> </g> <g clip-path="url(#p45accf0388)"> <use href="#C1_0_d106ea09ab" x="376.784887" y="417.980856" style="fill: #008000; fill-opacity: 0.685512; stroke: #008000; stroke-opacity: 0.685512"/> </g> <g clip-path="url(#p45accf0388)"> <use href="#C1_0_d106ea09ab" x="370.43728" y="468.326448" style="fill: #008000; fill-opacity: 0.686089; stroke: #008000; stroke-opacity: 0.686089"/> </g> <g clip-path="url(#p45accf0388)"> <use href="#C1_0_d106ea09ab" x="279.890176" y="381.681612" style="fill: #008000; fill-opacity: 0.686126; stroke: #008000; stroke-opacity: 0.686126"/> </g> <g clip-path="url(#p45accf0388)"> <use href="#C1_0_d106ea09ab" x="229.544584" y="379.86801" style="fill: #008000; fill-opacity: 0.686454; stroke: #008000; stroke-opacity: 0.686454"/> </g> <g clip-path="url(#p45accf0388)"> <use href="#C1_0_d106ea09ab" x="207.78136" y="401.0267" style="fill: #008000; fill-opacity: 0.686488; stroke: #008000; stroke-opacity: 0.686488"/> </g> <g clip-path="url(#p45accf0388)"> <use href="#C1_0_d106ea09ab" x="396.306214" y="406.215602" style="fill: #008000; fill-opacity: 0.686536; stroke: #008000; stroke-opacity: 0.686536"/> </g> <g clip-path="url(#p45accf0388)"> <use href="#C1_0_d106ea09ab" x="280.49471" y="405.258438" style="fill: #008000; fill-opacity: 0.686556; stroke: #008000; stroke-opacity: 0.686556"/> </g> <g clip-path="url(#p45accf0388)"> <use href="#C1_0_d106ea09ab" x="186.018136" y="395.585894" style="fill: #008000; fill-opacity: 0.686626; stroke: #008000; stroke-opacity: 0.686626"/> </g> <g clip-path="url(#p45accf0388)"> <use href="#C1_0_d106ea09ab" x="292.032" y="451.728" style="fill: #008000; fill-opacity: 0.686691; stroke: #008000; stroke-opacity: 0.686691"/> </g> <g clip-path="url(#p45accf0388)"> <use href="#C1_0_d106ea09ab" x="338.699244" y="438.18136" style="fill: #008000; fill-opacity: 0.686915; stroke: #008000; stroke-opacity: 0.686915"/> </g> <g clip-path="url(#p45accf0388)"> <use href="#C1_0_d106ea09ab" x="242.711335" y="388.93602" style="fill: #008000; fill-opacity: 0.687005; stroke: #008000; stroke-opacity: 0.687005"/> </g> <g clip-path="url(#p45accf0388)"> <use href="#C1_0_d106ea09ab" x="305.449874" y="397.399496" style="fill: #008000; fill-opacity: 0.687066; stroke: #008000; stroke-opacity: 0.687066"/> </g> <g clip-path="url(#p45accf0388)"> <use href="#C1_0_d106ea09ab" x="303.787406" y="471.046851" style="fill: #008000; fill-opacity: 0.687169; stroke: #008000; stroke-opacity: 0.687169"/> </g> <g clip-path="url(#p45accf0388)"> <use href="#C1_0_d106ea09ab" x="316.93602" y="441.808564" style="fill: #008000; fill-opacity: 0.687391; stroke: #008000; stroke-opacity: 0.687391"/> </g> <g clip-path="url(#p45accf0388)"> <use href="#C1_0_d106ea09ab" x="227.815617" y="467.419647" style="fill: #008000; fill-opacity: 0.687392; stroke: #008000; stroke-opacity: 0.687392"/> </g> <g clip-path="url(#p45accf0388)"> <use href="#C1_0_d106ea09ab" x="283.51738" y="392.563224" style="fill: #008000; fill-opacity: 0.687577; stroke: #008000; stroke-opacity: 0.687577"/> </g> <g clip-path="url(#p45accf0388)"> <use href="#C1_0_d106ea09ab" x="299.404534" y="440.599496" style="fill: #008000; fill-opacity: 0.687595; stroke: #008000; stroke-opacity: 0.687595"/> </g> <g clip-path="url(#p45accf0388)"> <use href="#C1_0_d106ea09ab" x="270.822166" y="456.677078" style="fill: #008000; fill-opacity: 0.687743; stroke: #008000; stroke-opacity: 0.687743"/> </g> <g clip-path="url(#p45accf0388)"> <use href="#C1_0_d106ea09ab" x="279.630227" y="418.080605" style="fill: #008000; fill-opacity: 0.687863; stroke: #008000; stroke-opacity: 0.687863"/> </g> <g clip-path="url(#p45accf0388)"> <use href="#C1_0_d106ea09ab" x="350.789924" y="372.613602" style="fill: #008000; fill-opacity: 0.68829; stroke: #008000; stroke-opacity: 0.68829"/> </g> <g clip-path="url(#p45accf0388)"> <use href="#C1_0_d106ea09ab" x="330.414238" y="354.434385" style="fill: #008000; fill-opacity: 0.689754; stroke: #008000; stroke-opacity: 0.689754"/> </g> <g clip-path="url(#p45accf0388)"> <use href="#C1_0_d106ea09ab" x="186.80591" y="354.555272" style="fill: #008000; fill-opacity: 0.690039; stroke: #008000; stroke-opacity: 0.690039"/> </g> <g clip-path="url(#p45accf0388)"> <use href="#C1_0_d106ea09ab" x="306.792" y="434.232" style="fill: #008000; fill-opacity: 0.69028; stroke: #008000; stroke-opacity: 0.69028"/> </g> <g clip-path="url(#p45accf0388)"> <use href="#C1_0_d106ea09ab" x="391.547607" y="435.681612" style="fill: #008000; fill-opacity: 0.690293; stroke: #008000; stroke-opacity: 0.690293"/> </g> <g clip-path="url(#p45accf0388)"> <use href="#C1_0_d106ea09ab" x="271.469018" y="417.853904" style="fill: #008000; fill-opacity: 0.690724; stroke: #008000; stroke-opacity: 0.690724"/> </g> <g clip-path="url(#p45accf0388)"> <use href="#C1_0_d106ea09ab" x="219.324379" y="354.917931" style="fill: #008000; fill-opacity: 0.690892; stroke: #008000; stroke-opacity: 0.690892"/> </g> <g clip-path="url(#p45accf0388)"> <use href="#C1_0_d106ea09ab" x="374.517884" y="449.283627" style="fill: #008000; fill-opacity: 0.691262; stroke: #008000; stroke-opacity: 0.691262"/> </g> <g clip-path="url(#p45accf0388)"> <use href="#C1_0_d106ea09ab" x="290.376" y="429.84" style="fill: #008000; fill-opacity: 0.692051; stroke: #008000; stroke-opacity: 0.692051"/> </g> <g clip-path="url(#p45accf0388)"> <use href="#C1_0_d106ea09ab" x="333.258438" y="443.017632" style="fill: #008000; fill-opacity: 0.69211; stroke: #008000; stroke-opacity: 0.69211"/> </g> <g clip-path="url(#p45accf0388)"> <use href="#C1_0_d106ea09ab" x="322.679093" y="394.98136" style="fill: #008000; fill-opacity: 0.692494; stroke: #008000; stroke-opacity: 0.692494"/> </g> <g clip-path="url(#p45accf0388)"> <use href="#C1_0_d106ea09ab" x="332.653904" y="386.517884" style="fill: #008000; fill-opacity: 0.693808; stroke: #008000; stroke-opacity: 0.693808"/> </g> <g clip-path="url(#p45accf0388)"> <use href="#C1_0_d106ea09ab" x="339.001511" y="384.099748" style="fill: #008000; fill-opacity: 0.694088; stroke: #008000; stroke-opacity: 0.694088"/> </g> <g clip-path="url(#p45accf0388)"> <use href="#C1_0_d106ea09ab" x="260.847355" y="397.097229" style="fill: #008000; fill-opacity: 0.694241; stroke: #008000; stroke-opacity: 0.694241"/> </g> <g clip-path="url(#p45accf0388)"> <use href="#C1_0_d106ea09ab" x="280.990428" y="433.496222" style="fill: #008000; fill-opacity: 0.694274; stroke: #008000; stroke-opacity: 0.694274"/> </g> <g clip-path="url(#p45accf0388)"> <use href="#C1_0_d106ea09ab" x="304.322418" y="483.551637" style="fill: #008000; fill-opacity: 0.694586; stroke: #008000; stroke-opacity: 0.694586"/> </g> <g clip-path="url(#p45accf0388)"> <use href="#C1_0_d106ea09ab" x="253.895214" y="461.815617" style="fill: #008000; fill-opacity: 0.694669; stroke: #008000; stroke-opacity: 0.694669"/> </g> <g clip-path="url(#p45accf0388)"> <use href="#C1_0_d106ea09ab" x="215.035768" y="393.772292" style="fill: #008000; fill-opacity: 0.694797; stroke: #008000; stroke-opacity: 0.694797"/> </g> <g clip-path="url(#p45accf0388)"> <use href="#C1_0_d106ea09ab" x="222.709201" y="363.62176" style="fill: #008000; fill-opacity: 0.694824; stroke: #008000; stroke-opacity: 0.694824"/> </g> <g clip-path="url(#p45accf0388)"> <use href="#C1_0_d106ea09ab" x="316.93602" y="403.747103" style="fill: #008000; fill-opacity: 0.695479; stroke: #008000; stroke-opacity: 0.695479"/> </g> <g clip-path="url(#p45accf0388)"> <use href="#C1_0_d106ea09ab" x="262.963224" y="407.676574" style="fill: #008000; fill-opacity: 0.695848; stroke: #008000; stroke-opacity: 0.695848"/> </g> <g clip-path="url(#p45accf0388)"> <use href="#C1_0_d106ea09ab" x="257.867003" y="433.042821" style="fill: #008000; fill-opacity: 0.695882; stroke: #008000; stroke-opacity: 0.695882"/> </g> <g clip-path="url(#p45accf0388)"> <use href="#C1_0_d106ea09ab" x="309.681612" y="376.240806" style="fill: #008000; fill-opacity: 0.696099; stroke: #008000; stroke-opacity: 0.696099"/> </g> <g clip-path="url(#p45accf0388)"> <use href="#C1_0_d106ea09ab" x="300.888" y="437.04" style="fill: #008000; fill-opacity: 0.696109; stroke: #008000; stroke-opacity: 0.696109"/> </g> <g clip-path="url(#p45accf0388)"> <use href="#C1_0_d106ea09ab" x="327.515365" y="405.862972" style="fill: #008000; fill-opacity: 0.69685; stroke: #008000; stroke-opacity: 0.69685"/> </g> <g clip-path="url(#p45accf0388)"> <use href="#C1_0_d106ea09ab" x="226.521914" y="427.904282" style="fill: #008000; fill-opacity: 0.697231; stroke: #008000; stroke-opacity: 0.697231"/> </g> <g clip-path="url(#p45accf0388)"> <use href="#C1_0_d106ea09ab" x="370.43728" y="442.029219" style="fill: #008000; fill-opacity: 0.697406; stroke: #008000; stroke-opacity: 0.697406"/> </g> <g clip-path="url(#p45accf0388)"> <use href="#C1_0_d106ea09ab" x="164.539043" y="401.658438" style="fill: #008000; fill-opacity: 0.698037; stroke: #008000; stroke-opacity: 0.698037"/> </g> <g clip-path="url(#p45accf0388)"> <use href="#C1_0_d106ea09ab" x="345.349118" y="423.06801" style="fill: #008000; fill-opacity: 0.698205; stroke: #008000; stroke-opacity: 0.698205"/> </g> <g clip-path="url(#p45accf0388)"> <use href="#C1_0_d106ea09ab" x="290.736" y="452.376" style="fill: #008000; fill-opacity: 0.698525; stroke: #008000; stroke-opacity: 0.698525"/> </g> <g clip-path="url(#p45accf0388)"> <use href="#C1_0_d106ea09ab" x="339.722498" y="358.181867" style="fill: #008000; fill-opacity: 0.698571; stroke: #008000; stroke-opacity: 0.698571"/> </g> <g clip-path="url(#p45accf0388)"> <use href="#C1_0_d106ea09ab" x="350.18539" y="412.512846" style="fill: #008000; fill-opacity: 0.69867; stroke: #008000; stroke-opacity: 0.69867"/> </g> <g clip-path="url(#p45accf0388)"> <use href="#C1_0_d106ea09ab" x="279.285642" y="393.167758" style="fill: #008000; fill-opacity: 0.698928; stroke: #008000; stroke-opacity: 0.698928"/> </g> <g clip-path="url(#p45accf0388)"> <use href="#C1_0_d106ea09ab" x="181.314861" y="414.353652" style="fill: #008000; fill-opacity: 0.69931; stroke: #008000; stroke-opacity: 0.69931"/> </g> <g clip-path="url(#p45accf0388)"> <use href="#C1_0_d106ea09ab" x="422.961128" y="393.311238" style="fill: #008000; fill-opacity: 0.69947; stroke: #008000; stroke-opacity: 0.69947"/> </g> <g clip-path="url(#p45accf0388)"> <use href="#C1_0_d106ea09ab" x="286.54005" y="476.022166" style="fill: #008000; fill-opacity: 0.700549; stroke: #008000; stroke-opacity: 0.700549"/> </g> <g clip-path="url(#p45accf0388)"> <use href="#C1_0_d106ea09ab" x="336.281108" y="436.367758" style="fill: #008000; fill-opacity: 0.700883; stroke: #008000; stroke-opacity: 0.700883"/> </g> <g clip-path="url(#p45accf0388)"> <use href="#C1_0_d106ea09ab" x="378.598489" y="446.563224" style="fill: #008000; fill-opacity: 0.701028; stroke: #008000; stroke-opacity: 0.701028"/> </g> <g clip-path="url(#p45accf0388)"> <use href="#C1_0_d106ea09ab" x="303.031738" y="411.001511" style="fill: #008000; fill-opacity: 0.701208; stroke: #008000; stroke-opacity: 0.701208"/> </g> <g clip-path="url(#p45accf0388)"> <use href="#C1_0_d106ea09ab" x="375.351941" y="424.376915" style="fill: #008000; fill-opacity: 0.701404; stroke: #008000; stroke-opacity: 0.701404"/> </g> <g clip-path="url(#p45accf0388)"> <use href="#C1_0_d106ea09ab" x="291.87204" y="436.216625" style="fill: #008000; fill-opacity: 0.701698; stroke: #008000; stroke-opacity: 0.701698"/> </g> <g clip-path="url(#p45accf0388)"> <use href="#C1_0_d106ea09ab" x="256.053401" y="434.403023" style="fill: #008000; fill-opacity: 0.701801; stroke: #008000; stroke-opacity: 0.701801"/> </g> <g clip-path="url(#p45accf0388)"> <use href="#C1_0_d106ea09ab" x="321.470025" y="389.238287" style="fill: #008000; fill-opacity: 0.70189; stroke: #008000; stroke-opacity: 0.70189"/> </g> <g clip-path="url(#p45accf0388)"> <use href="#C1_0_d106ea09ab" x="351.998992" y="426.695214" style="fill: #008000; fill-opacity: 0.702029; stroke: #008000; stroke-opacity: 0.702029"/> </g> <g clip-path="url(#p45accf0388)"> <use href="#C1_0_d106ea09ab" x="355.626196" y="440.599496" style="fill: #008000; fill-opacity: 0.702383; stroke: #008000; stroke-opacity: 0.702383"/> </g> <g clip-path="url(#p45accf0388)"> <use href="#C1_0_d106ea09ab" x="280.728" y="433.44" style="fill: #008000; fill-opacity: 0.702414; stroke: #008000; stroke-opacity: 0.702414"/> </g> <g clip-path="url(#p45accf0388)"> <use href="#C1_0_d106ea09ab" x="228.335516" y="420.649874" style="fill: #008000; fill-opacity: 0.70303; stroke: #008000; stroke-opacity: 0.70303"/> </g> <g clip-path="url(#p45accf0388)"> <use href="#C1_0_d106ea09ab" x="142.775819" y="411.361209" style="fill: #008000; fill-opacity: 0.703182; stroke: #008000; stroke-opacity: 0.703182"/> </g> <g clip-path="url(#p45accf0388)"> <use href="#C1_0_d106ea09ab" x="280.796977" y="385.611083" style="fill: #008000; fill-opacity: 0.703427; stroke: #008000; stroke-opacity: 0.703427"/> </g> <g clip-path="url(#p45accf0388)"> <use href="#C1_0_d106ea09ab" x="215.573804" y="463.339043" style="fill: #008000; fill-opacity: 0.703724; stroke: #008000; stroke-opacity: 0.703724"/> </g> <g clip-path="url(#p45accf0388)"> <use href="#C1_0_d106ea09ab" x="280.083627" y="428.962217" style="fill: #008000; fill-opacity: 0.703857; stroke: #008000; stroke-opacity: 0.703857"/> </g> <g clip-path="url(#p45accf0388)"> <use href="#C1_0_d106ea09ab" x="411.497229" y="434.321411" style="fill: #008000; fill-opacity: 0.705399; stroke: #008000; stroke-opacity: 0.705399"/> </g> <g clip-path="url(#p45accf0388)"> <use href="#C1_0_d106ea09ab" x="298.219647" y="445.738035" style="fill: #008000; fill-opacity: 0.705441; stroke: #008000; stroke-opacity: 0.705441"/> </g> <g clip-path="url(#p45accf0388)"> <use href="#C1_0_d106ea09ab" x="300.009068" y="438.18136" style="fill: #008000; fill-opacity: 0.705643; stroke: #008000; stroke-opacity: 0.705643"/> </g> <g clip-path="url(#p45accf0388)"> <use href="#C1_0_d106ea09ab" x="311.495214" y="427.299748" style="fill: #008000; fill-opacity: 0.706243; stroke: #008000; stroke-opacity: 0.706243"/> </g> <g clip-path="url(#p45accf0388)"> <use href="#C1_0_d106ea09ab" x="228.995299" y="361.445803" style="fill: #008000; fill-opacity: 0.70625; stroke: #008000; stroke-opacity: 0.70625"/> </g> <g clip-path="url(#p45accf0388)"> <use href="#C1_0_d106ea09ab" x="322.98136" y="432.13602" style="fill: #008000; fill-opacity: 0.706365; stroke: #008000; stroke-opacity: 0.706365"/> </g> <g clip-path="url(#p45accf0388)"> <use href="#C1_0_d106ea09ab" x="374.971285" y="425.706801" style="fill: #008000; fill-opacity: 0.706438; stroke: #008000; stroke-opacity: 0.706438"/> </g> <g clip-path="url(#p45accf0388)"> <use href="#C1_0_d106ea09ab" x="220.476574" y="380.472544" style="fill: #008000; fill-opacity: 0.706464; stroke: #008000; stroke-opacity: 0.706464"/> </g> <g clip-path="url(#p45accf0388)"> <use href="#C1_0_d106ea09ab" x="311.495214" y="481.021662" style="fill: #008000; fill-opacity: 0.706589; stroke: #008000; stroke-opacity: 0.706589"/> </g> <g clip-path="url(#p45accf0388)"> <use href="#C1_0_d106ea09ab" x="233.171788" y="433.949622" style="fill: #008000; fill-opacity: 0.706736; stroke: #008000; stroke-opacity: 0.706736"/> </g> <g clip-path="url(#p45accf0388)"> <use href="#C1_0_d106ea09ab" x="225.615113" y="448.760705" style="fill: #008000; fill-opacity: 0.706817; stroke: #008000; stroke-opacity: 0.706817"/> </g> <g clip-path="url(#p45accf0388)"> <use href="#C1_0_d106ea09ab" x="224.708312" y="389.540554" style="fill: #008000; fill-opacity: 0.706857; stroke: #008000; stroke-opacity: 0.706857"/> </g> <g clip-path="url(#p45accf0388)"> <use href="#C1_0_d106ea09ab" x="353.20806" y="437.576826" style="fill: #008000; fill-opacity: 0.707128; stroke: #008000; stroke-opacity: 0.707128"/> </g> <g clip-path="url(#p45accf0388)"> <use href="#C1_0_d106ea09ab" x="187.529471" y="404.653904" style="fill: #008000; fill-opacity: 0.707133; stroke: #008000; stroke-opacity: 0.707133"/> </g> <g clip-path="url(#p45accf0388)"> <use href="#C1_0_d106ea09ab" x="409.230227" y="436.588413" style="fill: #008000; fill-opacity: 0.707181; stroke: #008000; stroke-opacity: 0.707181"/> </g> <g clip-path="url(#p45accf0388)"> <use href="#C1_0_d106ea09ab" x="324.355089" y="431.55425" style="fill: #008000; fill-opacity: 0.707325; stroke: #008000; stroke-opacity: 0.707325"/> </g> <g clip-path="url(#p45accf0388)"> <use href="#C1_0_d106ea09ab" x="300.384" y="436.464" style="fill: #008000; fill-opacity: 0.707479; stroke: #008000; stroke-opacity: 0.707479"/> </g> <g clip-path="url(#p45accf0388)"> <use href="#C1_0_d106ea09ab" x="266.935013" y="443.924433" style="fill: #008000; fill-opacity: 0.707524; stroke: #008000; stroke-opacity: 0.707524"/> </g> <g clip-path="url(#p45accf0388)"> <use href="#C1_0_d106ea09ab" x="204.154156" y="390.145088" style="fill: #008000; fill-opacity: 0.708509; stroke: #008000; stroke-opacity: 0.708509"/> </g> <g clip-path="url(#p45accf0388)"> <use href="#C1_0_d106ea09ab" x="304.84534" y="424.881612" style="fill: #008000; fill-opacity: 0.708554; stroke: #008000; stroke-opacity: 0.708554"/> </g> <g clip-path="url(#p45accf0388)"> <use href="#C1_0_d106ea09ab" x="366.356675" y="416.620655" style="fill: #008000; fill-opacity: 0.708602; stroke: #008000; stroke-opacity: 0.708602"/> </g> <g clip-path="url(#p45accf0388)"> <use href="#C1_0_d106ea09ab" x="239.519395" y="432.438287" style="fill: #008000; fill-opacity: 0.708772; stroke: #008000; stroke-opacity: 0.708772"/> </g> <g clip-path="url(#p45accf0388)"> <use href="#C1_0_d106ea09ab" x="333.258438" y="466.966247" style="fill: #008000; fill-opacity: 0.709028; stroke: #008000; stroke-opacity: 0.709028"/> </g> <g clip-path="url(#p45accf0388)"> <use href="#C1_0_d106ea09ab" x="333.258438" y="421.254408" style="fill: #008000; fill-opacity: 0.709701; stroke: #008000; stroke-opacity: 0.709701"/> </g> <g clip-path="url(#p45accf0388)"> <use href="#C1_0_d106ea09ab" x="256.506801" y="437.576826" style="fill: #008000; fill-opacity: 0.709702; stroke: #008000; stroke-opacity: 0.709702"/> </g> <g clip-path="url(#p45accf0388)"> <use href="#C1_0_d106ea09ab" x="151.934509" y="374.907809" style="fill: #008000; fill-opacity: 0.709784; stroke: #008000; stroke-opacity: 0.709784"/> </g> <g clip-path="url(#p45accf0388)"> <use href="#C1_0_d106ea09ab" x="192.66801" y="411.908312" style="fill: #008000; fill-opacity: 0.709792; stroke: #008000; stroke-opacity: 0.709792"/> </g> <g clip-path="url(#p45accf0388)"> <use href="#C1_0_d106ea09ab" x="176.327456" y="398.484635" style="fill: #008000; fill-opacity: 0.709904; stroke: #008000; stroke-opacity: 0.709904"/> </g> <g clip-path="url(#p45accf0388)"> <use href="#C1_0_d106ea09ab" x="258.263169" y="440.975446" style="fill: #008000; fill-opacity: 0.709944; stroke: #008000; stroke-opacity: 0.709944"/> </g> <g clip-path="url(#p45accf0388)"> <use href="#C1_0_d106ea09ab" x="321.772292" y="425.486146" style="fill: #008000; fill-opacity: 0.710617; stroke: #008000; stroke-opacity: 0.710617"/> </g> <g clip-path="url(#p45accf0388)"> <use href="#C1_0_d106ea09ab" x="291.376322" y="454.258942" style="fill: #008000; fill-opacity: 0.710745; stroke: #008000; stroke-opacity: 0.710745"/> </g> <g clip-path="url(#p45accf0388)"> <use href="#C1_0_d106ea09ab" x="273.240302" y="450.027204" style="fill: #008000; fill-opacity: 0.710766; stroke: #008000; stroke-opacity: 0.710766"/> </g> <g clip-path="url(#p45accf0388)"> <use href="#C1_0_d106ea09ab" x="261.149622" y="372.613602" style="fill: #008000; fill-opacity: 0.711201; stroke: #008000; stroke-opacity: 0.711201"/> </g> <g clip-path="url(#p45accf0388)"> <use href="#C1_0_d106ea09ab" x="292.58539" y="383.495214" style="fill: #008000; fill-opacity: 0.711381; stroke: #008000; stroke-opacity: 0.711381"/> </g> <g clip-path="url(#p45accf0388)"> <use href="#C1_0_d106ea09ab" x="327.384" y="428.832" style="fill: #008000; fill-opacity: 0.711437; stroke: #008000; stroke-opacity: 0.711437"/> </g> <g clip-path="url(#p45accf0388)"> <use href="#C1_0_d106ea09ab" x="350.042392" y="433.820776" style="fill: #008000; fill-opacity: 0.711973; stroke: #008000; stroke-opacity: 0.711973"/> </g> <g clip-path="url(#p45accf0388)"> <use href="#C1_0_d106ea09ab" x="300.613602" y="413.900252" style="fill: #008000; fill-opacity: 0.712722; stroke: #008000; stroke-opacity: 0.712722"/> </g> <g clip-path="url(#p45accf0388)"> <use href="#C1_0_d106ea09ab" x="309.681612" y="429.717884" style="fill: #008000; fill-opacity: 0.71309; stroke: #008000; stroke-opacity: 0.71309"/> </g> <g clip-path="url(#p45accf0388)"> <use href="#C1_0_d106ea09ab" x="320.260957" y="390.749622" style="fill: #008000; fill-opacity: 0.713277; stroke: #008000; stroke-opacity: 0.713277"/> </g> <g clip-path="url(#p45accf0388)"> <use href="#C1_0_d106ea09ab" x="253.895214" y="386.215617" style="fill: #008000; fill-opacity: 0.71395; stroke: #008000; stroke-opacity: 0.71395"/> </g> <g clip-path="url(#p45accf0388)"> <use href="#C1_0_d106ea09ab" x="222.89471" y="380.472544" style="fill: #008000; fill-opacity: 0.714171; stroke: #008000; stroke-opacity: 0.714171"/> </g> <g clip-path="url(#p45accf0388)"> <use href="#C1_0_d106ea09ab" x="391.366247" y="441.303778" style="fill: #008000; fill-opacity: 0.714338; stroke: #008000; stroke-opacity: 0.714338"/> </g> <g clip-path="url(#p45accf0388)"> <use href="#C1_0_d106ea09ab" x="242.711335" y="384.099748" style="fill: #008000; fill-opacity: 0.714559; stroke: #008000; stroke-opacity: 0.714559"/> </g> <g clip-path="url(#p45accf0388)"> <use href="#C1_0_d106ea09ab" x="286.842317" y="390.749622" style="fill: #008000; fill-opacity: 0.715156; stroke: #008000; stroke-opacity: 0.715156"/> </g> <g clip-path="url(#p45accf0388)"> <use href="#C1_0_d106ea09ab" x="318.145088" y="420.04534" style="fill: #008000; fill-opacity: 0.715174; stroke: #008000; stroke-opacity: 0.715174"/> </g> <g clip-path="url(#p45accf0388)"> <use href="#C1_0_d106ea09ab" x="234.98539" y="374.427204" style="fill: #008000; fill-opacity: 0.715394; stroke: #008000; stroke-opacity: 0.715394"/> </g> <g clip-path="url(#p45accf0388)"> <use href="#C1_0_d106ea09ab" x="224.103778" y="407.676574" style="fill: #008000; fill-opacity: 0.715739; stroke: #008000; stroke-opacity: 0.715739"/> </g> <g clip-path="url(#p45accf0388)"> <use href="#C1_0_d106ea09ab" x="254.497515" y="365.67683" style="fill: #008000; fill-opacity: 0.716205; stroke: #008000; stroke-opacity: 0.716205"/> </g> <g clip-path="url(#p45accf0388)"> <use href="#C1_0_d106ea09ab" x="343.535516" y="443.622166" style="fill: #008000; fill-opacity: 0.716343; stroke: #008000; stroke-opacity: 0.716343"/> </g> <g clip-path="url(#p45accf0388)"> <use href="#C1_0_d106ea09ab" x="269.613098" y="470.58136" style="fill: #008000; fill-opacity: 0.716645; stroke: #008000; stroke-opacity: 0.716645"/> </g> <g clip-path="url(#p45accf0388)"> <use href="#C1_0_d106ea09ab" x="408.323426" y="440.215617" style="fill: #008000; fill-opacity: 0.717042; stroke: #008000; stroke-opacity: 0.717042"/> </g> <g clip-path="url(#p45accf0388)"> <use href="#C1_0_d106ea09ab" x="294.398992" y="452.44534" style="fill: #008000; fill-opacity: 0.718008; stroke: #008000; stroke-opacity: 0.718008"/> </g> <g clip-path="url(#p45accf0388)"> <use href="#C1_0_d106ea09ab" x="300.009068" y="405.862972" style="fill: #008000; fill-opacity: 0.718144; stroke: #008000; stroke-opacity: 0.718144"/> </g> <g clip-path="url(#p45accf0388)"> <use href="#C1_0_d106ea09ab" x="254.485624" y="439.464428" style="fill: #008000; fill-opacity: 0.718372; stroke: #008000; stroke-opacity: 0.718372"/> </g> <g clip-path="url(#p45accf0388)"> <use href="#C1_0_d106ea09ab" x="405.296959" y="402.830851" style="fill: #008000; fill-opacity: 0.718468; stroke: #008000; stroke-opacity: 0.718468"/> </g> <g clip-path="url(#p45accf0388)"> <use href="#C1_0_d106ea09ab" x="423.278449" y="417.533363" style="fill: #008000; fill-opacity: 0.718488; stroke: #008000; stroke-opacity: 0.718488"/> </g> <g clip-path="url(#p45accf0388)"> <use href="#C1_0_d106ea09ab" x="266.590428" y="471.790428" style="fill: #008000; fill-opacity: 0.71875; stroke: #008000; stroke-opacity: 0.71875"/> </g> <g clip-path="url(#p45accf0388)"> <use href="#C1_0_d106ea09ab" x="350.18539" y="414.604534" style="fill: #008000; fill-opacity: 0.71878; stroke: #008000; stroke-opacity: 0.71878"/> </g> <g clip-path="url(#p45accf0388)"> <use href="#C1_0_d106ea09ab" x="325.701763" y="374.729471" style="fill: #008000; fill-opacity: 0.718785; stroke: #008000; stroke-opacity: 0.718785"/> </g> <g clip-path="url(#p45accf0388)"> <use href="#C1_0_d106ea09ab" x="247.849874" y="410.699244" style="fill: #008000; fill-opacity: 0.719475; stroke: #008000; stroke-opacity: 0.719475"/> </g> <g clip-path="url(#p45accf0388)"> <use href="#C1_0_d106ea09ab" x="276.456423" y="416.720403" style="fill: #008000; fill-opacity: 0.719509; stroke: #008000; stroke-opacity: 0.719509"/> </g> <g clip-path="url(#p45accf0388)"> <use href="#C1_0_d106ea09ab" x="421.691847" y="408.859938" style="fill: #008000; fill-opacity: 0.719671; stroke: #008000; stroke-opacity: 0.719671"/> </g> <g clip-path="url(#p45accf0388)"> <use href="#C1_0_d106ea09ab" x="246.338539" y="463.326952" style="fill: #008000; fill-opacity: 0.719693; stroke: #008000; stroke-opacity: 0.719693"/> </g> <g clip-path="url(#p45accf0388)"> <use href="#C1_0_d106ea09ab" x="281.897229" y="436.216625" style="fill: #008000; fill-opacity: 0.719729; stroke: #008000; stroke-opacity: 0.719729"/> </g> <g clip-path="url(#p45accf0388)"> <use href="#C1_0_d106ea09ab" x="283.51738" y="378.356675" style="fill: #008000; fill-opacity: 0.720131; stroke: #008000; stroke-opacity: 0.720131"/> </g> <g clip-path="url(#p45accf0388)"> <use href="#C1_0_d106ea09ab" x="256.960202" y="428.962217" style="fill: #008000; fill-opacity: 0.720379; stroke: #008000; stroke-opacity: 0.720379"/> </g> <g clip-path="url(#p45accf0388)"> <use href="#C1_0_d106ea09ab" x="293.440806" y="453.627204" style="fill: #008000; fill-opacity: 0.720668; stroke: #008000; stroke-opacity: 0.720668"/> </g> <g clip-path="url(#p45accf0388)"> <use href="#C1_0_d106ea09ab" x="212.315365" y="391.95869" style="fill: #008000; fill-opacity: 0.721018; stroke: #008000; stroke-opacity: 0.721018"/> </g> <g clip-path="url(#p45accf0388)"> <use href="#C1_0_d106ea09ab" x="305.64" y="435.168" style="fill: #008000; fill-opacity: 0.721024; stroke: #008000; stroke-opacity: 0.721024"/> </g> <g clip-path="url(#p45accf0388)"> <use href="#C1_0_d106ea09ab" x="222.89471" y="442.110831" style="fill: #008000; fill-opacity: 0.721061; stroke: #008000; stroke-opacity: 0.721061"/> </g> <g clip-path="url(#p45accf0388)"> <use href="#C1_0_d106ea09ab" x="261.947607" y="425.788413" style="fill: #008000; fill-opacity: 0.72135; stroke: #008000; stroke-opacity: 0.72135"/> </g> <g clip-path="url(#p45accf0388)"> <use href="#C1_0_d106ea09ab" x="165.445844" y="391.230227" style="fill: #008000; fill-opacity: 0.721461; stroke: #008000; stroke-opacity: 0.721461"/> </g> <g clip-path="url(#p45accf0388)"> <use href="#C1_0_d106ea09ab" x="284.617632" y="445.738035" style="fill: #008000; fill-opacity: 0.721462; stroke: #008000; stroke-opacity: 0.721462"/> </g> <g clip-path="url(#p45accf0388)"> <use href="#C1_0_d106ea09ab" x="315.122418" y="429.11335" style="fill: #008000; fill-opacity: 0.721944; stroke: #008000; stroke-opacity: 0.721944"/> </g> <g clip-path="url(#p45accf0388)"> <use href="#C1_0_d106ea09ab" x="401.522418" y="434.321411" style="fill: #008000; fill-opacity: 0.721989; stroke: #008000; stroke-opacity: 0.721989"/> </g> <g clip-path="url(#p45accf0388)"> <use href="#C1_0_d106ea09ab" x="403.33602" y="431.873048" style="fill: #008000; fill-opacity: 0.722004; stroke: #008000; stroke-opacity: 0.722004"/> </g> <g clip-path="url(#p45accf0388)"> <use href="#C1_0_d106ea09ab" x="196.597481" y="384.099748" style="fill: #008000; fill-opacity: 0.722307; stroke: #008000; stroke-opacity: 0.722307"/> </g> <g clip-path="url(#p45accf0388)"> <use href="#C1_0_d106ea09ab" x="314.517884" y="455.108312" style="fill: #008000; fill-opacity: 0.722523; stroke: #008000; stroke-opacity: 0.722523"/> </g> <g clip-path="url(#p45accf0388)"> <use href="#C1_0_d106ea09ab" x="279.176826" y="427.148615" style="fill: #008000; fill-opacity: 0.722575; stroke: #008000; stroke-opacity: 0.722575"/> </g> <g clip-path="url(#p45accf0388)"> <use href="#C1_0_d106ea09ab" x="296.712" y="426.456" style="fill: #008000; fill-opacity: 0.722592; stroke: #008000; stroke-opacity: 0.722592"/> </g> <g clip-path="url(#p45accf0388)"> <use href="#C1_0_d106ea09ab" x="360.462469" y="430.240806" style="fill: #008000; fill-opacity: 0.722852; stroke: #008000; stroke-opacity: 0.722852"/> </g> <g clip-path="url(#p45accf0388)"> <use href="#C1_0_d106ea09ab" x="310.286146" y="398.910831" style="fill: #008000; fill-opacity: 0.723216; stroke: #008000; stroke-opacity: 0.723216"/> </g> <g clip-path="url(#p45accf0388)"> <use href="#C1_0_d106ea09ab" x="411.678589" y="428.608564" style="fill: #008000; fill-opacity: 0.723426; stroke: #008000; stroke-opacity: 0.723426"/> </g> <g clip-path="url(#p45accf0388)"> <use href="#C1_0_d106ea09ab" x="274.642821" y="435.763224" style="fill: #008000; fill-opacity: 0.723453; stroke: #008000; stroke-opacity: 0.723453"/> </g> <g clip-path="url(#p45accf0388)"> <use href="#C1_0_d106ea09ab" x="367.716877" y="452.457431" style="fill: #008000; fill-opacity: 0.723912; stroke: #008000; stroke-opacity: 0.723912"/> </g> <g clip-path="url(#p45accf0388)"> <use href="#C1_0_d106ea09ab" x="312.704282" y="410.699244" style="fill: #008000; fill-opacity: 0.724237; stroke: #008000; stroke-opacity: 0.724237"/> </g> <g clip-path="url(#p45accf0388)"> <use href="#C1_0_d106ea09ab" x="321.167758" y="447.853904" style="fill: #008000; fill-opacity: 0.724362; stroke: #008000; stroke-opacity: 0.724362"/> </g> <g clip-path="url(#p45accf0388)"> <use href="#C1_0_d106ea09ab" x="258.773804" y="447.551637" style="fill: #008000; fill-opacity: 0.725015; stroke: #008000; stroke-opacity: 0.725015"/> </g> <g clip-path="url(#p45accf0388)"> <use href="#C1_0_d106ea09ab" x="259.227204" y="431.229219" style="fill: #008000; fill-opacity: 0.725146; stroke: #008000; stroke-opacity: 0.725146"/> </g> <g clip-path="url(#p45accf0388)"> <use href="#C1_0_d106ea09ab" x="283.51738" y="403.747103" style="fill: #008000; fill-opacity: 0.72543; stroke: #008000; stroke-opacity: 0.72543"/> </g> <g clip-path="url(#p45accf0388)"> <use href="#C1_0_d106ea09ab" x="404.696222" y="438.402015" style="fill: #008000; fill-opacity: 0.725645; stroke: #008000; stroke-opacity: 0.725645"/> </g> <g clip-path="url(#p45accf0388)"> <use href="#C1_0_d106ea09ab" x="223.281612" y="471.953652" style="fill: #008000; fill-opacity: 0.725725; stroke: #008000; stroke-opacity: 0.725725"/> </g> <g clip-path="url(#p45accf0388)"> <use href="#C1_0_d106ea09ab" x="341.721914" y="420.952141" style="fill: #008000; fill-opacity: 0.725865; stroke: #008000; stroke-opacity: 0.725865"/> </g> <g clip-path="url(#p45accf0388)"> <use href="#C1_0_d106ea09ab" x="315.575819" y="471.046851" style="fill: #008000; fill-opacity: 0.725935; stroke: #008000; stroke-opacity: 0.725935"/> </g> <g clip-path="url(#p45accf0388)"> <use href="#C1_0_d106ea09ab" x="461.356897" y="369.935302" style="fill: #008000; fill-opacity: 0.726224; stroke: #008000; stroke-opacity: 0.726224"/> </g> <g clip-path="url(#p45accf0388)"> <use href="#C1_0_d106ea09ab" x="183.902267" y="433.949622" style="fill: #008000; fill-opacity: 0.726236; stroke: #008000; stroke-opacity: 0.726236"/> </g> <g clip-path="url(#p45accf0388)"> <use href="#C1_0_d106ea09ab" x="291.24" y="422.064" style="fill: #008000; fill-opacity: 0.726337; stroke: #008000; stroke-opacity: 0.726337"/> </g> <g clip-path="url(#p45accf0388)"> <use href="#C1_0_d106ea09ab" x="321.333054" y="445.908919" style="fill: #008000; fill-opacity: 0.726458; stroke: #008000; stroke-opacity: 0.726458"/> </g> <g clip-path="url(#p45accf0388)"> <use href="#C1_0_d106ea09ab" x="184.809068" y="380.472544" style="fill: #008000; fill-opacity: 0.726934; stroke: #008000; stroke-opacity: 0.726934"/> </g> <g clip-path="url(#p45accf0388)"> <use href="#C1_0_d106ea09ab" x="308.472544" y="414.906801" style="fill: #008000; fill-opacity: 0.727185; stroke: #008000; stroke-opacity: 0.727185"/> </g> <g clip-path="url(#p45accf0388)"> <use href="#C1_0_d106ea09ab" x="252.299244" y="444.296222" style="fill: #008000; fill-opacity: 0.727596; stroke: #008000; stroke-opacity: 0.727596"/> </g> <g clip-path="url(#p45accf0388)"> <use href="#C1_0_d106ea09ab" x="266.573767" y="432.664848" style="fill: #008000; fill-opacity: 0.728118; stroke: #008000; stroke-opacity: 0.728118"/> </g> <g clip-path="url(#p45accf0388)"> <use href="#C1_0_d106ea09ab" x="301.82267" y="380.774811" style="fill: #008000; fill-opacity: 0.728229; stroke: #008000; stroke-opacity: 0.728229"/> </g> <g clip-path="url(#p45accf0388)"> <use href="#C1_0_d106ea09ab" x="339.001511" y="427.904282" style="fill: #008000; fill-opacity: 0.728339; stroke: #008000; stroke-opacity: 0.728339"/> </g> <g clip-path="url(#p45accf0388)"> <use href="#C1_0_d106ea09ab" x="167.712846" y="421.4267" style="fill: #008000; fill-opacity: 0.728471; stroke: #008000; stroke-opacity: 0.728471"/> </g> <g clip-path="url(#p45accf0388)"> <use href="#C1_0_d106ea09ab" x="410.797179" y="398.071045" style="fill: #008000; fill-opacity: 0.728809; stroke: #008000; stroke-opacity: 0.728809"/> </g> <g clip-path="url(#p45accf0388)"> <use href="#C1_0_d106ea09ab" x="304.240806" y="427.904282" style="fill: #008000; fill-opacity: 0.729078; stroke: #008000; stroke-opacity: 0.729078"/> </g> <g clip-path="url(#p45accf0388)"> <use href="#C1_0_d106ea09ab" x="380.865491" y="433.41461" style="fill: #008000; fill-opacity: 0.729975; stroke: #008000; stroke-opacity: 0.729975"/> </g> <g clip-path="url(#p45accf0388)"> <use href="#C1_0_d106ea09ab" x="356.835264" y="422.514861" style="fill: #008000; fill-opacity: 0.73007; stroke: #008000; stroke-opacity: 0.73007"/> </g> <g clip-path="url(#p45accf0388)"> <use href="#C1_0_d106ea09ab" x="367.716877" y="425.706801" style="fill: #008000; fill-opacity: 0.730417; stroke: #008000; stroke-opacity: 0.730417"/> </g> <g clip-path="url(#p45accf0388)"> <use href="#C1_0_d106ea09ab" x="309.168" y="434.088" style="fill: #008000; fill-opacity: 0.730472; stroke: #008000; stroke-opacity: 0.730472"/> </g> <g clip-path="url(#p45accf0388)"> <use href="#C1_0_d106ea09ab" x="311.04" y="429.48" style="fill: #008000; fill-opacity: 0.730898; stroke: #008000; stroke-opacity: 0.730898"/> </g> <g clip-path="url(#p45accf0388)"> <use href="#C1_0_d106ea09ab" x="318.145088" y="399.213098" style="fill: #008000; fill-opacity: 0.731439; stroke: #008000; stroke-opacity: 0.731439"/> </g> <g clip-path="url(#p45accf0388)"> <use href="#C1_0_d106ea09ab" x="305.496" y="434.376" style="fill: #008000; fill-opacity: 0.731496; stroke: #008000; stroke-opacity: 0.731496"/> </g> <g clip-path="url(#p45accf0388)"> <use href="#C1_0_d106ea09ab" x="307.86801" y="432.13602" style="fill: #008000; fill-opacity: 0.73225; stroke: #008000; stroke-opacity: 0.73225"/> </g> <g clip-path="url(#p45accf0388)"> <use href="#C1_0_d106ea09ab" x="290.058438" y="422.161209" style="fill: #008000; fill-opacity: 0.732303; stroke: #008000; stroke-opacity: 0.732303"/> </g> <g clip-path="url(#p45accf0388)"> <use href="#C1_0_d106ea09ab" x="290.058438" y="433.949622" style="fill: #008000; fill-opacity: 0.73234; stroke: #008000; stroke-opacity: 0.73234"/> </g> <g clip-path="url(#p45accf0388)"> <use href="#C1_0_d106ea09ab" x="284.617632" y="418.080605" style="fill: #008000; fill-opacity: 0.732625; stroke: #008000; stroke-opacity: 0.732625"/> </g> <g clip-path="url(#p45accf0388)"> <use href="#C1_0_d106ea09ab" x="203.078086" y="470.774811" style="fill: #008000; fill-opacity: 0.732727; stroke: #008000; stroke-opacity: 0.732727"/> </g> <g clip-path="url(#p45accf0388)"> <use href="#C1_0_d106ea09ab" x="440.413751" y="395.109387" style="fill: #008000; fill-opacity: 0.732734; stroke: #008000; stroke-opacity: 0.732734"/> </g> <g clip-path="url(#p45accf0388)"> <use href="#C1_0_d106ea09ab" x="286.431234" y="433.042821" style="fill: #008000; fill-opacity: 0.73298; stroke: #008000; stroke-opacity: 0.73298"/> </g> <g clip-path="url(#p45accf0388)"> <use href="#C1_0_d106ea09ab" x="342.326448" y="455.410579" style="fill: #008000; fill-opacity: 0.733103; stroke: #008000; stroke-opacity: 0.733103"/> </g> <g clip-path="url(#p45accf0388)"> <use href="#C1_0_d106ea09ab" x="299.404534" y="388.93602" style="fill: #008000; fill-opacity: 0.733249; stroke: #008000; stroke-opacity: 0.733249"/> </g> <g clip-path="url(#p45accf0388)"> <use href="#C1_0_d106ea09ab" x="195.69068" y="444.2267" style="fill: #008000; fill-opacity: 0.73384; stroke: #008000; stroke-opacity: 0.73384"/> </g> <g clip-path="url(#p45accf0388)"> <use href="#C1_0_d106ea09ab" x="257.220151" y="455.770277" style="fill: #008000; fill-opacity: 0.734135; stroke: #008000; stroke-opacity: 0.734135"/> </g> <g clip-path="url(#p45accf0388)"> <use href="#C1_0_d106ea09ab" x="198.71335" y="373.520403" style="fill: #008000; fill-opacity: 0.734659; stroke: #008000; stroke-opacity: 0.734659"/> </g> <g clip-path="url(#p45accf0388)"> <use href="#C1_0_d106ea09ab" x="401.341058" y="453.364232" style="fill: #008000; fill-opacity: 0.734823; stroke: #008000; stroke-opacity: 0.734823"/> </g> <g clip-path="url(#p45accf0388)"> <use href="#C1_0_d106ea09ab" x="164.992443" y="403.925441" style="fill: #008000; fill-opacity: 0.735003; stroke: #008000; stroke-opacity: 0.735003"/> </g> <g clip-path="url(#p45accf0388)"> <use href="#C1_0_d106ea09ab" x="465.799383" y="373.743147" style="fill: #008000; fill-opacity: 0.735183; stroke: #008000; stroke-opacity: 0.735183"/> </g> <g clip-path="url(#p45accf0388)"> <use href="#C1_0_d106ea09ab" x="447.077479" y="413.831291" style="fill: #008000; fill-opacity: 0.735629; stroke: #008000; stroke-opacity: 0.735629"/> </g> <g clip-path="url(#p45accf0388)"> <use href="#C1_0_d106ea09ab" x="291.376322" y="378.961209" style="fill: #008000; fill-opacity: 0.736158; stroke: #008000; stroke-opacity: 0.736158"/> </g> <g clip-path="url(#p45accf0388)"> <use href="#C1_0_d106ea09ab" x="289.151637" y="439.843829" style="fill: #008000; fill-opacity: 0.736304; stroke: #008000; stroke-opacity: 0.736304"/> </g> <g clip-path="url(#p45accf0388)"> <use href="#C1_0_d106ea09ab" x="323.585894" y="423.672544" style="fill: #008000; fill-opacity: 0.736409; stroke: #008000; stroke-opacity: 0.736409"/> </g> <g clip-path="url(#p45accf0388)"> <use href="#C1_0_d106ea09ab" x="198.108816" y="385.91335" style="fill: #008000; fill-opacity: 0.736436; stroke: #008000; stroke-opacity: 0.736436"/> </g> <g clip-path="url(#p45accf0388)"> <use href="#C1_0_d106ea09ab" x="250.872544" y="413.11738" style="fill: #008000; fill-opacity: 0.736793; stroke: #008000; stroke-opacity: 0.736793"/> </g> <g clip-path="url(#p45accf0388)"> <use href="#C1_0_d106ea09ab" x="322.376826" y="444.831234" style="fill: #008000; fill-opacity: 0.736884; stroke: #008000; stroke-opacity: 0.736884"/> </g> <g clip-path="url(#p45accf0388)"> <use href="#C1_0_d106ea09ab" x="267.388413" y="437.576826" style="fill: #008000; fill-opacity: 0.737389; stroke: #008000; stroke-opacity: 0.737389"/> </g> <g clip-path="url(#p45accf0388)"> <use href="#C1_0_d106ea09ab" x="200.829219" y="414.604534" style="fill: #008000; fill-opacity: 0.737779; stroke: #008000; stroke-opacity: 0.737779"/> </g> <g clip-path="url(#p45accf0388)"> <use href="#C1_0_d106ea09ab" x="391.334861" y="398.599912" style="fill: #008000; fill-opacity: 0.737873; stroke: #008000; stroke-opacity: 0.737873"/> </g> <g clip-path="url(#p45accf0388)"> <use href="#C1_0_d106ea09ab" x="398.950551" y="394.89784" style="fill: #008000; fill-opacity: 0.738135; stroke: #008000; stroke-opacity: 0.738135"/> </g> <g clip-path="url(#p45accf0388)"> <use href="#C1_0_d106ea09ab" x="272.829219" y="419.894207" style="fill: #008000; fill-opacity: 0.738285; stroke: #008000; stroke-opacity: 0.738285"/> </g> <g clip-path="url(#p45accf0388)"> <use href="#C1_0_d106ea09ab" x="299.404534" y="452.690176" style="fill: #008000; fill-opacity: 0.738712; stroke: #008000; stroke-opacity: 0.738712"/> </g> <g clip-path="url(#p45accf0388)"> <use href="#C1_0_d106ea09ab" x="279.285642" y="454.258942" style="fill: #008000; fill-opacity: 0.738763; stroke: #008000; stroke-opacity: 0.738763"/> </g> <g clip-path="url(#p45accf0388)"> <use href="#C1_0_d106ea09ab" x="269.202015" y="428.055416" style="fill: #008000; fill-opacity: 0.738949; stroke: #008000; stroke-opacity: 0.738949"/> </g> <g clip-path="url(#p45accf0388)"> <use href="#C1_0_d106ea09ab" x="417.119395" y="454.271033" style="fill: #008000; fill-opacity: 0.738961; stroke: #008000; stroke-opacity: 0.738961"/> </g> <g clip-path="url(#p45accf0388)"> <use href="#C1_0_d106ea09ab" x="358.648866" y="440.215617" style="fill: #008000; fill-opacity: 0.739302; stroke: #008000; stroke-opacity: 0.739302"/> </g> <g clip-path="url(#p45accf0388)"> <use href="#C1_0_d106ea09ab" x="241.871033" y="462.432242" style="fill: #008000; fill-opacity: 0.739878; stroke: #008000; stroke-opacity: 0.739878"/> </g> <g clip-path="url(#p45accf0388)"> <use href="#C1_0_d106ea09ab" x="239.217128" y="388.331486" style="fill: #008000; fill-opacity: 0.739886; stroke: #008000; stroke-opacity: 0.739886"/> </g> <g clip-path="url(#p45accf0388)"> <use href="#C1_0_d106ea09ab" x="240.728463" y="439.390428" style="fill: #008000; fill-opacity: 0.740025; stroke: #008000; stroke-opacity: 0.740025"/> </g> <g clip-path="url(#p45accf0388)"> <use href="#C1_0_d106ea09ab" x="292.778841" y="439.390428" style="fill: #008000; fill-opacity: 0.740522; stroke: #008000; stroke-opacity: 0.740522"/> </g> <g clip-path="url(#p45accf0388)"> <use href="#C1_0_d106ea09ab" x="362.276071" y="471.500252" style="fill: #008000; fill-opacity: 0.740964; stroke: #008000; stroke-opacity: 0.740964"/> </g> <g clip-path="url(#p45accf0388)"> <use href="#C1_0_d106ea09ab" x="193.877078" y="452.085642" style="fill: #008000; fill-opacity: 0.74108; stroke: #008000; stroke-opacity: 0.74108"/> </g> <g clip-path="url(#p45accf0388)"> <use href="#C1_0_d106ea09ab" x="307.496222" y="474.937028" style="fill: #008000; fill-opacity: 0.741464; stroke: #008000; stroke-opacity: 0.741464"/> </g> <g clip-path="url(#p45accf0388)"> <use href="#C1_0_d106ea09ab" x="401.522418" y="471.500252" style="fill: #008000; fill-opacity: 0.741536; stroke: #008000; stroke-opacity: 0.741536"/> </g> <g clip-path="url(#p45accf0388)"> <use href="#C1_0_d106ea09ab" x="314.669018" y="413.446851" style="fill: #008000; fill-opacity: 0.741662; stroke: #008000; stroke-opacity: 0.741662"/> </g> <g clip-path="url(#p45accf0388)"> <use href="#C1_0_d106ea09ab" x="392.001008" y="459.439798" style="fill: #008000; fill-opacity: 0.741957; stroke: #008000; stroke-opacity: 0.741957"/> </g> <g clip-path="url(#p45accf0388)"> <use href="#C1_0_d106ea09ab" x="380.262749" y="433.065268" style="fill: #008000; fill-opacity: 0.741989; stroke: #008000; stroke-opacity: 0.741989"/> </g> <g clip-path="url(#p45accf0388)"> <use href="#C1_0_d106ea09ab" x="214.431234" y="398.608564" style="fill: #008000; fill-opacity: 0.742274; stroke: #008000; stroke-opacity: 0.742274"/> </g> <g clip-path="url(#p45accf0388)"> <use href="#C1_0_d106ea09ab" x="412.58539" y="458.532997" style="fill: #008000; fill-opacity: 0.742933; stroke: #008000; stroke-opacity: 0.742933"/> </g> <g clip-path="url(#p45accf0388)"> <use href="#C1_0_d106ea09ab" x="336.885642" y="432.13602" style="fill: #008000; fill-opacity: 0.743063; stroke: #008000; stroke-opacity: 0.743063"/> </g> <g clip-path="url(#p45accf0388)"> <use href="#C1_0_d106ea09ab" x="192.66801" y="377.449874" style="fill: #008000; fill-opacity: 0.743904; stroke: #008000; stroke-opacity: 0.743904"/> </g> <g clip-path="url(#p45accf0388)"> <use href="#C1_0_d106ea09ab" x="388.373804" y="437.041814" style="fill: #008000; fill-opacity: 0.744258; stroke: #008000; stroke-opacity: 0.744258"/> </g> <g clip-path="url(#p45accf0388)"> <use href="#C1_0_d106ea09ab" x="222.290176" y="432.740554" style="fill: #008000; fill-opacity: 0.744491; stroke: #008000; stroke-opacity: 0.744491"/> </g> <g clip-path="url(#p45accf0388)"> <use href="#C1_0_d106ea09ab" x="334.467506" y="411.908312" style="fill: #008000; fill-opacity: 0.744493; stroke: #008000; stroke-opacity: 0.744493"/> </g> <g clip-path="url(#p45accf0388)"> <use href="#C1_0_d106ea09ab" x="395.777347" y="422.610489" style="fill: #008000; fill-opacity: 0.745136; stroke: #008000; stroke-opacity: 0.745136"/> </g> <g clip-path="url(#p45accf0388)"> <use href="#C1_0_d106ea09ab" x="199.317884" y="437.576826" style="fill: #008000; fill-opacity: 0.745164; stroke: #008000; stroke-opacity: 0.745164"/> </g> <g clip-path="url(#p45accf0388)"> <use href="#C1_0_d106ea09ab" x="314.517884" y="422.463476" style="fill: #008000; fill-opacity: 0.745387; stroke: #008000; stroke-opacity: 0.745387"/> </g> <g clip-path="url(#p45accf0388)"> <use href="#C1_0_d106ea09ab" x="174.241814" y="390.776826" style="fill: #008000; fill-opacity: 0.745843; stroke: #008000; stroke-opacity: 0.745843"/> </g> <g clip-path="url(#p45accf0388)"> <use href="#C1_0_d106ea09ab" x="308.472544" y="420.649874" style="fill: #008000; fill-opacity: 0.746704; stroke: #008000; stroke-opacity: 0.746704"/> </g> <g clip-path="url(#p45accf0388)"> <use href="#C1_0_d106ea09ab" x="369.685624" y="420.977125" style="fill: #008000; fill-opacity: 0.746888; stroke: #008000; stroke-opacity: 0.746888"/> </g> <g clip-path="url(#p45accf0388)"> <use href="#C1_0_d106ea09ab" x="171.34005" y="399.391436" style="fill: #008000; fill-opacity: 0.747095; stroke: #008000; stroke-opacity: 0.747095"/> </g> <g clip-path="url(#p45accf0388)"> <use href="#C1_0_d106ea09ab" x="287.338035" y="448.005038" style="fill: #008000; fill-opacity: 0.747881; stroke: #008000; stroke-opacity: 0.747881"/> </g> <g clip-path="url(#p45accf0388)"> <use href="#C1_0_d106ea09ab" x="404.768092" y="408.013751" style="fill: #008000; fill-opacity: 0.748766; stroke: #008000; stroke-opacity: 0.748766"/> </g> <g clip-path="url(#p45accf0388)"> <use href="#C1_0_d106ea09ab" x="355.928463" y="441.122418" style="fill: #008000; fill-opacity: 0.748834; stroke: #008000; stroke-opacity: 0.748834"/> </g> <g clip-path="url(#p45accf0388)"> <use href="#C1_0_d106ea09ab" x="299.404534" y="424.881612" style="fill: #008000; fill-opacity: 0.750183; stroke: #008000; stroke-opacity: 0.750183"/> </g> <g clip-path="url(#p45accf0388)"> <use href="#C1_0_d106ea09ab" x="271.922418" y="438.030227" style="fill: #008000; fill-opacity: 0.750277; stroke: #008000; stroke-opacity: 0.750277"/> </g> <g clip-path="url(#p45accf0388)"> <use href="#C1_0_d106ea09ab" x="388.373204" y="383.474306" style="fill: #008000; fill-opacity: 0.75042; stroke: #008000; stroke-opacity: 0.75042"/> </g> <g clip-path="url(#p45accf0388)"> <use href="#C1_0_d106ea09ab" x="225.312846" y="409.490176" style="fill: #008000; fill-opacity: 0.750802; stroke: #008000; stroke-opacity: 0.750802"/> </g> <g clip-path="url(#p45accf0388)"> <use href="#C1_0_d106ea09ab" x="313.308816" y="433.949622" style="fill: #008000; fill-opacity: 0.751319; stroke: #008000; stroke-opacity: 0.751319"/> </g> <g clip-path="url(#p45accf0388)"> <use href="#C1_0_d106ea09ab" x="376.331486" y="461.978841" style="fill: #008000; fill-opacity: 0.752712; stroke: #008000; stroke-opacity: 0.752712"/> </g> <g clip-path="url(#p45accf0388)"> <use href="#C1_0_d106ea09ab" x="249.578841" y="426.613602" style="fill: #008000; fill-opacity: 0.752836; stroke: #008000; stroke-opacity: 0.752836"/> </g> <g clip-path="url(#p45accf0388)"> <use href="#C1_0_d106ea09ab" x="194.783879" y="446.644836" style="fill: #008000; fill-opacity: 0.753355; stroke: #008000; stroke-opacity: 0.753355"/> </g> <g clip-path="url(#p45accf0388)"> <use href="#C1_0_d106ea09ab" x="282.80403" y="440.297229" style="fill: #008000; fill-opacity: 0.754246; stroke: #008000; stroke-opacity: 0.754246"/> </g> <g clip-path="url(#p45accf0388)"> <use href="#C1_0_d106ea09ab" x="353.812594" y="398.608564" style="fill: #008000; fill-opacity: 0.75497; stroke: #008000; stroke-opacity: 0.75497"/> </g> <g clip-path="url(#p45accf0388)"> <use href="#C1_0_d106ea09ab" x="176.327456" y="404.378841" style="fill: #008000; fill-opacity: 0.75512; stroke: #008000; stroke-opacity: 0.75512"/> </g> <g clip-path="url(#p45accf0388)"> <use href="#C1_0_d106ea09ab" x="355.928463" y="414.353652" style="fill: #008000; fill-opacity: 0.755793; stroke: #008000; stroke-opacity: 0.755793"/> </g> <g clip-path="url(#p45accf0388)"> <use href="#C1_0_d106ea09ab" x="364.089673" y="449.283627" style="fill: #008000; fill-opacity: 0.756079; stroke: #008000; stroke-opacity: 0.756079"/> </g> <g clip-path="url(#p45accf0388)"> <use href="#C1_0_d106ea09ab" x="360.462469" y="435.681612" style="fill: #008000; fill-opacity: 0.756379; stroke: #008000; stroke-opacity: 0.756379"/> </g> <g clip-path="url(#p45accf0388)"> <use href="#C1_0_d106ea09ab" x="294.398992" y="457.886146" style="fill: #008000; fill-opacity: 0.757104; stroke: #008000; stroke-opacity: 0.757104"/> </g> <g clip-path="url(#p45accf0388)"> <use href="#C1_0_d106ea09ab" x="355.626196" y="389.540554" style="fill: #008000; fill-opacity: 0.75722; stroke: #008000; stroke-opacity: 0.75722"/> </g> <g clip-path="url(#p45accf0388)"> <use href="#C1_0_d106ea09ab" x="397.441814" y="431.147607" style="fill: #008000; fill-opacity: 0.757289; stroke: #008000; stroke-opacity: 0.757289"/> </g> <g clip-path="url(#p45accf0388)"> <use href="#C1_0_d106ea09ab" x="238.697229" y="476.487657" style="fill: #008000; fill-opacity: 0.757749; stroke: #008000; stroke-opacity: 0.757749"/> </g> <g clip-path="url(#p45accf0388)"> <use href="#C1_0_d106ea09ab" x="156.649874" y="386.242821" style="fill: #008000; fill-opacity: 0.757844; stroke: #008000; stroke-opacity: 0.757844"/> </g> <g clip-path="url(#p45accf0388)"> <use href="#C1_0_d106ea09ab" x="242.409068" y="461.51335" style="fill: #008000; fill-opacity: 0.757895; stroke: #008000; stroke-opacity: 0.757895"/> </g> <g clip-path="url(#p45accf0388)"> <use href="#C1_0_d106ea09ab" x="376.784887" y="383.522418" style="fill: #008000; fill-opacity: 0.758191; stroke: #008000; stroke-opacity: 0.758191"/> </g> <g clip-path="url(#p45accf0388)"> <use href="#C1_0_d106ea09ab" x="297.766247" y="439.390428" style="fill: #008000; fill-opacity: 0.758826; stroke: #008000; stroke-opacity: 0.758826"/> </g> <g clip-path="url(#p45accf0388)"> <use href="#C1_0_d106ea09ab" x="370.43728" y="383.975819" style="fill: #008000; fill-opacity: 0.759258; stroke: #008000; stroke-opacity: 0.759258"/> </g> <g clip-path="url(#p45accf0388)"> <use href="#C1_0_d106ea09ab" x="292.968" y="454.464" style="fill: #008000; fill-opacity: 0.759356; stroke: #008000; stroke-opacity: 0.759356"/> </g> <g clip-path="url(#p45accf0388)"> <use href="#C1_0_d106ea09ab" x="242.409068" y="474.208564" style="fill: #008000; fill-opacity: 0.759387; stroke: #008000; stroke-opacity: 0.759387"/> </g> <g clip-path="url(#p45accf0388)"> <use href="#C1_0_d106ea09ab" x="426.459446" y="435.862972" style="fill: #008000; fill-opacity: 0.759765; stroke: #008000; stroke-opacity: 0.759765"/> </g> <g clip-path="url(#p45accf0388)"> <use href="#C1_0_d106ea09ab" x="355.626196" y="408.885642" style="fill: #008000; fill-opacity: 0.760511; stroke: #008000; stroke-opacity: 0.760511"/> </g> <g clip-path="url(#p45accf0388)"> <use href="#C1_0_d106ea09ab" x="392.907809" y="445.656423" style="fill: #008000; fill-opacity: 0.76064; stroke: #008000; stroke-opacity: 0.76064"/> </g> <g clip-path="url(#p45accf0388)"> <use href="#C1_0_d106ea09ab" x="258.126952" y="480.858438" style="fill: #008000; fill-opacity: 0.761025; stroke: #008000; stroke-opacity: 0.761025"/> </g> <g clip-path="url(#p45accf0388)"> <use href="#C1_0_d106ea09ab" x="187.227204" y="422.463476" style="fill: #008000; fill-opacity: 0.76117; stroke: #008000; stroke-opacity: 0.76117"/> </g> <g clip-path="url(#p45accf0388)"> <use href="#C1_0_d106ea09ab" x="414.398992" y="452.910831" style="fill: #008000; fill-opacity: 0.76118; stroke: #008000; stroke-opacity: 0.76118"/> </g> <g clip-path="url(#p45accf0388)"> <use href="#C1_0_d106ea09ab" x="268.084785" y="428.131794" style="fill: #008000; fill-opacity: 0.761248; stroke: #008000; stroke-opacity: 0.761248"/> </g> <g clip-path="url(#p45accf0388)"> <use href="#C1_0_d106ea09ab" x="348.976322" y="427.904282" style="fill: #008000; fill-opacity: 0.761316; stroke: #008000; stroke-opacity: 0.761316"/> </g> <g clip-path="url(#p45accf0388)"> <use href="#C1_0_d106ea09ab" x="295.344" y="452.808" style="fill: #008000; fill-opacity: 0.761569; stroke: #008000; stroke-opacity: 0.761569"/> </g> <g clip-path="url(#p45accf0388)"> <use href="#C1_0_d106ea09ab" x="430.682591" y="409.600353" style="fill: #008000; fill-opacity: 0.761862; stroke: #008000; stroke-opacity: 0.761862"/> </g> <g clip-path="url(#p45accf0388)"> <use href="#C1_0_d106ea09ab" x="318.145088" y="429.717884" style="fill: #008000; fill-opacity: 0.761869; stroke: #008000; stroke-opacity: 0.761869"/> </g> <g clip-path="url(#p45accf0388)"> <use href="#C1_0_d106ea09ab" x="303.334005" y="480.114861" style="fill: #008000; fill-opacity: 0.762187; stroke: #008000; stroke-opacity: 0.762187"/> </g> <g clip-path="url(#p45accf0388)"> <use href="#C1_0_d106ea09ab" x="441.577259" y="423.139357" style="fill: #008000; fill-opacity: 0.762441; stroke: #008000; stroke-opacity: 0.762441"/> </g> <g clip-path="url(#p45accf0388)"> <use href="#C1_0_d106ea09ab" x="234.078589" y="436.367758" style="fill: #008000; fill-opacity: 0.762499; stroke: #008000; stroke-opacity: 0.762499"/> </g> <g clip-path="url(#p45accf0388)"> <use href="#C1_0_d106ea09ab" x="296.406045" y="442.110831" style="fill: #008000; fill-opacity: 0.763264; stroke: #008000; stroke-opacity: 0.763264"/> </g> <g clip-path="url(#p45accf0388)"> <use href="#C1_0_d106ea09ab" x="307.263476" y="423.672544" style="fill: #008000; fill-opacity: 0.763746; stroke: #008000; stroke-opacity: 0.763746"/> </g> <g clip-path="url(#p45accf0388)"> <use href="#C1_0_d106ea09ab" x="267.194962" y="456.677078" style="fill: #008000; fill-opacity: 0.763811; stroke: #008000; stroke-opacity: 0.763811"/> </g> <g clip-path="url(#p45accf0388)"> <use href="#C1_0_d106ea09ab" x="195.086146" y="388.93602" style="fill: #008000; fill-opacity: 0.763984; stroke: #008000; stroke-opacity: 0.763984"/> </g> <g clip-path="url(#p45accf0388)"> <use href="#C1_0_d106ea09ab" x="184.809068" y="422.463476" style="fill: #008000; fill-opacity: 0.764408; stroke: #008000; stroke-opacity: 0.764408"/> </g> <g clip-path="url(#p45accf0388)"> <use href="#C1_0_d106ea09ab" x="432.269193" y="420.177699" style="fill: #008000; fill-opacity: 0.764536; stroke: #008000; stroke-opacity: 0.764536"/> </g> <g clip-path="url(#p45accf0388)"> <use href="#C1_0_d106ea09ab" x="360.619517" y="435.331794" style="fill: #008000; fill-opacity: 0.765484; stroke: #008000; stroke-opacity: 0.765484"/> </g> <g clip-path="url(#p45accf0388)"> <use href="#C1_0_d106ea09ab" x="281.703778" y="465.745088" style="fill: #008000; fill-opacity: 0.765485; stroke: #008000; stroke-opacity: 0.765485"/> </g> <g clip-path="url(#p45accf0388)"> <use href="#C1_0_d106ea09ab" x="306.054408" y="436.972292" style="fill: #008000; fill-opacity: 0.76597; stroke: #008000; stroke-opacity: 0.76597"/> </g> <g clip-path="url(#p45accf0388)"> <use href="#C1_0_d106ea09ab" x="234.98539" y="433.345088" style="fill: #008000; fill-opacity: 0.766484; stroke: #008000; stroke-opacity: 0.766484"/> </g> <g clip-path="url(#p45accf0388)"> <use href="#C1_0_d106ea09ab" x="265.38136" y="401.328967" style="fill: #008000; fill-opacity: 0.766493; stroke: #008000; stroke-opacity: 0.766493"/> </g> <g clip-path="url(#p45accf0388)"> <use href="#C1_0_d106ea09ab" x="252.988413" y="452.747607" style="fill: #008000; fill-opacity: 0.766502; stroke: #008000; stroke-opacity: 0.766502"/> </g> <g clip-path="url(#p45accf0388)"> <use href="#C1_0_d106ea09ab" x="345.953652" y="451.481108" style="fill: #008000; fill-opacity: 0.767016; stroke: #008000; stroke-opacity: 0.767016"/> </g> <g clip-path="url(#p45accf0388)"> <use href="#C1_0_d106ea09ab" x="231.358186" y="449.667506" style="fill: #008000; fill-opacity: 0.767165; stroke: #008000; stroke-opacity: 0.767165"/> </g> <g clip-path="url(#p45accf0388)"> <use href="#C1_0_d106ea09ab" x="329.256" y="435.816" style="fill: #008000; fill-opacity: 0.767382; stroke: #008000; stroke-opacity: 0.767382"/> </g> <g clip-path="url(#p45accf0388)"> <use href="#C1_0_d106ea09ab" x="338.699244" y="415.209068" style="fill: #008000; fill-opacity: 0.767427; stroke: #008000; stroke-opacity: 0.767427"/> </g> <g clip-path="url(#p45accf0388)"> <use href="#C1_0_d106ea09ab" x="333.258438" y="407.07204" style="fill: #008000; fill-opacity: 0.767427; stroke: #008000; stroke-opacity: 0.767427"/> </g> <g clip-path="url(#p45accf0388)"> <use href="#C1_0_d106ea09ab" x="146.130982" y="411.179849" style="fill: #008000; fill-opacity: 0.767781; stroke: #008000; stroke-opacity: 0.767781"/> </g> <g clip-path="url(#p45accf0388)"> <use href="#C1_0_d106ea09ab" x="409.230227" y="432.054408" style="fill: #008000; fill-opacity: 0.767839; stroke: #008000; stroke-opacity: 0.767839"/> </g> <g clip-path="url(#p45accf0388)"> <use href="#C1_0_d106ea09ab" x="256.506801" y="443.017632" style="fill: #008000; fill-opacity: 0.767954; stroke: #008000; stroke-opacity: 0.767954"/> </g> <g clip-path="url(#p45accf0388)"> <use href="#C1_0_d106ea09ab" x="299.592" y="436.896" style="fill: #008000; fill-opacity: 0.768191; stroke: #008000; stroke-opacity: 0.768191"/> </g> <g clip-path="url(#p45accf0388)"> <use href="#C1_0_d106ea09ab" x="366.356675" y="456.084635" style="fill: #008000; fill-opacity: 0.768409; stroke: #008000; stroke-opacity: 0.768409"/> </g> <g clip-path="url(#p45accf0388)"> <use href="#C1_0_d106ea09ab" x="412.912649" y="388.234112" style="fill: #008000; fill-opacity: 0.769277; stroke: #008000; stroke-opacity: 0.769277"/> </g> <g clip-path="url(#p45accf0388)"> <use href="#C1_0_d106ea09ab" x="350.18539" y="433.345088" style="fill: #008000; fill-opacity: 0.769295; stroke: #008000; stroke-opacity: 0.769295"/> </g> <g clip-path="url(#p45accf0388)"> <use href="#C1_0_d106ea09ab" x="271.015617" y="432.589421" style="fill: #008000; fill-opacity: 0.769912; stroke: #008000; stroke-opacity: 0.769912"/> </g> <g clip-path="url(#p45accf0388)"> <use href="#C1_0_d106ea09ab" x="278.681108" y="466.349622" style="fill: #008000; fill-opacity: 0.770422; stroke: #008000; stroke-opacity: 0.770422"/> </g> <g clip-path="url(#p45accf0388)"> <use href="#C1_0_d106ea09ab" x="393.089169" y="428.155164" style="fill: #008000; fill-opacity: 0.771451; stroke: #008000; stroke-opacity: 0.771451"/> </g> <g clip-path="url(#p45accf0388)"> <use href="#C1_0_d106ea09ab" x="316.93602" y="417.627204" style="fill: #008000; fill-opacity: 0.771547; stroke: #008000; stroke-opacity: 0.771547"/> </g> <g clip-path="url(#p45accf0388)"> <use href="#C1_0_d106ea09ab" x="291.980856" y="480.858438" style="fill: #008000; fill-opacity: 0.77156; stroke: #008000; stroke-opacity: 0.77156"/> </g> <g clip-path="url(#p45accf0388)"> <use href="#C1_0_d106ea09ab" x="287.338035" y="435.763224" style="fill: #008000; fill-opacity: 0.771687; stroke: #008000; stroke-opacity: 0.771687"/> </g> <g clip-path="url(#p45accf0388)"> <use href="#C1_0_d106ea09ab" x="315.726952" y="449.667506" style="fill: #008000; fill-opacity: 0.77169; stroke: #008000; stroke-opacity: 0.77169"/> </g> <g clip-path="url(#p45accf0388)"> <use href="#C1_0_d106ea09ab" x="245.431738" y="485.996977" style="fill: #008000; fill-opacity: 0.771968; stroke: #008000; stroke-opacity: 0.771968"/> </g> <g clip-path="url(#p45accf0388)"> <use href="#C1_0_d106ea09ab" x="406.883561" y="413.302424" style="fill: #008000; fill-opacity: 0.772316; stroke: #008000; stroke-opacity: 0.772316"/> </g> <g clip-path="url(#p45accf0388)"> <use href="#C1_0_d106ea09ab" x="269.202015" y="424.428212" style="fill: #008000; fill-opacity: 0.77254; stroke: #008000; stroke-opacity: 0.77254"/> </g> <g clip-path="url(#p45accf0388)"> <use href="#C1_0_d106ea09ab" x="342.40806" y="461.335013" style="fill: #008000; fill-opacity: 0.772828; stroke: #008000; stroke-opacity: 0.772828"/> </g> <g clip-path="url(#p45accf0388)"> <use href="#C1_0_d106ea09ab" x="414.671033" y="431.601008" style="fill: #008000; fill-opacity: 0.77292; stroke: #008000; stroke-opacity: 0.77292"/> </g> <g clip-path="url(#p45accf0388)"> <use href="#C1_0_d106ea09ab" x="226.455416" y="471.953652" style="fill: #008000; fill-opacity: 0.77294; stroke: #008000; stroke-opacity: 0.77294"/> </g> <g clip-path="url(#p45accf0388)"> <use href="#C1_0_d106ea09ab" x="346.558186" y="396.190428" style="fill: #008000; fill-opacity: 0.773078; stroke: #008000; stroke-opacity: 0.773078"/> </g> <g clip-path="url(#p45accf0388)"> <use href="#C1_0_d106ea09ab" x="261.754156" y="473.60403" style="fill: #008000; fill-opacity: 0.773635; stroke: #008000; stroke-opacity: 0.773635"/> </g> <g clip-path="url(#p45accf0388)"> <use href="#C1_0_d106ea09ab" x="296.817128" y="453.654408" style="fill: #008000; fill-opacity: 0.773915; stroke: #008000; stroke-opacity: 0.773915"/> </g> <g clip-path="url(#p45accf0388)"> <use href="#C1_0_d106ea09ab" x="262.963224" y="482.067506" style="fill: #008000; fill-opacity: 0.773939; stroke: #008000; stroke-opacity: 0.773939"/> </g> <g clip-path="url(#p45accf0388)"> <use href="#C1_0_d106ea09ab" x="135.06801" y="390.323426" style="fill: #008000; fill-opacity: 0.774192; stroke: #008000; stroke-opacity: 0.774192"/> </g> <g clip-path="url(#p45accf0388)"> <use href="#C1_0_d106ea09ab" x="242.777834" y="439.308816" style="fill: #008000; fill-opacity: 0.774727; stroke: #008000; stroke-opacity: 0.774727"/> </g> <g clip-path="url(#p45accf0388)"> <use href="#C1_0_d106ea09ab" x="319.354156" y="439.994962" style="fill: #008000; fill-opacity: 0.774973; stroke: #008000; stroke-opacity: 0.774973"/> </g> <g clip-path="url(#p45accf0388)"> <use href="#C1_0_d106ea09ab" x="278.076574" y="463.024685" style="fill: #008000; fill-opacity: 0.775061; stroke: #008000; stroke-opacity: 0.775061"/> </g> <g clip-path="url(#p45accf0388)"> <use href="#C1_0_d106ea09ab" x="311.495214" y="436.972292" style="fill: #008000; fill-opacity: 0.775362; stroke: #008000; stroke-opacity: 0.775362"/> </g> <g clip-path="url(#p45accf0388)"> <use href="#C1_0_d106ea09ab" x="259.940554" y="467.55869" style="fill: #008000; fill-opacity: 0.775972; stroke: #008000; stroke-opacity: 0.775972"/> </g> <g clip-path="url(#p45accf0388)"> <use href="#C1_0_d106ea09ab" x="290.058438" y="443.471033" style="fill: #008000; fill-opacity: 0.776032; stroke: #008000; stroke-opacity: 0.776032"/> </g> <g clip-path="url(#p45accf0388)"> <use href="#C1_0_d106ea09ab" x="456.914412" y="405.369414" style="fill: #008000; fill-opacity: 0.776226; stroke: #008000; stroke-opacity: 0.776226"/> </g> <g clip-path="url(#p45accf0388)"> <use href="#C1_0_d106ea09ab" x="289.56272" y="471.185894" style="fill: #008000; fill-opacity: 0.776256; stroke: #008000; stroke-opacity: 0.776256"/> </g> <g clip-path="url(#p45accf0388)"> <use href="#C1_0_d106ea09ab" x="245.044836" y="433.41461" style="fill: #008000; fill-opacity: 0.776341; stroke: #008000; stroke-opacity: 0.776341"/> </g> <g clip-path="url(#p45accf0388)"> <use href="#C1_0_d106ea09ab" x="189.64534" y="415.511335" style="fill: #008000; fill-opacity: 0.776539; stroke: #008000; stroke-opacity: 0.776539"/> </g> <g clip-path="url(#p45accf0388)"> <use href="#C1_0_d106ea09ab" x="387.013602" y="440.941058" style="fill: #008000; fill-opacity: 0.776556; stroke: #008000; stroke-opacity: 0.776556"/> </g> <g clip-path="url(#p45accf0388)"> <use href="#C1_0_d106ea09ab" x="242.409068" y="458.49068" style="fill: #008000; fill-opacity: 0.776798; stroke: #008000; stroke-opacity: 0.776798"/> </g> <g clip-path="url(#p45accf0388)"> <use href="#C1_0_d106ea09ab" x="302.427204" y="441.20403" style="fill: #008000; fill-opacity: 0.777078; stroke: #008000; stroke-opacity: 0.777078"/> </g> <g clip-path="url(#p45accf0388)"> <use href="#C1_0_d106ea09ab" x="320.563224" y="430.926952" style="fill: #008000; fill-opacity: 0.777326; stroke: #008000; stroke-opacity: 0.777326"/> </g> <g clip-path="url(#p45accf0388)"> <use href="#C1_0_d106ea09ab" x="329.112" y="433.584" style="fill: #008000; fill-opacity: 0.777345; stroke: #008000; stroke-opacity: 0.777345"/> </g> <g clip-path="url(#p45accf0388)"> <use href="#C1_0_d106ea09ab" x="263.870025" y="457.281612" style="fill: #008000; fill-opacity: 0.77754; stroke: #008000; stroke-opacity: 0.77754"/> </g> <g clip-path="url(#p45accf0388)"> <use href="#C1_0_d106ea09ab" x="291.744" y="428.184" style="fill: #008000; fill-opacity: 0.777668; stroke: #008000; stroke-opacity: 0.777668"/> </g> <g clip-path="url(#p45accf0388)"> <use href="#C1_0_d106ea09ab" x="178.141058" y="409.366247" style="fill: #008000; fill-opacity: 0.778632; stroke: #008000; stroke-opacity: 0.778632"/> </g> <g clip-path="url(#p45accf0388)"> <use href="#C1_0_d106ea09ab" x="280.990428" y="443.471033" style="fill: #008000; fill-opacity: 0.778995; stroke: #008000; stroke-opacity: 0.778995"/> </g> <g clip-path="url(#p45accf0388)"> <use href="#C1_0_d106ea09ab" x="184.204534" y="392.563224" style="fill: #008000; fill-opacity: 0.779462; stroke: #008000; stroke-opacity: 0.779462"/> </g> <g clip-path="url(#p45accf0388)"> <use href="#C1_0_d106ea09ab" x="314.517884" y="392.563224" style="fill: #008000; fill-opacity: 0.779462; stroke: #008000; stroke-opacity: 0.779462"/> </g> <g clip-path="url(#p45accf0388)"> <use href="#C1_0_d106ea09ab" x="305.449874" y="419.743073" style="fill: #008000; fill-opacity: 0.779478; stroke: #008000; stroke-opacity: 0.779478"/> </g> <g clip-path="url(#p45accf0388)"> <use href="#C1_0_d106ea09ab" x="250.485642" y="423.875063" style="fill: #008000; fill-opacity: 0.779648; stroke: #008000; stroke-opacity: 0.779648"/> </g> <g clip-path="url(#p45accf0388)"> <use href="#C1_0_d106ea09ab" x="393.13301" y="419.966152" style="fill: #008000; fill-opacity: 0.780763; stroke: #008000; stroke-opacity: 0.780763"/> </g> <g clip-path="url(#p45accf0388)"> <use href="#C1_0_d106ea09ab" x="384.039295" y="461.978841" style="fill: #008000; fill-opacity: 0.780809; stroke: #008000; stroke-opacity: 0.780809"/> </g> <g clip-path="url(#p45accf0388)"> <use href="#C1_0_d106ea09ab" x="247.24534" y="468.163224" style="fill: #008000; fill-opacity: 0.780812; stroke: #008000; stroke-opacity: 0.780812"/> </g> <g clip-path="url(#p45accf0388)"> <use href="#C1_0_d106ea09ab" x="256.011083" y="471.185894" style="fill: #008000; fill-opacity: 0.781035; stroke: #008000; stroke-opacity: 0.781035"/> </g> <g clip-path="url(#p45accf0388)"> <use href="#C1_0_d106ea09ab" x="291.627204" y="454.534005" style="fill: #008000; fill-opacity: 0.781211; stroke: #008000; stroke-opacity: 0.781211"/> </g> <g clip-path="url(#p45accf0388)"> <use href="#C1_0_d106ea09ab" x="363.636272" y="446.563224" style="fill: #008000; fill-opacity: 0.782641; stroke: #008000; stroke-opacity: 0.782641"/> </g> <g clip-path="url(#p45accf0388)"> <use href="#C1_0_d106ea09ab" x="176.327456" y="393.95063" style="fill: #008000; fill-opacity: 0.782726; stroke: #008000; stroke-opacity: 0.782726"/> </g> <g clip-path="url(#p45accf0388)"> <use href="#C1_0_d106ea09ab" x="337.198741" y="449.308709" style="fill: #008000; fill-opacity: 0.783214; stroke: #008000; stroke-opacity: 0.783214"/> </g> <g clip-path="url(#p45accf0388)"> <use href="#C1_0_d106ea09ab" x="240.426196" y="394.376826" style="fill: #008000; fill-opacity: 0.783729; stroke: #008000; stroke-opacity: 0.783729"/> </g> <g clip-path="url(#p45accf0388)"> <use href="#C1_0_d106ea09ab" x="240.057431" y="465.606045" style="fill: #008000; fill-opacity: 0.784315; stroke: #008000; stroke-opacity: 0.784315"/> </g> <g clip-path="url(#p45accf0388)"> <use href="#C1_0_d106ea09ab" x="239.821662" y="404.653904" style="fill: #008000; fill-opacity: 0.784626; stroke: #008000; stroke-opacity: 0.784626"/> </g> <g clip-path="url(#p45accf0388)"> <use href="#C1_0_d106ea09ab" x="304.84534" y="394.98136" style="fill: #008000; fill-opacity: 0.785151; stroke: #008000; stroke-opacity: 0.785151"/> </g> <g clip-path="url(#p45accf0388)"> <use href="#C1_0_d106ea09ab" x="333.862972" y="433.949622" style="fill: #008000; fill-opacity: 0.785318; stroke: #008000; stroke-opacity: 0.785318"/> </g> <g clip-path="url(#p45accf0388)"> <use href="#C1_0_d106ea09ab" x="286.54005" y="480.253904" style="fill: #008000; fill-opacity: 0.785575; stroke: #008000; stroke-opacity: 0.785575"/> </g> <g clip-path="url(#p45accf0388)"> <use href="#C1_0_d106ea09ab" x="255.019647" y="439.308816" style="fill: #008000; fill-opacity: 0.78569; stroke: #008000; stroke-opacity: 0.78569"/> </g> <g clip-path="url(#p45accf0388)"> <use href="#C1_0_d106ea09ab" x="224.188413" y="476.487657" style="fill: #008000; fill-opacity: 0.78628; stroke: #008000; stroke-opacity: 0.78628"/> </g> <g clip-path="url(#p45accf0388)"> <use href="#C1_0_d106ea09ab" x="332.653904" y="436.972292" style="fill: #008000; fill-opacity: 0.787081; stroke: #008000; stroke-opacity: 0.787081"/> </g> <g clip-path="url(#p45accf0388)"> <use href="#C1_0_d106ea09ab" x="373.157683" y="474.674055" style="fill: #008000; fill-opacity: 0.788989; stroke: #008000; stroke-opacity: 0.788989"/> </g> <g clip-path="url(#p45accf0388)"> <use href="#C1_0_d106ea09ab" x="255.996642" y="434.931375" style="fill: #008000; fill-opacity: 0.7899; stroke: #008000; stroke-opacity: 0.7899"/> </g> <g clip-path="url(#p45accf0388)"> <use href="#C1_0_d106ea09ab" x="238.612594" y="409.792443" style="fill: #008000; fill-opacity: 0.789952; stroke: #008000; stroke-opacity: 0.789952"/> </g> <g clip-path="url(#p45accf0388)"> <use href="#C1_0_d106ea09ab" x="269.595803" y="443.997482" style="fill: #008000; fill-opacity: 0.790626; stroke: #008000; stroke-opacity: 0.790626"/> </g> <g clip-path="url(#p45accf0388)"> <use href="#C1_0_d106ea09ab" x="280.728" y="444.528" style="fill: #008000; fill-opacity: 0.79083; stroke: #008000; stroke-opacity: 0.79083"/> </g> <g clip-path="url(#p45accf0388)"> <use href="#C1_0_d106ea09ab" x="223.801511" y="397.399496" style="fill: #008000; fill-opacity: 0.790841; stroke: #008000; stroke-opacity: 0.790841"/> </g> <g clip-path="url(#p45accf0388)"> <use href="#C1_0_d106ea09ab" x="348.976322" y="423.672544" style="fill: #008000; fill-opacity: 0.790856; stroke: #008000; stroke-opacity: 0.790856"/> </g> <g clip-path="url(#p45accf0388)"> <use href="#C1_0_d106ea09ab" x="396.988413" y="472.407053" style="fill: #008000; fill-opacity: 0.791026; stroke: #008000; stroke-opacity: 0.791026"/> </g> <g clip-path="url(#p45accf0388)"> <use href="#C1_0_d106ea09ab" x="275.658438" y="460.908816" style="fill: #008000; fill-opacity: 0.791878; stroke: #008000; stroke-opacity: 0.791878"/> </g> <g clip-path="url(#p45accf0388)"> <use href="#C1_0_d106ea09ab" x="318.749622" y="469.233249" style="fill: #008000; fill-opacity: 0.791922; stroke: #008000; stroke-opacity: 0.791922"/> </g> <g clip-path="url(#p45accf0388)"> <use href="#C1_0_d106ea09ab" x="283.710831" y="419.894207" style="fill: #008000; fill-opacity: 0.793174; stroke: #008000; stroke-opacity: 0.793174"/> </g> <g clip-path="url(#p45accf0388)"> <use href="#C1_0_d106ea09ab" x="266.481612" y="433.042821" style="fill: #008000; fill-opacity: 0.793398; stroke: #008000; stroke-opacity: 0.793398"/> </g> <g clip-path="url(#p45accf0388)"> <use href="#C1_0_d106ea09ab" x="365.903275" y="422.968262" style="fill: #008000; fill-opacity: 0.793457; stroke: #008000; stroke-opacity: 0.793457"/> </g> <g clip-path="url(#p45accf0388)"> <use href="#C1_0_d106ea09ab" x="343.233249" y="461.978841" style="fill: #008000; fill-opacity: 0.793774; stroke: #008000; stroke-opacity: 0.793774"/> </g> <g clip-path="url(#p45accf0388)"> <use href="#C1_0_d106ea09ab" x="290.167254" y="460.908816" style="fill: #008000; fill-opacity: 0.794216; stroke: #008000; stroke-opacity: 0.794216"/> </g> <g clip-path="url(#p45accf0388)"> <use href="#C1_0_d106ea09ab" x="318.749622" y="451.481108" style="fill: #008000; fill-opacity: 0.795033; stroke: #008000; stroke-opacity: 0.795033"/> </g> <g clip-path="url(#p45accf0388)"> <use href="#C1_0_d106ea09ab" x="225.010579" y="453.29471" style="fill: #008000; fill-opacity: 0.795322; stroke: #008000; stroke-opacity: 0.795322"/> </g> <g clip-path="url(#p45accf0388)"> <use href="#C1_0_d106ea09ab" x="275.053904" y="453.654408" style="fill: #008000; fill-opacity: 0.796086; stroke: #008000; stroke-opacity: 0.796086"/> </g> <g clip-path="url(#p45accf0388)"> <use href="#C1_0_d106ea09ab" x="298.026196" y="479.64937" style="fill: #008000; fill-opacity: 0.796171; stroke: #008000; stroke-opacity: 0.796171"/> </g> <g clip-path="url(#p45accf0388)"> <use href="#C1_0_d106ea09ab" x="267.194962" y="485.090176" style="fill: #008000; fill-opacity: 0.796744; stroke: #008000; stroke-opacity: 0.796744"/> </g> <g clip-path="url(#p45accf0388)"> <use href="#C1_0_d106ea09ab" x="251.779345" y="473.301763" style="fill: #008000; fill-opacity: 0.796921; stroke: #008000; stroke-opacity: 0.796921"/> </g> <g clip-path="url(#p45accf0388)"> <use href="#C1_0_d106ea09ab" x="369.983879" y="419.341058" style="fill: #008000; fill-opacity: 0.797481; stroke: #008000; stroke-opacity: 0.797481"/> </g> <g clip-path="url(#p45accf0388)"> <use href="#C1_0_d106ea09ab" x="199.922418" y="400.422166" style="fill: #008000; fill-opacity: 0.797952; stroke: #008000; stroke-opacity: 0.797952"/> </g> <g clip-path="url(#p45accf0388)"> <use href="#C1_0_d106ea09ab" x="243.013602" y="452.44534" style="fill: #008000; fill-opacity: 0.798527; stroke: #008000; stroke-opacity: 0.798527"/> </g> <g clip-path="url(#p45accf0388)"> <use href="#C1_0_d106ea09ab" x="167.712846" y="410.726448" style="fill: #008000; fill-opacity: 0.798605; stroke: #008000; stroke-opacity: 0.798605"/> </g> <g clip-path="url(#p45accf0388)"> <use href="#C1_0_d106ea09ab" x="239.821662" y="447.551637" style="fill: #008000; fill-opacity: 0.799088; stroke: #008000; stroke-opacity: 0.799088"/> </g> <g clip-path="url(#p45accf0388)"> <use href="#C1_0_d106ea09ab" x="308.321411" y="479.20806" style="fill: #008000; fill-opacity: 0.799816; stroke: #008000; stroke-opacity: 0.799816"/> </g> <g clip-path="url(#p45accf0388)"> <use href="#C1_0_d106ea09ab" x="307.263476" y="427.904282" style="fill: #008000; fill-opacity: 0.79982; stroke: #008000; stroke-opacity: 0.79982"/> </g> <g clip-path="url(#p45accf0388)"> <use href="#C1_0_d106ea09ab" x="360.009068" y="476.034257" style="fill: #008000; fill-opacity: 0.800095; stroke: #008000; stroke-opacity: 0.800095"/> </g> <g clip-path="url(#p45accf0388)"> <use href="#C1_0_d106ea09ab" x="377.691688" y="401.658438" style="fill: #008000; fill-opacity: 0.800861; stroke: #008000; stroke-opacity: 0.800861"/> </g> <g clip-path="url(#p45accf0388)"> <use href="#C1_0_d106ea09ab" x="304.240806" y="459.258438" style="fill: #008000; fill-opacity: 0.801432; stroke: #008000; stroke-opacity: 0.801432"/> </g> <g clip-path="url(#p45accf0388)"> <use href="#C1_0_d106ea09ab" x="325.399496" y="456.31738" style="fill: #008000; fill-opacity: 0.802059; stroke: #008000; stroke-opacity: 0.802059"/> </g> <g clip-path="url(#p45accf0388)"> <use href="#C1_0_d106ea09ab" x="224.708312" y="437.274559" style="fill: #008000; fill-opacity: 0.802068; stroke: #008000; stroke-opacity: 0.802068"/> </g> <g clip-path="url(#p45accf0388)"> <use href="#C1_0_d106ea09ab" x="328.724433" y="474.674055" style="fill: #008000; fill-opacity: 0.802975; stroke: #008000; stroke-opacity: 0.802975"/> </g> <g clip-path="url(#p45accf0388)"> <use href="#C1_0_d106ea09ab" x="399.267871" y="412.350463" style="fill: #008000; fill-opacity: 0.80306; stroke: #008000; stroke-opacity: 0.80306"/> </g> <g clip-path="url(#p45accf0388)"> <use href="#C1_0_d106ea09ab" x="325.097229" y="456.538035" style="fill: #008000; fill-opacity: 0.803632; stroke: #008000; stroke-opacity: 0.803632"/> </g> <g clip-path="url(#p45accf0388)"> <use href="#C1_0_d106ea09ab" x="377.691688" y="471.500252" style="fill: #008000; fill-opacity: 0.803838; stroke: #008000; stroke-opacity: 0.803838"/> </g> <g clip-path="url(#p45accf0388)"> <use href="#C1_0_d106ea09ab" x="440.061461" y="436.135013" style="fill: #008000; fill-opacity: 0.804437; stroke: #008000; stroke-opacity: 0.804437"/> </g> <g clip-path="url(#p45accf0388)"> <use href="#C1_0_d106ea09ab" x="411.1145" y="403.359718" style="fill: #008000; fill-opacity: 0.804864; stroke: #008000; stroke-opacity: 0.804864"/> </g> <g clip-path="url(#p45accf0388)"> <use href="#C1_0_d106ea09ab" x="256.31335" y="452.143073" style="fill: #008000; fill-opacity: 0.805457; stroke: #008000; stroke-opacity: 0.805457"/> </g> <g clip-path="url(#p45accf0388)"> <use href="#C1_0_d106ea09ab" x="344.14005" y="433.345088" style="fill: #008000; fill-opacity: 0.805944; stroke: #008000; stroke-opacity: 0.805944"/> </g> <g clip-path="url(#p45accf0388)"> <use href="#C1_0_d106ea09ab" x="418.932997" y="431.873048" style="fill: #008000; fill-opacity: 0.807832; stroke: #008000; stroke-opacity: 0.807832"/> </g> <g clip-path="url(#p45accf0388)"> <use href="#C1_0_d106ea09ab" x="235.070025" y="473.313854" style="fill: #008000; fill-opacity: 0.808977; stroke: #008000; stroke-opacity: 0.808977"/> </g> <g clip-path="url(#p45accf0388)"> <use href="#C1_0_d106ea09ab" x="299.016" y="439.704" style="fill: #008000; fill-opacity: 0.809012; stroke: #008000; stroke-opacity: 0.809012"/> </g> <g clip-path="url(#p45accf0388)"> <use href="#C1_0_d106ea09ab" x="270.351312" y="405.466527" style="fill: #008000; fill-opacity: 0.80982; stroke: #008000; stroke-opacity: 0.80982"/> </g> <g clip-path="url(#p45accf0388)"> <use href="#C1_0_d106ea09ab" x="283.51738" y="452.44534" style="fill: #008000; fill-opacity: 0.811177; stroke: #008000; stroke-opacity: 0.811177"/> </g> <g clip-path="url(#p45accf0388)"> <use href="#C1_0_d106ea09ab" x="269.613098" y="463.629219" style="fill: #008000; fill-opacity: 0.811589; stroke: #008000; stroke-opacity: 0.811589"/> </g> <g clip-path="url(#p45accf0388)"> <use href="#C1_0_d106ea09ab" x="296.817128" y="460.908816" style="fill: #008000; fill-opacity: 0.811951; stroke: #008000; stroke-opacity: 0.811951"/> </g> <g clip-path="url(#p45accf0388)"> <use href="#C1_0_d106ea09ab" x="248.454408" y="406.467506" style="fill: #008000; fill-opacity: 0.812175; stroke: #008000; stroke-opacity: 0.812175"/> </g> <g clip-path="url(#p45accf0388)"> <use href="#C1_0_d106ea09ab" x="214.213602" y="458.351637" style="fill: #008000; fill-opacity: 0.812438; stroke: #008000; stroke-opacity: 0.812438"/> </g> <g clip-path="url(#p45accf0388)"> <use href="#C1_0_d106ea09ab" x="417.844836" y="467.873048" style="fill: #008000; fill-opacity: 0.814052; stroke: #008000; stroke-opacity: 0.814052"/> </g> <g clip-path="url(#p45accf0388)"> <use href="#C1_0_d106ea09ab" x="297.312846" y="428.962217" style="fill: #008000; fill-opacity: 0.814304; stroke: #008000; stroke-opacity: 0.814304"/> </g> <g clip-path="url(#p45accf0388)"> <use href="#C1_0_d106ea09ab" x="216.84937" y="430.020151" style="fill: #008000; fill-opacity: 0.814565; stroke: #008000; stroke-opacity: 0.814565"/> </g> <g clip-path="url(#p45accf0388)"> <use href="#C1_0_d106ea09ab" x="401.975819" y="465.152645" style="fill: #008000; fill-opacity: 0.814785; stroke: #008000; stroke-opacity: 0.814785"/> </g> <g clip-path="url(#p45accf0388)"> <use href="#C1_0_d106ea09ab" x="244.524937" y="407.676574" style="fill: #008000; fill-opacity: 0.81502; stroke: #008000; stroke-opacity: 0.81502"/> </g> <g clip-path="url(#p45accf0388)"> <use href="#C1_0_d106ea09ab" x="295.499244" y="431.68262" style="fill: #008000; fill-opacity: 0.815256; stroke: #008000; stroke-opacity: 0.815256"/> </g> <g clip-path="url(#p45accf0388)"> <use href="#C1_0_d106ea09ab" x="212.146096" y="459.711839" style="fill: #008000; fill-opacity: 0.815484; stroke: #008000; stroke-opacity: 0.815484"/> </g> <g clip-path="url(#p45accf0388)"> <use href="#C1_0_d106ea09ab" x="319.536" y="443.16" style="fill: #008000; fill-opacity: 0.816507; stroke: #008000; stroke-opacity: 0.816507"/> </g> <g clip-path="url(#p45accf0388)"> <use href="#C1_0_d106ea09ab" x="241.804534" y="465.745088" style="fill: #008000; fill-opacity: 0.81657; stroke: #008000; stroke-opacity: 0.81657"/> </g> <g clip-path="url(#p45accf0388)"> <use href="#C1_0_d106ea09ab" x="330.840302" y="435.763224" style="fill: #008000; fill-opacity: 0.819895; stroke: #008000; stroke-opacity: 0.819895"/> </g> <g clip-path="url(#p45accf0388)"> <use href="#C1_0_d106ea09ab" x="259.33602" y="479.044836" style="fill: #008000; fill-opacity: 0.820051; stroke: #008000; stroke-opacity: 0.820051"/> </g> <g clip-path="url(#p45accf0388)"> <use href="#C1_0_d106ea09ab" x="376.784887" y="451.55063" style="fill: #008000; fill-opacity: 0.820449; stroke: #008000; stroke-opacity: 0.820449"/> </g> <g clip-path="url(#p45accf0388)"> <use href="#C1_0_d106ea09ab" x="248.67204" y="430.694207" style="fill: #008000; fill-opacity: 0.820538; stroke: #008000; stroke-opacity: 0.820538"/> </g> <g clip-path="url(#p45accf0388)"> <use href="#C1_0_d106ea09ab" x="371.797481" y="433.86801" style="fill: #008000; fill-opacity: 0.821274; stroke: #008000; stroke-opacity: 0.821274"/> </g> <g clip-path="url(#p45accf0388)"> <use href="#C1_0_d106ea09ab" x="421.2" y="469.41461" style="fill: #008000; fill-opacity: 0.821401; stroke: #008000; stroke-opacity: 0.821401"/> </g> <g clip-path="url(#p45accf0388)"> <use href="#C1_0_d106ea09ab" x="240.728463" y="456.31738" style="fill: #008000; fill-opacity: 0.821913; stroke: #008000; stroke-opacity: 0.821913"/> </g> <g clip-path="url(#p45accf0388)"> <use href="#C1_0_d106ea09ab" x="360.462469" y="410.726448" style="fill: #008000; fill-opacity: 0.822196; stroke: #008000; stroke-opacity: 0.822196"/> </g> <g clip-path="url(#p45accf0388)"> <use href="#C1_0_d106ea09ab" x="300.613602" y="468.326448" style="fill: #008000; fill-opacity: 0.824403; stroke: #008000; stroke-opacity: 0.824403"/> </g> <g clip-path="url(#p45accf0388)"> <use href="#C1_0_d106ea09ab" x="333.862972" y="455.712846" style="fill: #008000; fill-opacity: 0.824547; stroke: #008000; stroke-opacity: 0.824547"/> </g> <g clip-path="url(#p45accf0388)"> <use href="#C1_0_d106ea09ab" x="311.797481" y="446.644836" style="fill: #008000; fill-opacity: 0.824855; stroke: #008000; stroke-opacity: 0.824855"/> </g> <g clip-path="url(#p45accf0388)"> <use href="#C1_0_d106ea09ab" x="326.00403" y="468.326448" style="fill: #008000; fill-opacity: 0.825606; stroke: #008000; stroke-opacity: 0.825606"/> </g> <g clip-path="url(#p45accf0388)"> <use href="#C1_0_d106ea09ab" x="377.238287" y="432.961209" style="fill: #008000; fill-opacity: 0.825927; stroke: #008000; stroke-opacity: 0.825927"/> </g> <g clip-path="url(#p45accf0388)"> <use href="#C1_0_d106ea09ab" x="328.422166" y="435.15869" style="fill: #008000; fill-opacity: 0.827377; stroke: #008000; stroke-opacity: 0.827377"/> </g> <g clip-path="url(#p45accf0388)"> <use href="#C1_0_d106ea09ab" x="345.953652" y="444.831234" style="fill: #008000; fill-opacity: 0.827854; stroke: #008000; stroke-opacity: 0.827854"/> </g> <g clip-path="url(#p45accf0388)"> <use href="#C1_0_d106ea09ab" x="345.953652" y="459.258438" style="fill: #008000; fill-opacity: 0.828146; stroke: #008000; stroke-opacity: 0.828146"/> </g> <g clip-path="url(#p45accf0388)"> <use href="#C1_0_d106ea09ab" x="256.31335" y="469.372292" style="fill: #008000; fill-opacity: 0.828323; stroke: #008000; stroke-opacity: 0.828323"/> </g> <g clip-path="url(#p45accf0388)"> <use href="#C1_0_d106ea09ab" x="249.578841" y="440.669018" style="fill: #008000; fill-opacity: 0.828391; stroke: #008000; stroke-opacity: 0.828391"/> </g> <g clip-path="url(#p45accf0388)"> <use href="#C1_0_d106ea09ab" x="331.444836" y="446.040302" style="fill: #008000; fill-opacity: 0.82972; stroke: #008000; stroke-opacity: 0.82972"/> </g> <g clip-path="url(#p45accf0388)"> <use href="#C1_0_d106ea09ab" x="218.058438" y="456.619647" style="fill: #008000; fill-opacity: 0.829967; stroke: #008000; stroke-opacity: 0.829967"/> </g> <g clip-path="url(#p45accf0388)"> <use href="#C1_0_d106ea09ab" x="327.817632" y="446.040302" style="fill: #008000; fill-opacity: 0.830279; stroke: #008000; stroke-opacity: 0.830279"/> </g> <g clip-path="url(#p45accf0388)"> <use href="#C1_0_d106ea09ab" x="355.626196" y="426.09068" style="fill: #008000; fill-opacity: 0.831274; stroke: #008000; stroke-opacity: 0.831274"/> </g> <g clip-path="url(#p45accf0388)"> <use href="#C1_0_d106ea09ab" x="233.776322" y="455.108312" style="fill: #008000; fill-opacity: 0.83132; stroke: #008000; stroke-opacity: 0.83132"/> </g> <g clip-path="url(#p45accf0388)"> <use href="#C1_0_d106ea09ab" x="313.91335" y="414.604534" style="fill: #008000; fill-opacity: 0.83132; stroke: #008000; stroke-opacity: 0.83132"/> </g> <g clip-path="url(#p45accf0388)"> <use href="#C1_0_d106ea09ab" x="295.499244" y="437.576826" style="fill: #008000; fill-opacity: 0.83242; stroke: #008000; stroke-opacity: 0.83242"/> </g> <g clip-path="url(#p45accf0388)"> <use href="#C1_0_d106ea09ab" x="291.41864" y="419.214106" style="fill: #008000; fill-opacity: 0.832518; stroke: #008000; stroke-opacity: 0.832518"/> </g> <g clip-path="url(#p45accf0388)"> <use href="#C1_0_d106ea09ab" x="231.442821" y="479.20806" style="fill: #008000; fill-opacity: 0.835056; stroke: #008000; stroke-opacity: 0.835056"/> </g> <g clip-path="url(#p45accf0388)"> <use href="#C1_0_d106ea09ab" x="389.280605" y="446.109824" style="fill: #008000; fill-opacity: 0.835795; stroke: #008000; stroke-opacity: 0.835795"/> </g> <g clip-path="url(#p45accf0388)"> <use href="#C1_0_d106ea09ab" x="327.213098" y="448.156171" style="fill: #008000; fill-opacity: 0.836989; stroke: #008000; stroke-opacity: 0.836989"/> </g> <g clip-path="url(#p45accf0388)"> <use href="#C1_0_d106ea09ab" x="275.549622" y="440.75063" style="fill: #008000; fill-opacity: 0.837453; stroke: #008000; stroke-opacity: 0.837453"/> </g> <g clip-path="url(#p45accf0388)"> <use href="#C1_0_d106ea09ab" x="216.934005" y="466.059446" style="fill: #008000; fill-opacity: 0.837561; stroke: #008000; stroke-opacity: 0.837561"/> </g> <g clip-path="url(#p45accf0388)"> <use href="#C1_0_d106ea09ab" x="292.325441" y="423.06801" style="fill: #008000; fill-opacity: 0.838044; stroke: #008000; stroke-opacity: 0.838044"/> </g> <g clip-path="url(#p45accf0388)"> <use href="#C1_0_d106ea09ab" x="340.512846" y="443.622166" style="fill: #008000; fill-opacity: 0.838069; stroke: #008000; stroke-opacity: 0.838069"/> </g> <g clip-path="url(#p45accf0388)"> <use href="#C1_0_d106ea09ab" x="320.563224" y="471.500252" style="fill: #008000; fill-opacity: 0.838498; stroke: #008000; stroke-opacity: 0.838498"/> </g> <g clip-path="url(#p45accf0388)"> <use href="#C1_0_d106ea09ab" x="217.151637" y="450.27204" style="fill: #008000; fill-opacity: 0.838558; stroke: #008000; stroke-opacity: 0.838558"/> </g> <g clip-path="url(#p45accf0388)"> <use href="#C1_0_d106ea09ab" x="403.789421" y="460.165239" style="fill: #008000; fill-opacity: 0.838594; stroke: #008000; stroke-opacity: 0.838594"/> </g> <g clip-path="url(#p45accf0388)"> <use href="#C1_0_d106ea09ab" x="398.348615" y="468.326448" style="fill: #008000; fill-opacity: 0.840296; stroke: #008000; stroke-opacity: 0.840296"/> </g> <g clip-path="url(#p45accf0388)"> <use href="#C1_0_d106ea09ab" x="278.270025" y="445.738035" style="fill: #008000; fill-opacity: 0.841195; stroke: #008000; stroke-opacity: 0.841195"/> </g> <g clip-path="url(#p45accf0388)"> <use href="#C1_0_d106ea09ab" x="312.704282" y="418.836272" style="fill: #008000; fill-opacity: 0.841276; stroke: #008000; stroke-opacity: 0.841276"/> </g> <g clip-path="url(#p45accf0388)"> <use href="#C1_0_d106ea09ab" x="428.884442" y="419.437285" style="fill: #008000; fill-opacity: 0.84269; stroke: #008000; stroke-opacity: 0.84269"/> </g> <g clip-path="url(#p45accf0388)"> <use href="#C1_0_d106ea09ab" x="315.122418" y="452.690176" style="fill: #008000; fill-opacity: 0.843669; stroke: #008000; stroke-opacity: 0.843669"/> </g> <g clip-path="url(#p45accf0388)"> <use href="#C1_0_d106ea09ab" x="294.139043" y="425.335013" style="fill: #008000; fill-opacity: 0.843732; stroke: #008000; stroke-opacity: 0.843732"/> </g> <g clip-path="url(#p45accf0388)"> <use href="#C1_0_d106ea09ab" x="286.54005" y="483.881108" style="fill: #008000; fill-opacity: 0.846208; stroke: #008000; stroke-opacity: 0.846208"/> </g> <g clip-path="url(#p45accf0388)"> <use href="#C1_0_d106ea09ab" x="212.617632" y="420.952141" style="fill: #008000; fill-opacity: 0.846254; stroke: #008000; stroke-opacity: 0.846254"/> </g> <g clip-path="url(#p45accf0388)"> <use href="#C1_0_d106ea09ab" x="260.529696" y="443.997482" style="fill: #008000; fill-opacity: 0.846457; stroke: #008000; stroke-opacity: 0.846457"/> </g> <g clip-path="url(#p45accf0388)"> <use href="#C1_0_d106ea09ab" x="285.140399" y="495.651626" style="fill: #008000; fill-opacity: 0.847436; stroke: #008000; stroke-opacity: 0.847436"/> </g> <g clip-path="url(#p45accf0388)"> <use href="#C1_0_d106ea09ab" x="353.812594" y="423.06801" style="fill: #008000; fill-opacity: 0.847753; stroke: #008000; stroke-opacity: 0.847753"/> </g> <g clip-path="url(#p45accf0388)"> <use href="#C1_0_d106ea09ab" x="261.149622" y="471.790428" style="fill: #008000; fill-opacity: 0.848727; stroke: #008000; stroke-opacity: 0.848727"/> </g> <g clip-path="url(#p45accf0388)"> <use href="#C1_0_d106ea09ab" x="457.654826" y="422.610489" style="fill: #008000; fill-opacity: 0.850156; stroke: #008000; stroke-opacity: 0.850156"/> </g> <g clip-path="url(#p45accf0388)"> <use href="#C1_0_d106ea09ab" x="367.716877" y="471.953652" style="fill: #008000; fill-opacity: 0.85032; stroke: #008000; stroke-opacity: 0.85032"/> </g> <g clip-path="url(#p45accf0388)"> <use href="#C1_0_d106ea09ab" x="349.127456" y="462.885642" style="fill: #008000; fill-opacity: 0.850742; stroke: #008000; stroke-opacity: 0.850742"/> </g> <g clip-path="url(#p45accf0388)"> <use href="#C1_0_d106ea09ab" x="271.922418" y="425.335013" style="fill: #008000; fill-opacity: 0.850856; stroke: #008000; stroke-opacity: 0.850856"/> </g> <g clip-path="url(#p45accf0388)"> <use href="#C1_0_d106ea09ab" x="298.026196" y="463.931486" style="fill: #008000; fill-opacity: 0.850994; stroke: #008000; stroke-opacity: 0.850994"/> </g> <g clip-path="url(#p45accf0388)"> <use href="#C1_0_d106ea09ab" x="273.240302" y="468.767758" style="fill: #008000; fill-opacity: 0.851523; stroke: #008000; stroke-opacity: 0.851523"/> </g> <g clip-path="url(#p45accf0388)"> <use href="#C1_0_d106ea09ab" x="321.333054" y="423.243652" style="fill: #008000; fill-opacity: 0.851646; stroke: #008000; stroke-opacity: 0.851646"/> </g> <g clip-path="url(#p45accf0388)"> <use href="#C1_0_d106ea09ab" x="325.399496" y="452.085642" style="fill: #008000; fill-opacity: 0.851777; stroke: #008000; stroke-opacity: 0.851777"/> </g> <g clip-path="url(#p45accf0388)"> <use href="#C1_0_d106ea09ab" x="407.235264" y="470.865491" style="fill: #008000; fill-opacity: 0.851899; stroke: #008000; stroke-opacity: 0.851899"/> </g> <g clip-path="url(#p45accf0388)"> <use href="#C1_0_d106ea09ab" x="345.046851" y="471.953652" style="fill: #008000; fill-opacity: 0.85322; stroke: #008000; stroke-opacity: 0.85322"/> </g> <g clip-path="url(#p45accf0388)"> <use href="#C1_0_d106ea09ab" x="184.809068" y="429.717884" style="fill: #008000; fill-opacity: 0.853287; stroke: #008000; stroke-opacity: 0.853287"/> </g> <g clip-path="url(#p45accf0388)"> <use href="#C1_0_d106ea09ab" x="320.563224" y="460.165239" style="fill: #008000; fill-opacity: 0.854725; stroke: #008000; stroke-opacity: 0.854725"/> </g> <g clip-path="url(#p45accf0388)"> <use href="#C1_0_d106ea09ab" x="277.363224" y="437.576826" style="fill: #008000; fill-opacity: 0.855229; stroke: #008000; stroke-opacity: 0.855229"/> </g> <g clip-path="url(#p45accf0388)"> <use href="#C1_0_d106ea09ab" x="381.772292" y="444.749622" style="fill: #008000; fill-opacity: 0.85591; stroke: #008000; stroke-opacity: 0.85591"/> </g> <g clip-path="url(#p45accf0388)"> <use href="#C1_0_d106ea09ab" x="251.463589" y="425.109759" style="fill: #008000; fill-opacity: 0.856036; stroke: #008000; stroke-opacity: 0.856036"/> </g> <g clip-path="url(#p45accf0388)"> <use href="#C1_0_d106ea09ab" x="292.58539" y="472.999496" style="fill: #008000; fill-opacity: 0.856428; stroke: #008000; stroke-opacity: 0.856428"/> </g> <g clip-path="url(#p45accf0388)"> <use href="#C1_0_d106ea09ab" x="280.990428" y="448.458438" style="fill: #008000; fill-opacity: 0.856513; stroke: #008000; stroke-opacity: 0.856513"/> </g> <g clip-path="url(#p45accf0388)"> <use href="#C1_0_d106ea09ab" x="300.009068" y="445.435768" style="fill: #008000; fill-opacity: 0.857055; stroke: #008000; stroke-opacity: 0.857055"/> </g> <g clip-path="url(#p45accf0388)"> <use href="#C1_0_d106ea09ab" x="348.371788" y="438.785894" style="fill: #008000; fill-opacity: 0.857248; stroke: #008000; stroke-opacity: 0.857248"/> </g> <g clip-path="url(#p45accf0388)"> <use href="#C1_0_d106ea09ab" x="266.481612" y="428.055416" style="fill: #008000; fill-opacity: 0.857839; stroke: #008000; stroke-opacity: 0.857839"/> </g> <g clip-path="url(#p45accf0388)"> <use href="#C1_0_d106ea09ab" x="247.765239" y="435.681612" style="fill: #008000; fill-opacity: 0.857979; stroke: #008000; stroke-opacity: 0.857979"/> </g> <g clip-path="url(#p45accf0388)"> <use href="#C1_0_d106ea09ab" x="437.341058" y="426.160202" style="fill: #008000; fill-opacity: 0.858508; stroke: #008000; stroke-opacity: 0.858508"/> </g> <g clip-path="url(#p45accf0388)"> <use href="#C1_0_d106ea09ab" x="252.988413" y="450.329471" style="fill: #008000; fill-opacity: 0.859178; stroke: #008000; stroke-opacity: 0.859178"/> </g> <g clip-path="url(#p45accf0388)"> <use href="#C1_0_d106ea09ab" x="290.965239" y="426.695214" style="fill: #008000; fill-opacity: 0.859766; stroke: #008000; stroke-opacity: 0.859766"/> </g> <g clip-path="url(#p45accf0388)"> <use href="#C1_0_d106ea09ab" x="322.613641" y="483.412382" style="fill: #008000; fill-opacity: 0.862031; stroke: #008000; stroke-opacity: 0.862031"/> </g> <g clip-path="url(#p45accf0388)"> <use href="#C1_0_d106ea09ab" x="268.706297" y="476.022166" style="fill: #008000; fill-opacity: 0.863662; stroke: #008000; stroke-opacity: 0.863662"/> </g> <g clip-path="url(#p45accf0388)"> <use href="#C1_0_d106ea09ab" x="324.190428" y="428.508816" style="fill: #008000; fill-opacity: 0.864033; stroke: #008000; stroke-opacity: 0.864033"/> </g> <g clip-path="url(#p45accf0388)"> <use href="#C1_0_d106ea09ab" x="291.888" y="452.664" style="fill: #008000; fill-opacity: 0.86485; stroke: #008000; stroke-opacity: 0.86485"/> </g> <g clip-path="url(#p45accf0388)"> <use href="#C1_0_d106ea09ab" x="318.311018" y="442.131375" style="fill: #008000; fill-opacity: 0.865083; stroke: #008000; stroke-opacity: 0.865083"/> </g> <g clip-path="url(#p45accf0388)"> <use href="#C1_0_d106ea09ab" x="327.213098" y="429.11335" style="fill: #008000; fill-opacity: 0.865456; stroke: #008000; stroke-opacity: 0.865456"/> </g> <g clip-path="url(#p45accf0388)"> <use href="#C1_0_d106ea09ab" x="315.432" y="430.344" style="fill: #008000; fill-opacity: 0.868351; stroke: #008000; stroke-opacity: 0.868351"/> </g> <g clip-path="url(#p45accf0388)"> <use href="#C1_0_d106ea09ab" x="276.456423" y="433.042821" style="fill: #008000; fill-opacity: 0.868706; stroke: #008000; stroke-opacity: 0.868706"/> </g> <g clip-path="url(#p45accf0388)"> <use href="#C1_0_d106ea09ab" x="264.172292" y="485.69471" style="fill: #008000; fill-opacity: 0.869033; stroke: #008000; stroke-opacity: 0.869033"/> </g> <g clip-path="url(#p45accf0388)"> <use href="#C1_0_d106ea09ab" x="276.867506" y="474.813098" style="fill: #008000; fill-opacity: 0.869264; stroke: #008000; stroke-opacity: 0.869264"/> </g> <g clip-path="url(#p45accf0388)"> <use href="#C1_0_d106ea09ab" x="292.58539" y="464.53602" style="fill: #008000; fill-opacity: 0.873306; stroke: #008000; stroke-opacity: 0.873306"/> </g> <g clip-path="url(#p45accf0388)"> <use href="#C1_0_d106ea09ab" x="305.449874" y="432.740554" style="fill: #008000; fill-opacity: 0.873989; stroke: #008000; stroke-opacity: 0.873989"/> </g> <g clip-path="url(#p45accf0388)"> <use href="#C1_0_d106ea09ab" x="421.925441" y="434.04937" style="fill: #008000; fill-opacity: 0.877069; stroke: #008000; stroke-opacity: 0.877069"/> </g> <g clip-path="url(#p45accf0388)"> <use href="#C1_0_d106ea09ab" x="373.611083" y="471.953652" style="fill: #008000; fill-opacity: 0.877678; stroke: #008000; stroke-opacity: 0.877678"/> </g> <g clip-path="url(#p45accf0388)"> <use href="#C1_0_d106ea09ab" x="252.299244" y="435.228212" style="fill: #008000; fill-opacity: 0.879842; stroke: #008000; stroke-opacity: 0.879842"/> </g> <g clip-path="url(#p45accf0388)"> <use href="#C1_0_d106ea09ab" x="244.827204" y="478.440302" style="fill: #008000; fill-opacity: 0.880689; stroke: #008000; stroke-opacity: 0.880689"/> </g> <g clip-path="url(#p45accf0388)"> <use href="#C1_0_d106ea09ab" x="192.66801" y="437.576826" style="fill: #008000; fill-opacity: 0.885368; stroke: #008000; stroke-opacity: 0.885368"/> </g> <g clip-path="url(#p45accf0388)"> <use href="#C1_0_d106ea09ab" x="384.039295" y="473.767254" style="fill: #008000; fill-opacity: 0.88844; stroke: #008000; stroke-opacity: 0.88844"/> </g> <g clip-path="url(#p45accf0388)"> <use href="#C1_0_d106ea09ab" x="260.587406" y="438.937028" style="fill: #008000; fill-opacity: 0.888568; stroke: #008000; stroke-opacity: 0.888568"/> </g> <g clip-path="url(#p45accf0388)"> <use href="#C1_0_d106ea09ab" x="307.41461" y="474.674055" style="fill: #008000; fill-opacity: 0.889996; stroke: #008000; stroke-opacity: 0.889996"/> </g> <g clip-path="url(#p45accf0388)"> <use href="#C1_0_d106ea09ab" x="308.592" y="440.712" style="fill: #008000; fill-opacity: 0.892744; stroke: #008000; stroke-opacity: 0.892744"/> </g> <g clip-path="url(#p45accf0388)"> <use href="#C1_0_d106ea09ab" x="408.595466" y="456.084635" style="fill: #008000; fill-opacity: 0.892913; stroke: #008000; stroke-opacity: 0.892913"/> </g> <g clip-path="url(#p45accf0388)"> <use href="#C1_0_d106ea09ab" x="314.517884" y="444.2267" style="fill: #008000; fill-opacity: 0.894964; stroke: #008000; stroke-opacity: 0.894964"/> </g> <g clip-path="url(#p45accf0388)"> <use href="#C1_0_d106ea09ab" x="345.046851" y="480.568262" style="fill: #008000; fill-opacity: 0.896713; stroke: #008000; stroke-opacity: 0.896713"/> </g> <g clip-path="url(#p45accf0388)"> <use href="#C1_0_d106ea09ab" x="283.51738" y="469.976826" style="fill: #008000; fill-opacity: 0.905436; stroke: #008000; stroke-opacity: 0.905436"/> </g> <g clip-path="url(#p45accf0388)"> <use href="#C1_0_d106ea09ab" x="307.86801" y="465.606045" style="fill: #008000; fill-opacity: 0.905695; stroke: #008000; stroke-opacity: 0.905695"/> </g> <g clip-path="url(#p45accf0388)"> <use href="#C1_0_d106ea09ab" x="420.383879" y="448.195466" style="fill: #008000; fill-opacity: 0.910351; stroke: #008000; stroke-opacity: 0.910351"/> </g> <g clip-path="url(#p45accf0388)"> <use href="#C1_0_d106ea09ab" x="306.13602" y="465.415617" style="fill: #008000; fill-opacity: 0.911008; stroke: #008000; stroke-opacity: 0.911008"/> </g> <g clip-path="url(#p45accf0388)"> <use href="#C1_0_d106ea09ab" x="215.035768" y="456.921914" style="fill: #008000; fill-opacity: 0.911217; stroke: #008000; stroke-opacity: 0.911217"/> </g> <g clip-path="url(#p45accf0388)"> <use href="#C1_0_d106ea09ab" x="295.499244" y="448.911839" style="fill: #008000; fill-opacity: 0.912037; stroke: #008000; stroke-opacity: 0.912037"/> </g> <g clip-path="url(#p45accf0388)"> <use href="#C1_0_d106ea09ab" x="337.792443" y="449.365239" style="fill: #008000; fill-opacity: 0.913103; stroke: #008000; stroke-opacity: 0.913103"/> </g> <g clip-path="url(#p45accf0388)"> <use href="#C1_0_d106ea09ab" x="267.194962" y="461.211083" style="fill: #008000; fill-opacity: 0.91734; stroke: #008000; stroke-opacity: 0.91734"/> </g> <g clip-path="url(#p45accf0388)"> <use href="#C1_0_d106ea09ab" x="297.421662" y="469.372292" style="fill: #008000; fill-opacity: 0.919948; stroke: #008000; stroke-opacity: 0.919948"/> </g> <g clip-path="url(#p45accf0388)"> <use href="#C1_0_d106ea09ab" x="335.978841" y="476.941058" style="fill: #008000; fill-opacity: 0.920721; stroke: #008000; stroke-opacity: 0.920721"/> </g> <g clip-path="url(#p45accf0388)"> <use href="#C1_0_d106ea09ab" x="390.640806" y="469.68665" style="fill: #008000; fill-opacity: 0.920885; stroke: #008000; stroke-opacity: 0.920885"/> </g> <g clip-path="url(#p45accf0388)"> <use href="#C1_0_d106ea09ab" x="316.029219" y="475.580856" style="fill: #008000; fill-opacity: 0.932704; stroke: #008000; stroke-opacity: 0.932704"/> </g> <g clip-path="url(#p45accf0388)"> <use href="#C1_0_d106ea09ab" x="304.481427" y="484.318993" style="fill: #008000; fill-opacity: 0.941767; stroke: #008000; stroke-opacity: 0.941767"/> </g> <g clip-path="url(#p45accf0388)"> <use href="#C1_0_d106ea09ab" x="271.728967" y="485.090176" style="fill: #008000; fill-opacity: 0.94523; stroke: #008000; stroke-opacity: 0.94523"/> </g> <g clip-path="url(#p45accf0388)"> <use href="#C1_0_d106ea09ab" x="256.31335" y="476.6267" style="fill: #008000; fill-opacity: 0.950534; stroke: #008000; stroke-opacity: 0.950534"/> </g> <g clip-path="url(#p45accf0388)"> <use href="#C1_0_d106ea09ab" x="310.588413" y="468.326448" style="fill: #008000; fill-opacity: 0.951191; stroke: #008000; stroke-opacity: 0.951191"/> </g> <g clip-path="url(#p45accf0388)"> <use href="#C1_0_d106ea09ab" x="286.54005" y="471.790428" style="fill: #008000; fill-opacity: 0.953185; stroke: #008000; stroke-opacity: 0.953185"/> </g> <g clip-path="url(#p45accf0388)"> <use href="#C1_0_d106ea09ab" x="273.844836" y="474.208564" style="fill: #008000; fill-opacity: 0.953631; stroke: #008000; stroke-opacity: 0.953631"/> </g> <g clip-path="url(#p45accf0388)"> <use href="#C1_0_d106ea09ab" x="345.128463" y="482.644836" style="fill: #008000; fill-opacity: 0.954414; stroke: #008000; stroke-opacity: 0.954414"/> </g> <g clip-path="url(#p45accf0388)"> <use href="#C1_0_d106ea09ab" x="280.49471" y="485.996977" style="fill: #008000; fill-opacity: 0.961921; stroke: #008000; stroke-opacity: 0.961921"/> </g> <g clip-path="url(#p45accf0388)"> <use href="#C1_0_d106ea09ab" x="320.109824" y="475.127456" style="fill: #008000; fill-opacity: 0.973716; stroke: #008000; stroke-opacity: 0.973716"/> </g> <g clip-path="url(#p45accf0388)"> <use href="#C1_0_d106ea09ab" x="293.440806" y="480.831234" style="fill: #008000; fill-opacity: 0.987135; stroke: #008000; stroke-opacity: 0.987135"/> </g> <g clip-path="url(#p45accf0388)"> <use href="#C1_0_d106ea09ab" x="254.197481" y="481.160705" style="fill: #008000; fill-opacity: 0.98791; stroke: #008000; stroke-opacity: 0.98791"/> </g> <g clip-path="url(#p45accf0388)"> <use href="#C1_0_d106ea09ab" x="287.749118" y="486.299244" style="fill: #008000; stroke: #008000"/> </g> </g> <g id="legend_1" transform="translate(0.720 0.792)"> <g id="patch_6"> <path d="M 596.96 43.02 L 666.76 43.02 Q 668.76 43.02 668.76 41.02 L 668.76 11.77 Q 668.76 9.77 666.76 9.77 L 596.96 9.77 Q 594.96 9.77 594.96 11.77 L 594.96 41.02 Q 594.96 43.02 596.96 43.02 z " style="fill: #ffffff; opacity: 0.8; stroke: #cccccc; stroke-linejoin: miter"/> </g> <g id="Path3DCollection_3"> <path d="M 609.16 20.74 C 609.63 20.74 610.09 20.55 610.43 20.22 C 610.77 19.88 610.96 19.42 610.96 18.94 C 610.96 18.46 610.77 18.00 610.43 17.67 C 610.09 17.33 609.63 17.14 609.16 17.14 C 608.68 17.14 608.22 17.33 607.88 17.67 C 607.54 18.00 607.35 18.46 607.35 18.94 C 607.35 19.42 607.54 19.88 607.88 20.22 C 608.22 20.55 608.68 20.74 609.16 20.74 z " style="fill: #008000; stroke: #008000"/> </g> <g id="text_21"> <!-- normal --> <g transform="translate(627.161503 21.571016) scale(0.1 -0.1)"> <defs> <path id="DejaVuSans-6d" d="M 3328 2828 Q 3544 3216 3844 3400 Q 4144 3584 4550 3584 Q 5097 3584 5394 3201 Q 5691 2819 5691 2113 L 5691 0 L 5113 0 L 5113 2094 Q 5113 2597 4934 2840 Q 4756 3084 4391 3084 Q 3944 3084 3684 2787 Q 3425 2491 3425 1978 L 3425 0 L 2847 0 L 2847 2094 Q 2847 2600 2669 2842 Q 2491 3084 2119 3084 Q 1678 3084 1418 2786 Q 1159 2488 1159 1978 L 1159 0 L 581 0 L 581 3500 L 1159 3500 L 1159 2956 Q 1356 3278 1631 3431 Q 1906 3584 2284 3584 Q 2666 3584 2933 3390 Q 3200 3197 3328 2828 z " transform="scale(0.015625)"/> </defs> <use href="#DejaVuSans-6e"/> <use href="#DejaVuSans-6f" transform="translate(63.378906 0)"/> <use href="#DejaVuSans-72" transform="translate(124.560547 0)"/> <use href="#DejaVuSans-6d" transform="translate(163.923828 0)"/> <use href="#DejaVuSans-61" transform="translate(261.335938 0)"/> <use href="#DejaVuSans-6c" transform="translate(322.615234 0)"/> </g> </g> <g id="Path3DCollection_4"> <path d="M 609.16 36.76 C 609.86 36.76 610.53 36.49 611.03 35.99 C 611.52 35.49 611.80 34.82 611.80 34.12 C 611.80 33.42 611.52 32.74 611.03 32.25 C 610.53 31.75 609.86 31.47 609.16 31.47 C 608.45 31.47 607.78 31.75 607.29 32.25 C 606.79 32.74 606.51 33.42 606.51 34.12 C 606.51 34.82 606.79 35.49 607.29 35.99 C 607.78 36.49 608.45 36.76 609.16 36.76 z " style="fill: #ff0000; stroke: #ff0000"/> </g> <g id="text_22"> <!-- outliers --> <g transform="translate(627.161503 36.749141) scale(0.1 -0.1)"> <defs> <path id="DejaVuSans-75" d="M 544 1381 L 544 3500 L 1119 3500 L 1119 1403 Q 1119 906 1312 657 Q 1506 409 1894 409 Q 2359 409 2629 706 Q 2900 1003 2900 1516 L 2900 3500 L 3475 3500 L 3475 0 L 2900 0 L 2900 538 Q 2691 219 2414 64 Q 2138 -91 1772 -91 Q 1169 -91 856 284 Q 544 659 544 1381 z M 1991 3584 L 1991 3584 z " transform="scale(0.015625)"/> </defs> <use href="#DejaVuSans-6f"/> <use href="#DejaVuSans-75" transform="translate(61.181641 0)"/> <use href="#DejaVuSans-74" transform="translate(124.560547 0)"/> <use href="#DejaVuSans-6c" transform="translate(163.769531 0)"/> <use href="#DejaVuSans-69" transform="translate(191.552734 0)"/> <use href="#DejaVuSans-65" transform="translate(219.335938 0)"/> <use href="#DejaVuSans-72" transform="translate(280.859375 0)"/> <use href="#DejaVuSans-73" transform="translate(321.972656 0)"/> </g> </g> </g> </g> </g> <defs> <clipPath id="p45accf0388"> <rect x="8.487753" y="4.772579" width="665.28" height="665.28"/> </clipPath> </defs> </svg> </body></html>
